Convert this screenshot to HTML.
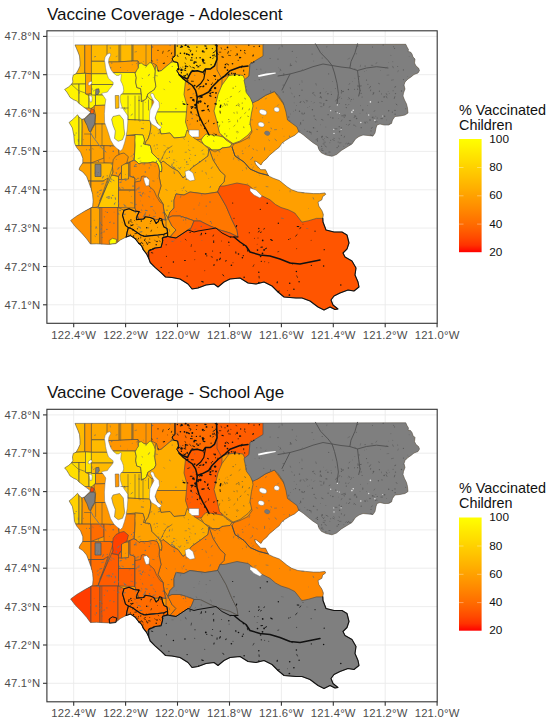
<!DOCTYPE html>
<html><head><meta charset="utf-8"><title>Vaccine Coverage</title>
<style>
html,body{margin:0;padding:0;background:#fff}
svg{display:block;font-family:"Liberation Sans",sans-serif}
</style></head><body>
<svg width="550" height="724" viewBox="0 0 550 724">
<defs><linearGradient id="lg" x1="0" y1="0" x2="0" y2="1">
<stop offset="0.0000" stop-color="#FFFF00"/>
<stop offset="0.0625" stop-color="#FFF400"/>
<stop offset="0.1250" stop-color="#FFE800"/>
<stop offset="0.1875" stop-color="#FFDD00"/>
<stop offset="0.2500" stop-color="#FFD100"/>
<stop offset="0.3125" stop-color="#FFC600"/>
<stop offset="0.3750" stop-color="#FFBA00"/>
<stop offset="0.4375" stop-color="#FFAE00"/>
<stop offset="0.5000" stop-color="#FFA100"/>
<stop offset="0.5625" stop-color="#FF9500"/>
<stop offset="0.6250" stop-color="#FF8800"/>
<stop offset="0.6875" stop-color="#FF7A00"/>
<stop offset="0.7500" stop-color="#FF6C00"/>
<stop offset="0.8125" stop-color="#FF5C00"/>
<stop offset="0.8750" stop-color="#FF4900"/>
<stop offset="0.9375" stop-color="#FF3200"/>
<stop offset="1.0000" stop-color="#FF0000"/>
</linearGradient></defs>
<rect width="550" height="724" fill="#fff"/>
<g stroke="#ebebeb" stroke-width="0.9" fill="none">
<line x1="73.7" y1="30.8" x2="73.7" y2="323.3"/>
<line x1="125.6" y1="30.8" x2="125.6" y2="323.3"/>
<line x1="177.5" y1="30.8" x2="177.5" y2="323.3"/>
<line x1="229.5" y1="30.8" x2="229.5" y2="323.3"/>
<line x1="281.4" y1="30.8" x2="281.4" y2="323.3"/>
<line x1="333.3" y1="30.8" x2="333.3" y2="323.3"/>
<line x1="385.2" y1="30.8" x2="385.2" y2="323.3"/>
<line x1="46.9" y1="36.4" x2="437.2" y2="36.4"/>
<line x1="46.9" y1="74.7" x2="437.2" y2="74.7"/>
<line x1="46.9" y1="113.1" x2="437.2" y2="113.1"/>
<line x1="46.9" y1="151.4" x2="437.2" y2="151.4"/>
<line x1="46.9" y1="189.8" x2="437.2" y2="189.8"/>
<line x1="46.9" y1="228.1" x2="437.2" y2="228.1"/>
<line x1="46.9" y1="266.5" x2="437.2" y2="266.5"/>
<line x1="46.9" y1="304.8" x2="437.2" y2="304.8"/>
</g>
<clipPath id="clip0"><polygon points="75.0,44.9 263.0,44.6 405.8,44.3 407.0,47.0 408.5,49.5 408.0,51.5 410.5,52.0 412.0,54.0 413.0,57.0 415.0,59.0 414.5,63.0 416.0,66.0 418.5,68.0 419.5,70.5 418.0,73.0 414.0,74.5 411.0,77.0 408.0,79.0 405.0,82.0 404.0,85.0 405.0,89.0 403.5,93.0 403.0,96.0 404.5,100.0 406.5,104.0 407.5,108.0 408.0,113.0 405.0,115.0 400.0,116.0 395.0,116.5 392.5,120.0 391.5,123.5 388.0,125.0 384.0,125.0 380.0,124.0 377.0,125.0 376.0,128.0 375.0,133.0 373.0,136.0 368.0,135.5 363.0,135.0 359.0,136.5 355.5,139.0 352.0,144.0 347.0,147.0 341.4,150.4 336.6,154.5 332.0,156.3 326.0,155.0 321.3,152.8 319.0,149.8 317.7,145.7 313.0,142.7 308.3,139.0 303.5,135.0 300.0,132.5 298.8,131.8 294.6,135.4 290.0,137.7 285.2,140.7 281.6,143.6 279.3,147.2 275.7,150.0 272.2,153.0 269.2,155.5 266.9,158.4 262.7,162.0 261.0,165.0 259.0,163.5 256.5,161.5 254.6,161.0 255.5,164.0 257.7,166.6 260.8,169.7 265.5,169.7 267.0,172.8 268.5,175.9 273.2,178.2 279.4,180.5 283.2,183.6 287.0,186.7 291.7,189.8 297.9,192.0 305.6,192.9 313.4,193.6 319.5,193.6 325.0,192.9 325.7,194.4 322.6,196.7 321.9,199.8 318.0,202.0 318.8,206.0 321.9,210.6 323.4,214.5 322.8,218.4 323.0,222.0 326.0,230.0 334.0,232.0 342.0,232.0 347.0,235.0 349.0,243.0 347.0,249.0 343.0,253.0 345.0,257.0 352.0,261.0 356.0,268.0 355.0,275.0 358.0,282.0 359.0,287.0 354.0,291.0 348.0,290.0 340.0,293.0 334.0,296.0 331.0,300.0 333.0,305.0 338.0,309.0 335.0,309.5 330.0,307.0 324.0,310.0 318.0,307.0 310.0,301.0 302.0,298.0 296.0,298.0 284.0,297.0 278.0,292.0 272.0,286.0 264.0,282.0 256.0,284.0 248.0,283.0 240.0,278.0 230.0,279.0 224.0,282.0 218.0,287.0 214.0,284.0 206.0,285.0 198.0,288.0 192.0,289.0 188.0,284.0 180.0,279.0 172.0,277.5 165.5,277.0 161.0,272.7 155.3,267.6 150.2,262.5 148.7,258.2 146.5,253.8 143.6,250.2 141.5,245.8 138.5,243.0 135.0,238.5 130.5,235.6 126.2,237.0 120.4,240.0 116.0,243.6 108.7,244.4 96.5,243.8 90.4,244.0 86.6,238.8 81.3,232.7 75.2,226.6 70.6,220.5 76.7,216.0 84.3,211.4 92.7,206.8 93.1,200.8 92.7,194.7 91.1,188.6 88.9,182.5 86.6,176.5 82.8,172.0 79.0,169.6 79.8,167.3 82.8,162.8 82.8,158.2 80.5,152.2 76.7,147.6 75.2,144.6 74.5,142.7 73.8,135.5 72.4,128.0 70.6,125.0 69.1,122.4 72.9,119.4 75.2,117.1 77.5,114.8 79.0,117.1 82.0,119.4 84.3,118.6 86.6,116.3 88.9,114.0 90.4,112.5 88.9,111.0 85.8,108.7 82.8,106.4 79.0,103.4 76.7,101.1 73.3,99.6 69.9,97.3 68.7,95.1 66.8,92.0 64.6,89.4 68.4,87.1 71.4,84.4 72.9,82.1 72.5,78.4 73.3,75.0 76.0,73.8 78.2,70.0 80.0,66.0 80.0,62.0 79.5,56.0 78.0,52.0 76.5,48.5"/></clipPath>
<g clip-path="url(#clip0)" stroke="#4c4c4c" stroke-width="0.65" stroke-linejoin="round">
<polygon points="75.0,44.9 263.0,44.6 405.8,44.3 407.0,47.0 408.5,49.5 408.0,51.5 410.5,52.0 412.0,54.0 413.0,57.0 415.0,59.0 414.5,63.0 416.0,66.0 418.5,68.0 419.5,70.5 418.0,73.0 414.0,74.5 411.0,77.0 408.0,79.0 405.0,82.0 404.0,85.0 405.0,89.0 403.5,93.0 403.0,96.0 404.5,100.0 406.5,104.0 407.5,108.0 408.0,113.0 405.0,115.0 400.0,116.0 395.0,116.5 392.5,120.0 391.5,123.5 388.0,125.0 384.0,125.0 380.0,124.0 377.0,125.0 376.0,128.0 375.0,133.0 373.0,136.0 368.0,135.5 363.0,135.0 359.0,136.5 355.5,139.0 352.0,144.0 347.0,147.0 341.4,150.4 336.6,154.5 332.0,156.3 326.0,155.0 321.3,152.8 319.0,149.8 317.7,145.7 313.0,142.7 308.3,139.0 303.5,135.0 300.0,132.5 298.8,131.8 294.6,135.4 290.0,137.7 285.2,140.7 281.6,143.6 279.3,147.2 275.7,150.0 272.2,153.0 269.2,155.5 266.9,158.4 262.7,162.0 261.0,165.0 259.0,163.5 256.5,161.5 254.6,161.0 255.5,164.0 257.7,166.6 260.8,169.7 265.5,169.7 267.0,172.8 268.5,175.9 273.2,178.2 279.4,180.5 283.2,183.6 287.0,186.7 291.7,189.8 297.9,192.0 305.6,192.9 313.4,193.6 319.5,193.6 325.0,192.9 325.7,194.4 322.6,196.7 321.9,199.8 318.0,202.0 318.8,206.0 321.9,210.6 323.4,214.5 322.8,218.4 323.0,222.0 326.0,230.0 334.0,232.0 342.0,232.0 347.0,235.0 349.0,243.0 347.0,249.0 343.0,253.0 345.0,257.0 352.0,261.0 356.0,268.0 355.0,275.0 358.0,282.0 359.0,287.0 354.0,291.0 348.0,290.0 340.0,293.0 334.0,296.0 331.0,300.0 333.0,305.0 338.0,309.0 335.0,309.5 330.0,307.0 324.0,310.0 318.0,307.0 310.0,301.0 302.0,298.0 296.0,298.0 284.0,297.0 278.0,292.0 272.0,286.0 264.0,282.0 256.0,284.0 248.0,283.0 240.0,278.0 230.0,279.0 224.0,282.0 218.0,287.0 214.0,284.0 206.0,285.0 198.0,288.0 192.0,289.0 188.0,284.0 180.0,279.0 172.0,277.5 165.5,277.0 161.0,272.7 155.3,267.6 150.2,262.5 148.7,258.2 146.5,253.8 143.6,250.2 141.5,245.8 138.5,243.0 135.0,238.5 130.5,235.6 126.2,237.0 120.4,240.0 116.0,243.6 108.7,244.4 96.5,243.8 90.4,244.0 86.6,238.8 81.3,232.7 75.2,226.6 70.6,220.5 76.7,216.0 84.3,211.4 92.7,206.8 93.1,200.8 92.7,194.7 91.1,188.6 88.9,182.5 86.6,176.5 82.8,172.0 79.0,169.6 79.8,167.3 82.8,162.8 82.8,158.2 80.5,152.2 76.7,147.6 75.2,144.6 74.5,142.7 73.8,135.5 72.4,128.0 70.6,125.0 69.1,122.4 72.9,119.4 75.2,117.1 77.5,114.8 79.0,117.1 82.0,119.4 84.3,118.6 86.6,116.3 88.9,114.0 90.4,112.5 88.9,111.0 85.8,108.7 82.8,106.4 79.0,103.4 76.7,101.1 73.3,99.6 69.9,97.3 68.7,95.1 66.8,92.0 64.6,89.4 68.4,87.1 71.4,84.4 72.9,82.1 72.5,78.4 73.3,75.0 76.0,73.8 78.2,70.0 80.0,66.0 80.0,62.0 79.5,56.0 78.0,52.0 76.5,48.5" fill="#FF9A00" stroke="none"/>
<polygon points="213.0,38.0 264.0,38.0 264.0,58.0 250.0,64.0 249.0,76.0 244.0,82.0 232.0,75.0 226.0,76.0 220.0,79.0 217.0,70.0 213.0,70.0" fill="#FF9A00"/>
<polygon points="175.0,62.0 217.0,60.0 217.0,70.0 222.0,79.0 222.0,139.0 203.0,139.0 194.0,140.0 187.0,132.0 180.0,100.0" fill="#FF9A00"/>
<polygon points="60.0,38.0 84.8,38.0 84.8,73.3 60.0,74.4" fill="#FFB300"/>
<polygon points="84.8,38.0 92.3,38.0 92.3,73.8 84.8,73.3" fill="#FF9F00"/>
<polygon points="84.8,73.3 92.3,73.8 92.3,94.0 84.8,94.0" fill="#FF9F00"/>
<polygon points="91.4,38.0 108.0,38.0 108.0,61.3 91.4,61.3" fill="#FFBA00"/>
<polygon points="91.4,61.3 108.0,61.3 112.0,73.8 91.4,73.8" fill="#FFC800"/>
<polygon points="107.0,38.0 119.2,38.0 119.2,62.0 107.0,62.0" fill="#FFBA00"/>
<polygon points="119.2,38.0 133.0,38.0 133.0,61.0 119.2,61.8" fill="#FFBA00"/>
<polygon points="133.0,38.0 151.5,38.0 151.5,64.5 146.0,66.0 140.0,64.5 138.0,61.0 133.0,61.0" fill="#FFAB00"/>
<polygon points="107.0,62.0 119.2,61.8 133.0,61.0 138.0,61.0 138.5,70.0 135.0,72.5 110.0,72.5" fill="#FFA100"/>
<polygon points="110.0,72.5 135.2,72.5 135.2,73.3 136.3,77.7 135.7,82.0 136.8,87.5 140.6,88.6 141.2,94.0 118.0,94.0 112.0,85.0" fill="#FFF800"/>
<polygon points="138.4,64.0 141.2,63.0 144.0,65.1 146.6,65.7 150.0,62.4 152.0,63.5 154.3,67.9 155.3,71.1 154.8,78.8 155.9,86.4 154.3,89.7 151.0,91.8 147.7,94.0 146.6,98.4 143.9,100.6 141.2,101.7 141.2,93.0 140.6,88.6 136.8,87.5 135.7,82.0 136.3,77.7 135.2,73.3 136.8,70.0 138.4,67.9" fill="#FFF800"/>
<polygon points="151.5,38.0 175.0,38.0 175.2,56.0 172.7,59.3 171.0,62.5 167.0,65.8 161.3,70.7 158.0,71.5 156.4,65.0 151.5,62.5" fill="#FF9700"/>
<polygon points="175.0,38.0 175.0,56.0 172.0,58.5 173.5,61.7 177.6,62.5 178.5,67.5 176.8,70.7 179.3,74.8 183.4,77.3 187.5,79.0 189.0,75.6 191.5,71.5 197.3,70.7 203.0,72.4 205.5,69.0 210.4,69.0 214.5,65.8 217.0,59.3 217.0,38.0" fill="#FFC600"/>
<polygon points="155.5,66.0 156.4,65.0 158.0,71.5 161.3,70.7 167.0,65.8 171.0,62.5 173.5,61.7 177.6,62.5 178.5,67.5 176.8,70.7 179.3,74.8 183.4,79.0 185.5,81.0 184.0,94.5 187.0,105.5 186.5,112.0 156.0,112.0 156.0,100.0 150.0,100.0 147.0,98.0 147.7,94.0 151.0,91.8 154.3,89.7 155.9,86.4 154.8,78.8 155.3,71.1" fill="#FFF800"/>
<polygon points="156.0,112.0 186.5,112.0 185.5,122.0 188.0,130.0 185.0,137.0 174.0,138.0 170.0,133.0 161.0,134.0 159.0,126.0 155.0,118.0" fill="#FFF800"/>
<polygon points="229.0,75.5 236.0,74.5 243.0,75.5 245.5,81.0 247.0,90.5 252.0,98.6 255.0,108.0 253.6,122.0 252.0,130.0 248.0,135.0 240.0,141.0 233.0,143.6 225.0,138.0 219.5,133.0 217.0,122.0 214.0,111.0 218.0,94.5 222.0,85.0" fill="#FFFD00"/>
<polygon points="203.0,137.0 206.0,134.0 219.0,136.0 223.0,137.0 226.0,140.0 232.0,144.0 230.0,147.0 222.0,148.0 220.0,150.0 212.0,150.0 210.0,148.0 204.0,145.0 201.0,140.0" fill="#FFFD00"/>
<polygon points="209.0,149.0 212.0,150.0 220.0,150.0 222.0,148.0 230.0,147.0 232.0,144.0 234.0,144.0 240.0,150.0 270.0,150.0 340.0,185.0 340.0,230.0 300.0,230.0 260.0,205.0 240.0,190.0 224.0,190.0 220.0,186.0 224.0,182.0 225.0,175.5 220.0,171.0 213.0,160.0" fill="#FF9F00"/>
<polygon points="234.0,144.0 240.0,142.0 248.0,138.0 252.0,132.0 250.0,123.0 251.5,113.0 253.0,106.0 252.0,100.0 257.8,100.4 265.5,95.3 274.4,91.5 300.0,127.0 300.0,140.0 268.0,165.0 270.0,175.5 259.0,173.0 250.0,169.0 244.0,162.0 235.0,156.0 232.0,147.0" fill="#FF9C00"/>
<polygon points="263.0,38.0 430.0,38.0 430.0,175.0 300.0,175.0 298.8,131.8 297.0,127.0 292.3,123.5 287.5,120.0 286.0,112.0 283.3,102.9 278.2,95.3 274.4,91.5 265.5,95.3 257.8,100.4 252.7,102.9 250.2,97.8 246.4,92.7 245.0,85.0 244.0,80.0 249.0,76.0 250.0,64.0 263.0,56.0" fill="#7f7f7f"/>
<polygon points="60.0,74.4 85.5,73.3 85.5,84.0 60.0,84.5" fill="#FFEB00"/>
<polygon points="60.0,84.3 79.0,84.0 79.0,108.0 60.0,108.0" fill="#FFF400"/>
<polygon points="79.0,84.0 85.5,84.0 85.5,94.0 89.0,95.5 89.0,108.0 79.0,108.0" fill="#FFF400"/>
<polygon points="89.0,94.0 91.4,94.0 95.5,95.0 95.5,105.5 91.0,108.5 89.0,108.0" fill="#FFF400"/>
<polygon points="91.4,73.8 114.0,73.8 114.0,84.5 91.4,84.5" fill="#FFEF00"/>
<polygon points="91.4,84.5 114.0,84.5 114.0,95.0 91.4,95.0" fill="#FFF600"/>
<polygon points="95.8,89.2 98.8,88.8 99.3,92.0 97.5,95.0 95.6,94.5" fill="#7f7f7f"/>
<polygon points="95.5,95.0 108.0,95.0 108.0,105.3 95.5,105.5" fill="#FFF400"/>
<polygon points="94.2,105.5 108.0,105.0 108.0,124.0 95.0,124.0 95.6,115.0 94.2,110.0" fill="#FFAB00"/>
<polygon points="91.3,108.5 94.2,110.0 93.7,113.6 89.8,113.6" fill="#FF5F00"/>
<polygon points="84.2,119.3 87.4,116.0 90.4,113.8 94.2,113.6 95.3,115.5 94.5,124.2 91.8,128.5 90.2,133.0 88.5,130.7 86.4,125.3" fill="#7f7f7f"/>
<polygon points="60.0,110.0 79.0,110.0 79.0,145.6 60.0,145.6" fill="#FFF100"/>
<polygon points="79.0,110.0 82.0,119.4 82.2,125.0 82.0,145.6 79.0,145.6" fill="#FFE800"/>
<polygon points="82.0,119.4 84.3,118.6 84.7,121.0 87.0,125.3 89.0,131.0 90.5,132.5 92.7,128.2 95.0,124.0 108.0,124.0 118.0,146.0 82.0,145.6 82.2,125.0" fill="#FFA900"/>
<polygon points="118.0,94.0 141.2,94.0 141.2,101.7 143.9,100.6 146.6,98.4 147.2,96.0 150.0,99.0 152.0,100.0 152.0,121.0 128.4,119.5 120.0,120.0 118.0,110.0" fill="#FFF600"/>
<polygon points="126.0,119.5 150.0,120.5 151.0,126.0 150.0,133.0 148.0,139.0 146.0,141.5 145.0,144.5 143.5,144.5 144.5,140.0 143.0,135.0 135.0,134.5 126.0,135.5" fill="#FFC800"/>
<polygon points="135.0,134.5 143.0,135.0 144.5,140.0 143.5,144.0 150.0,145.0 151.0,148.0 152.0,153.0 155.0,156.0 158.0,159.0 161.0,163.0 162.0,168.0 161.5,172.0 159.5,171.0 158.5,166.0 157.0,163.0 153.0,162.0 148.0,163.0 141.0,163.0 139.0,164.0 137.0,162.0 134.0,160.0 134.5,155.0 135.0,145.0 134.5,140.0" fill="#FFFD00"/>
<polygon points="122.0,135.5 135.0,135.5 134.5,155.0 134.0,160.0 130.0,162.0 120.0,164.0 118.0,146.0" fill="#FFA100"/>
<polygon points="150.3,121.0 154.0,121.0 158.0,124.0 161.0,134.0 170.0,133.0 174.0,138.0 185.0,137.0 187.0,130.0 194.0,138.0 202.0,143.0 209.0,149.0 208.0,156.0 200.0,162.0 191.5,168.0 186.0,175.5 183.0,178.0 178.0,171.0 172.0,168.0 167.5,164.5 163.0,161.0 161.0,163.0 158.0,159.0 155.0,156.0 152.0,153.0 151.0,148.0 150.0,145.0 145.0,144.5 146.0,141.5 148.0,139.0 150.0,133.0 151.0,126.0" fill="#FFBF00"/>
<polygon points="161.5,172.0 162.0,168.0 161.0,163.0 163.0,161.0 167.5,164.5 172.0,168.0 178.0,171.0 183.0,178.0 186.0,175.5 191.5,168.0 200.0,162.0 208.0,156.0 209.0,149.0 213.0,160.0 220.0,171.0 225.0,175.5 224.0,182.0 220.0,186.0 217.6,192.0 205.0,194.0 190.0,192.0 184.0,195.0 176.0,194.0 174.0,200.0 174.0,208.0 170.0,212.0 168.0,218.0 164.0,212.0 163.0,204.0 158.0,196.0 161.0,186.0 159.0,176.0 159.5,171.0" fill="#FFAE00"/>
<polygon points="60.0,145.6 91.0,145.6 91.0,163.0 60.0,163.0" fill="#FFA100"/>
<polygon points="91.0,145.6 104.0,145.6 104.0,158.0 91.0,163.0" fill="#FFA100"/>
<polygon points="60.0,163.0 91.0,163.0 91.0,181.0 60.0,181.0" fill="#FFA100"/>
<polygon points="60.0,181.0 91.0,181.0 91.0,208.0 60.0,222.0" fill="#FFA100"/>
<polygon points="104.0,145.6 118.0,146.0 120.0,164.0 104.0,163.0 104.0,158.0" fill="#FF9700"/>
<polygon points="91.0,163.0 104.0,163.0 113.0,163.0 113.0,175.0 105.0,190.0 98.0,207.0 91.0,208.0" fill="#FFB700"/>
<polygon points="91.0,181.0 103.0,181.0 108.0,178.0 98.0,207.0 91.0,208.0" fill="#FFA100"/>
<polygon points="111.7,175.0 118.5,176.5 118.5,207.5 98.0,207.5 105.0,190.0" fill="#FFC800"/>
<polygon points="95.0,164.3 101.0,164.3 101.0,176.5 95.0,176.5" fill="#7f7f7f"/>
<polygon points="118.5,176.0 130.0,162.0 130.0,176.0 135.0,178.0 135.0,208.0 118.5,207.5" fill="#FF9700"/>
<polygon points="121.5,164.0 127.0,164.0 130.0,162.0 130.0,176.0 135.0,178.0 135.0,190.0 118.5,190.0 118.5,179.5 121.5,179.5" fill="#FF9700"/>
<polygon points="121.5,164.0 128.5,163.5 128.5,179.0 121.5,179.5" fill="#FFB500"/>
<polygon points="120.8,153.7 124.0,153.0 128.4,156.7 126.8,162.8 121.5,165.8 121.5,172.0 120.0,173.4 118.5,176.5 116.2,175.7 111.7,175.0 113.2,172.0 112.4,167.3 113.2,159.7 116.0,156.0" fill="#FF9700"/>
<polygon points="130.0,162.0 134.0,160.0 137.0,162.0 139.0,164.0 141.0,163.0 148.0,163.0 153.0,162.0 157.0,163.0 158.5,166.0 159.5,171.0 159.0,176.0 161.0,186.0 158.0,196.0 163.0,204.0 164.0,212.0 166.0,220.0 160.0,219.0 154.0,220.0 146.0,218.0 139.0,220.0 136.0,211.0 135.0,208.0 135.0,178.0 130.0,176.0" fill="#FF9200"/>
<polygon points="135.0,182.0 140.5,181.0 141.5,176.5 144.0,176.0 148.0,178.0 149.0,186.0 154.0,190.5 156.5,196.4 160.0,202.0 163.0,204.0 164.0,212.0 166.0,220.0 160.0,219.0 154.0,220.0 146.0,218.0 139.0,220.0 136.0,211.0 135.0,208.0" fill="#FF8200"/>
<polygon points="164.0,212.0 168.0,218.0 172.0,226.0 176.0,230.0 170.0,237.0 163.0,238.0 166.0,228.0 166.0,220.0" fill="#FFA100"/>
<polygon points="60.0,222.0 91.0,208.0 91.0,246.0 60.0,246.0" fill="#FF9000"/>
<polygon points="91.0,207.5 100.0,207.5 100.0,246.0 91.0,246.0" fill="#FFA400"/>
<polygon points="100.0,207.5 118.0,207.5 118.0,246.0 100.0,246.0" fill="#FF8200"/>
<polygon points="118.0,207.5 124.0,210.2 122.5,215.3 124.0,220.4 125.5,225.5 128.4,227.6 127.0,232.7 126.2,238.0 118.0,246.0" fill="#FFA400"/>
<polygon points="109.5,244.4 109.2,240.5 112.5,238.3 116.7,239.5 116.0,243.6" fill="#FFFD00"/>
<polygon points="124.0,210.2 129.0,208.7 134.2,211.0 139.3,211.6 137.0,216.0 136.4,219.6 143.6,219.0 145.0,216.7 150.2,217.5 153.8,219.0 156.0,223.3 158.2,221.8 159.6,218.2 161.8,219.0 162.5,223.3 164.0,227.0 167.0,228.4 167.6,232.7 164.0,234.2 158.2,235.0 151.0,235.6 145.0,236.4 140.7,235.0 136.4,232.0 132.0,229.0 128.4,227.6 125.5,225.5 124.0,220.4 122.5,215.3" fill="#FFA100"/>
<polygon points="128.4,227.6 132.0,229.0 136.4,232.0 140.7,235.0 145.0,236.4 151.0,235.6 158.2,235.0 164.0,234.2 167.6,232.7 167.6,236.4 162.5,237.8 162.5,242.2 161.0,247.3 155.3,248.0 148.7,251.0 150.0,270.0 120.0,250.0 126.2,238.0 127.0,232.7" fill="#FF9C00"/>
<polygon points="176.0,194.0 184.0,195.0 190.0,192.0 205.0,194.0 218.0,192.0 226.0,206.0 232.0,220.0 237.0,230.0 238.0,237.0 230.0,233.0 220.0,230.0 210.0,226.0 200.0,221.0 194.0,221.0 192.0,220.0 180.0,216.0 172.0,216.0 168.0,218.0 170.0,212.0 174.0,208.0 174.0,200.0" fill="#FF7700"/>
<polygon points="172.0,216.0 180.0,216.0 192.0,220.0 194.0,221.0 192.0,226.0 190.0,230.0 188.0,230.0 182.0,234.0 176.0,238.0 170.0,237.0 176.0,230.0 172.0,226.0 168.0,218.0" fill="#FF7A00"/>
<polygon points="148.7,251.0 155.3,248.0 161.0,247.3 162.5,242.0 163.0,238.0 167.6,236.4 170.0,237.0 176.0,238.0 182.0,234.0 188.0,230.0 190.0,230.0 192.0,226.0 194.0,221.0 200.0,221.0 210.0,226.0 220.0,230.0 230.0,233.0 238.0,237.0 237.0,230.0 232.0,220.0 226.0,206.0 218.0,192.0 217.6,192.0 220.0,186.0 224.0,186.0 237.0,183.0 248.0,185.0 252.5,188.5 254.6,193.6 262.4,196.0 270.0,199.8 275.5,204.5 281.0,207.5 288.6,209.9 294.8,213.0 299.5,219.0 301.8,222.2 308.7,220.7 316.5,218.4 322.8,218.4 380.0,216.0 380.0,330.0 140.0,330.0 140.0,262.0" fill="#FF5500"/>
</g>
<g fill="#fff" stroke="#666" stroke-width="0.45" stroke-linejoin="round">
<polygon points="110.0,53.0 110.8,54.9 108.9,58.7 108.5,62.5 109.7,66.3 111.2,70.0 113.5,73.1 116.5,75.4 118.8,75.4 120.3,74.2 121.4,74.6 121.0,77.6 120.7,80.7 122.2,83.7 123.3,86.8 123.7,90.6 122.6,93.6 121.0,94.3 120.0,97.0 120.5,102.0 122.0,107.0 124.5,111.0 128.0,116.0 127.8,122.0 127.2,130.0 126.0,137.0 124.5,143.0 122.5,149.0 120.5,151.0 117.0,148.5 113.8,145.6 110.5,140.0 108.7,134.0 106.8,128.2 104.6,122.4 104.4,113.6 105.0,105.0 105.8,99.5 102.8,95.1 101.3,93.6 103.6,92.8 107.4,92.1 108.9,89.8 111.2,87.1 113.1,84.5 113.1,82.2 111.2,80.7 108.5,78.4 107.4,75.4 106.3,71.6 105.5,67.8 105.1,64.0 104.4,60.2 105.1,57.1 107.4,54.1"/>
<polygon points="151.5,93.0 153.5,94.0 155.0,98.0 159.0,102.0 159.5,107.0 157.0,112.0 155.0,118.0 157.0,123.0 161.5,127.0 160.0,129.0 158.0,129.0 156.5,127.0 151.5,124.0 149.5,120.0 149.5,115.0 150.0,110.0 152.0,106.0 154.0,102.0 152.0,98.0 150.5,95.0"/>
<polygon points="89.0,96.0 91.5,95.6 92.2,98.0 91.8,101.8 90.0,102.0 89.6,99.0"/>
<polygon points="88.0,84.6 88.6,82.6 90.3,81.4 91.8,81.6 92.0,83.0 90.8,84.6 89.2,85.4"/>
<polygon points="189.0,130.0 199.0,130.0 199.0,137.0 192.0,137.0 189.0,134.0"/>
<polygon points="185.0,171.5 189.0,170.0 193.0,173.0 195.0,180.0 190.0,181.0 186.0,178.0"/>
<polygon points="143.5,178.0 146.5,177.0 149.5,180.0 149.0,185.5 146.0,186.0 144.5,182.0"/>
<polygon points="250.0,188.0 256.0,190.0 262.0,196.0 260.0,198.0 254.0,195.0 250.0,191.0"/>
</g>
<g stroke="#555" stroke-width="0.5" stroke-linejoin="round">
<polygon points="115.2,95.5 118.8,95.5 119.0,108.0 115.5,108.5" fill="#FFBA00"/>
<polygon points="113.0,116.5 119.6,115.0 123.3,119.5 124.0,128.2 124.7,134.0 122.5,139.8 118.2,141.3 114.5,138.4 115.3,131.0 113.0,125.3 111.6,119.5" fill="#FFF600"/>
</g>
<polygon points="75.0,44.9 263.0,44.6 405.8,44.3 407.0,47.0 408.5,49.5 408.0,51.5 410.5,52.0 412.0,54.0 413.0,57.0 415.0,59.0 414.5,63.0 416.0,66.0 418.5,68.0 419.5,70.5 418.0,73.0 414.0,74.5 411.0,77.0 408.0,79.0 405.0,82.0 404.0,85.0 405.0,89.0 403.5,93.0 403.0,96.0 404.5,100.0 406.5,104.0 407.5,108.0 408.0,113.0 405.0,115.0 400.0,116.0 395.0,116.5 392.5,120.0 391.5,123.5 388.0,125.0 384.0,125.0 380.0,124.0 377.0,125.0 376.0,128.0 375.0,133.0 373.0,136.0 368.0,135.5 363.0,135.0 359.0,136.5 355.5,139.0 352.0,144.0 347.0,147.0 341.4,150.4 336.6,154.5 332.0,156.3 326.0,155.0 321.3,152.8 319.0,149.8 317.7,145.7 313.0,142.7 308.3,139.0 303.5,135.0 300.0,132.5 298.8,131.8 294.6,135.4 290.0,137.7 285.2,140.7 281.6,143.6 279.3,147.2 275.7,150.0 272.2,153.0 269.2,155.5 266.9,158.4 262.7,162.0 261.0,165.0 259.0,163.5 256.5,161.5 254.6,161.0 255.5,164.0 257.7,166.6 260.8,169.7 265.5,169.7 267.0,172.8 268.5,175.9 273.2,178.2 279.4,180.5 283.2,183.6 287.0,186.7 291.7,189.8 297.9,192.0 305.6,192.9 313.4,193.6 319.5,193.6 325.0,192.9 325.7,194.4 322.6,196.7 321.9,199.8 318.0,202.0 318.8,206.0 321.9,210.6 323.4,214.5 322.8,218.4 323.0,222.0 326.0,230.0 334.0,232.0 342.0,232.0 347.0,235.0 349.0,243.0 347.0,249.0 343.0,253.0 345.0,257.0 352.0,261.0 356.0,268.0 355.0,275.0 358.0,282.0 359.0,287.0 354.0,291.0 348.0,290.0 340.0,293.0 334.0,296.0 331.0,300.0 333.0,305.0 338.0,309.0 335.0,309.5 330.0,307.0 324.0,310.0 318.0,307.0 310.0,301.0 302.0,298.0 296.0,298.0 284.0,297.0 278.0,292.0 272.0,286.0 264.0,282.0 256.0,284.0 248.0,283.0 240.0,278.0 230.0,279.0 224.0,282.0 218.0,287.0 214.0,284.0 206.0,285.0 198.0,288.0 192.0,289.0 188.0,284.0 180.0,279.0 172.0,277.5 165.5,277.0 161.0,272.7 155.3,267.6 150.2,262.5 148.7,258.2 146.5,253.8 143.6,250.2 141.5,245.8 138.5,243.0 135.0,238.5 130.5,235.6 126.2,237.0 120.4,240.0 116.0,243.6 108.7,244.4 96.5,243.8 90.4,244.0 86.6,238.8 81.3,232.7 75.2,226.6 70.6,220.5 76.7,216.0 84.3,211.4 92.7,206.8 93.1,200.8 92.7,194.7 91.1,188.6 88.9,182.5 86.6,176.5 82.8,172.0 79.0,169.6 79.8,167.3 82.8,162.8 82.8,158.2 80.5,152.2 76.7,147.6 75.2,144.6 74.5,142.7 73.8,135.5 72.4,128.0 70.6,125.0 69.1,122.4 72.9,119.4 75.2,117.1 77.5,114.8 79.0,117.1 82.0,119.4 84.3,118.6 86.6,116.3 88.9,114.0 90.4,112.5 88.9,111.0 85.8,108.7 82.8,106.4 79.0,103.4 76.7,101.1 73.3,99.6 69.9,97.3 68.7,95.1 66.8,92.0 64.6,89.4 68.4,87.1 71.4,84.4 72.9,82.1 72.5,78.4 73.3,75.0 76.0,73.8 78.2,70.0 80.0,66.0 80.0,62.0 79.5,56.0 78.0,52.0 76.5,48.5" fill="none" stroke="#555" stroke-width="0.6" stroke-linejoin="round"/>
<path d="M315.5 43.8 L320.5 52.7 L328.0 60.4 L332.0 65.5 L334.5 73.0 L337.0 83.3 L338.4 93.5 L337.0 103.6" fill="none" stroke="#545454" stroke-width="1.00" stroke-linejoin="round" stroke-linecap="round"/>
<path d="M357.5 43.8 L355.0 52.7 L351.0 61.6 L349.8 68.0 L357.5 70.5 L358.7 80.7 L360.0 90.9 L358.7 96.0" fill="none" stroke="#545454" stroke-width="1.00" stroke-linejoin="round" stroke-linecap="round"/>
<path d="M332.0 65.5 L341.0 67.0 L349.8 68.0" fill="none" stroke="#545454" stroke-width="1.00" stroke-linejoin="round" stroke-linecap="round"/>
<path d="M357.5 70.5 L366.4 68.0 L376.5 66.7 L388.0 68.0" fill="none" stroke="#545454" stroke-width="1.00" stroke-linejoin="round" stroke-linecap="round"/>
<path d="M332.0 65.5 L323.0 64.0 L313.0 66.7 L302.7 70.5 L290.0 74.0 L278.0 76.0" fill="none" stroke="#545454" stroke-width="1.00" stroke-linejoin="round" stroke-linecap="round"/>
<path d="M290.0 74.0 L286.0 82.0 L282.0 90.0" fill="none" stroke="#545454" stroke-width="1.00" stroke-linejoin="round" stroke-linecap="round"/>
<g fill="#5a5a5a" stroke="#5a5a5a" stroke-linecap="round">
<circle cx="328.1" cy="114.7" r="0.67" stroke="none"/>
<circle cx="338.5" cy="118.5" r="0.37" stroke="none"/>
<circle cx="261.5" cy="79.6" r="0.34" stroke="none"/>
<line x1="365.6" y1="122.3" x2="365.6" y2="123.2" stroke-width="0.47"/>
<circle cx="279.4" cy="71.1" r="0.31" stroke="none"/>
<circle cx="325.9" cy="153.4" r="0.51" stroke="none"/>
<line x1="337.0" y1="128.8" x2="334.8" y2="128.8" stroke-width="0.63"/>
<line x1="302.6" y1="69.5" x2="301.6" y2="70.4" stroke-width="0.54"/>
<circle cx="401.5" cy="91.0" r="0.68" stroke="none"/>
<line x1="388.8" y1="75.0" x2="387.0" y2="75.2" stroke-width="0.44"/>
<line x1="265.9" y1="71.8" x2="265.1" y2="72.4" stroke-width="0.44"/>
<circle cx="348.0" cy="99.3" r="0.38" stroke="none"/>
<circle cx="283.6" cy="75.0" r="0.69" stroke="none"/>
<circle cx="283.2" cy="92.0" r="0.64" stroke="none"/>
<line x1="283.7" y1="73.4" x2="284.2" y2="74.1" stroke-width="0.79"/>
<circle cx="289.2" cy="120.4" r="0.45" stroke="none"/>
<circle cx="278.0" cy="59.1" r="0.66" stroke="none"/>
<circle cx="290.4" cy="64.0" r="0.60" stroke="none"/>
<circle cx="322.4" cy="52.2" r="0.32" stroke="none"/>
<circle cx="354.9" cy="78.2" r="0.37" stroke="none"/>
<circle cx="256.8" cy="69.3" r="0.52" stroke="none"/>
<line x1="358.3" y1="76.4" x2="359.4" y2="76.5" stroke-width="0.87"/>
<line x1="326.9" y1="46.3" x2="326.7" y2="47.2" stroke-width="0.48"/>
<line x1="372.6" y1="118.1" x2="374.6" y2="118.2" stroke-width="0.46"/>
<circle cx="333.7" cy="138.1" r="0.43" stroke="none"/>
<circle cx="309.4" cy="131.9" r="0.66" stroke="none"/>
<circle cx="321.6" cy="146.3" r="0.65" stroke="none"/>
<circle cx="360.2" cy="90.4" r="0.53" stroke="none"/>
<circle cx="379.4" cy="91.2" r="0.59" stroke="none"/>
<circle cx="325.9" cy="152.9" r="0.33" stroke="none"/>
<circle cx="333.5" cy="69.5" r="0.58" stroke="none"/>
<line x1="300.0" y1="130.9" x2="298.3" y2="131.4" stroke-width="0.50"/>
<circle cx="304.8" cy="129.2" r="0.38" stroke="none"/>
<circle cx="352.5" cy="81.4" r="0.35" stroke="none"/>
<line x1="295.5" y1="61.2" x2="296.6" y2="62.0" stroke-width="0.62"/>
<circle cx="360.4" cy="105.7" r="0.43" stroke="none"/>
<circle cx="375.8" cy="116.2" r="0.42" stroke="none"/>
<line x1="398.3" y1="70.5" x2="397.8" y2="71.8" stroke-width="0.46"/>
<circle cx="361.2" cy="127.7" r="0.62" stroke="none"/>
<line x1="371.3" y1="65.3" x2="372.8" y2="65.4" stroke-width="0.64"/>
<line x1="376.8" y1="62.5" x2="375.9" y2="63.8" stroke-width="0.53"/>
<circle cx="314.1" cy="115.9" r="0.65" stroke="none"/>
<circle cx="365.1" cy="66.1" r="0.59" stroke="none"/>
<circle cx="343.9" cy="146.3" r="0.43" stroke="none"/>
<circle cx="403.2" cy="85.7" r="0.33" stroke="none"/>
<line x1="346.4" y1="143.2" x2="345.6" y2="143.8" stroke-width="0.64"/>
<circle cx="392.8" cy="61.7" r="0.43" stroke="none"/>
<circle cx="270.1" cy="58.4" r="0.51" stroke="none"/>
<circle cx="362.8" cy="109.6" r="0.64" stroke="none"/>
<circle cx="302.0" cy="90.2" r="0.64" stroke="none"/>
<circle cx="350.6" cy="65.5" r="0.51" stroke="none"/>
<circle cx="318.5" cy="147.7" r="0.53" stroke="none"/>
<circle cx="372.5" cy="47.0" r="0.52" stroke="none"/>
<circle cx="294.1" cy="102.8" r="0.35" stroke="none"/>
<circle cx="332.6" cy="81.5" r="0.38" stroke="none"/>
<line x1="280.1" y1="69.1" x2="280.8" y2="70.6" stroke-width="0.75"/>
<circle cx="290.6" cy="65.1" r="0.51" stroke="none"/>
<line x1="313.9" y1="94.6" x2="315.2" y2="95.6" stroke-width="0.67"/>
<circle cx="362.8" cy="110.6" r="0.64" stroke="none"/>
<circle cx="403.4" cy="69.9" r="0.60" stroke="none"/>
<circle cx="409.1" cy="56.3" r="0.40" stroke="none"/>
<circle cx="292.3" cy="51.3" r="0.63" stroke="none"/>
<circle cx="390.9" cy="55.3" r="0.46" stroke="none"/>
<circle cx="338.1" cy="141.9" r="0.50" stroke="none"/>
<line x1="279.2" y1="47.7" x2="278.9" y2="49.2" stroke-width="0.45"/>
<line x1="349.8" y1="58.1" x2="347.9" y2="59.1" stroke-width="0.49"/>
<circle cx="329.9" cy="142.8" r="0.43" stroke="none"/>
<line x1="339.8" y1="96.9" x2="338.7" y2="98.5" stroke-width="0.70"/>
<line x1="381.5" y1="93.5" x2="381.5" y2="94.3" stroke-width="0.49"/>
<circle cx="361.1" cy="93.4" r="0.54" stroke="none"/>
<circle cx="395.5" cy="93.6" r="0.66" stroke="none"/>
<line x1="386.3" y1="93.6" x2="387.0" y2="94.9" stroke-width="0.77"/>
<circle cx="246.0" cy="86.7" r="0.56" stroke="none"/>
<circle cx="367.9" cy="84.3" r="0.56" stroke="none"/>
<circle cx="343.2" cy="91.4" r="0.70" stroke="none"/>
<line x1="291.7" y1="93.0" x2="292.1" y2="93.9" stroke-width="0.42"/>
<circle cx="346.3" cy="107.6" r="0.69" stroke="none"/>
<circle cx="394.6" cy="48.4" r="0.54" stroke="none"/>
<circle cx="357.7" cy="46.0" r="0.68" stroke="none"/>
<line x1="342.0" y1="119.9" x2="341.2" y2="121.3" stroke-width="0.58"/>
<circle cx="383.2" cy="44.9" r="0.70" stroke="none"/>
<line x1="323.9" y1="103.4" x2="323.7" y2="105.5" stroke-width="0.90"/>
<circle cx="378.4" cy="102.2" r="0.69" stroke="none"/>
<circle cx="356.3" cy="53.8" r="0.55" stroke="none"/>
<line x1="281.9" y1="45.1" x2="282.2" y2="46.8" stroke-width="0.66"/>
<circle cx="328.7" cy="73.9" r="0.53" stroke="none"/>
<circle cx="388.7" cy="110.7" r="0.70" stroke="none"/>
<circle cx="380.6" cy="70.7" r="0.35" stroke="none"/>
<line x1="389.9" y1="123.6" x2="389.0" y2="125.0" stroke-width="0.58"/>
<line x1="354.1" y1="124.7" x2="355.6" y2="126.3" stroke-width="0.78"/>
<line x1="294.4" y1="96.3" x2="294.3" y2="97.1" stroke-width="0.71"/>
<circle cx="346.4" cy="124.5" r="0.45" stroke="none"/>
<circle cx="283.2" cy="85.1" r="0.60" stroke="none"/>
<line x1="387.0" y1="67.2" x2="385.9" y2="67.9" stroke-width="0.61"/>
<circle cx="304.5" cy="113.2" r="0.60" stroke="none"/>
<circle cx="323.5" cy="88.6" r="0.34" stroke="none"/>
<line x1="348.9" y1="104.4" x2="348.3" y2="105.0" stroke-width="0.75"/>
<circle cx="259.2" cy="79.6" r="0.59" stroke="none"/>
<circle cx="296.6" cy="57.6" r="0.44" stroke="none"/>
<circle cx="312.1" cy="54.1" r="0.58" stroke="none"/>
<line x1="393.4" y1="79.8" x2="391.4" y2="80.2" stroke-width="0.56"/>
<line x1="290.2" y1="87.6" x2="290.6" y2="88.8" stroke-width="0.58"/>
<circle cx="392.3" cy="112.1" r="0.63" stroke="none"/>
<circle cx="407.8" cy="76.6" r="0.31" stroke="none"/>
<circle cx="345.2" cy="115.7" r="0.69" stroke="none"/>
<circle cx="393.6" cy="46.8" r="0.52" stroke="none"/>
<circle cx="364.7" cy="71.6" r="0.39" stroke="none"/>
<line x1="341.0" y1="142.8" x2="339.3" y2="142.9" stroke-width="0.60"/>
<circle cx="335.8" cy="111.6" r="0.59" stroke="none"/>
<circle cx="341.4" cy="135.3" r="0.62" stroke="none"/>
<circle cx="322.2" cy="58.0" r="0.60" stroke="none"/>
<circle cx="313.8" cy="61.0" r="0.38" stroke="none"/>
<circle cx="255.0" cy="80.3" r="0.35" stroke="none"/>
<circle cx="388.3" cy="62.6" r="0.32" stroke="none"/>
<circle cx="278.3" cy="67.8" r="0.39" stroke="none"/>
<line x1="354.6" y1="68.7" x2="356.2" y2="69.6" stroke-width="0.49"/>
<circle cx="302.0" cy="113.1" r="0.63" stroke="none"/>
<circle cx="333.8" cy="68.3" r="0.32" stroke="none"/>
<circle cx="393.1" cy="90.7" r="0.51" stroke="none"/>
<circle cx="366.3" cy="70.6" r="0.30" stroke="none"/>
<line x1="376.7" y1="121.0" x2="377.3" y2="122.0" stroke-width="0.47"/>
<circle cx="405.7" cy="108.7" r="0.55" stroke="none"/>
<circle cx="293.6" cy="111.2" r="0.36" stroke="none"/>
<line x1="259.3" y1="75.0" x2="259.4" y2="76.4" stroke-width="0.76"/>
<circle cx="403.5" cy="79.6" r="0.62" stroke="none"/>
<circle cx="397.7" cy="66.6" r="0.52" stroke="none"/>
<line x1="301.9" y1="80.6" x2="302.1" y2="82.4" stroke-width="0.43"/>
<line x1="310.9" y1="132.1" x2="311.2" y2="134.3" stroke-width="0.44"/>
<line x1="246.3" y1="89.7" x2="246.0" y2="91.1" stroke-width="0.76"/>
<line x1="392.7" y1="66.3" x2="393.3" y2="67.8" stroke-width="0.71"/>
<circle cx="299.5" cy="84.2" r="0.46" stroke="none"/>
<line x1="291.7" y1="65.4" x2="290.1" y2="65.7" stroke-width="0.77"/>
<line x1="378.6" y1="83.4" x2="379.5" y2="83.8" stroke-width="0.82"/>
<circle cx="370.1" cy="135.0" r="0.37" stroke="none"/>
<line x1="260.8" y1="69.0" x2="261.0" y2="69.9" stroke-width="0.47"/>
<circle cx="339.2" cy="126.7" r="0.61" stroke="none"/>
<line x1="315.8" y1="83.4" x2="316.3" y2="85.1" stroke-width="0.60"/>
<line x1="366.8" y1="121.4" x2="367.6" y2="122.9" stroke-width="0.40"/>
<circle cx="263.8" cy="89.7" r="0.50" stroke="none"/>
<circle cx="309.6" cy="106.6" r="0.36" stroke="none"/>
<line x1="360.6" y1="65.1" x2="360.2" y2="66.8" stroke-width="0.43"/>
<circle cx="311.2" cy="101.4" r="0.35" stroke="none"/>
<line x1="345.1" y1="114.8" x2="343.0" y2="115.4" stroke-width="0.68"/>
<line x1="288.8" y1="116.6" x2="288.7" y2="117.5" stroke-width="0.82"/>
<circle cx="366.5" cy="80.1" r="0.57" stroke="none"/>
<line x1="315.0" y1="119.1" x2="316.2" y2="119.9" stroke-width="0.81"/>
<line x1="270.6" y1="90.9" x2="270.5" y2="92.1" stroke-width="0.69"/>
<line x1="349.7" y1="83.5" x2="349.1" y2="84.4" stroke-width="0.72"/>
<circle cx="331.4" cy="94.4" r="0.55" stroke="none"/>
<circle cx="320.1" cy="97.5" r="0.53" stroke="none"/>
</g>
<g fill="#585858" stroke="#585858" stroke-linecap="round">
<circle cx="322.2" cy="136.4" r="0.66" stroke="none"/>
<line x1="314.5" y1="102.3" x2="313.8" y2="103.0" stroke-width="0.54"/>
<circle cx="350.8" cy="101.0" r="0.48" stroke="none"/>
<circle cx="296.5" cy="105.7" r="0.42" stroke="none"/>
<circle cx="322.0" cy="148.7" r="0.57" stroke="none"/>
<circle cx="354.2" cy="117.2" r="0.51" stroke="none"/>
<circle cx="327.9" cy="93.8" r="0.72" stroke="none"/>
<circle cx="353.2" cy="141.1" r="0.41" stroke="none"/>
<circle cx="341.6" cy="98.2" r="0.44" stroke="none"/>
<line x1="321.6" y1="119.5" x2="323.0" y2="120.1" stroke-width="0.81"/>
<line x1="319.7" y1="102.7" x2="321.4" y2="103.1" stroke-width="0.57"/>
<circle cx="395.1" cy="114.2" r="0.67" stroke="none"/>
<circle cx="299.5" cy="95.6" r="0.71" stroke="none"/>
<circle cx="362.1" cy="97.0" r="0.54" stroke="none"/>
<circle cx="334.3" cy="138.7" r="0.41" stroke="none"/>
<circle cx="317.2" cy="131.3" r="0.61" stroke="none"/>
<line x1="332.7" y1="139.6" x2="334.3" y2="140.4" stroke-width="0.65"/>
<circle cx="306.8" cy="101.9" r="0.38" stroke="none"/>
<circle cx="353.4" cy="125.7" r="0.37" stroke="none"/>
<circle cx="331.0" cy="91.9" r="0.35" stroke="none"/>
<circle cx="307.8" cy="107.6" r="0.47" stroke="none"/>
<circle cx="303.1" cy="120.2" r="0.52" stroke="none"/>
<circle cx="295.6" cy="110.1" r="0.57" stroke="none"/>
<line x1="349.3" y1="120.6" x2="350.7" y2="120.7" stroke-width="0.85"/>
<line x1="322.1" y1="136.3" x2="321.8" y2="137.6" stroke-width="0.95"/>
<line x1="320.6" y1="106.6" x2="322.0" y2="106.7" stroke-width="0.57"/>
<line x1="358.0" y1="85.3" x2="358.1" y2="86.9" stroke-width="0.91"/>
<line x1="330.0" y1="106.7" x2="329.1" y2="107.1" stroke-width="0.71"/>
<line x1="381.5" y1="101.4" x2="382.4" y2="101.5" stroke-width="0.63"/>
<circle cx="332.9" cy="118.1" r="0.74" stroke="none"/>
<circle cx="299.6" cy="125.1" r="0.41" stroke="none"/>
<line x1="328.9" y1="152.0" x2="330.0" y2="152.0" stroke-width="0.77"/>
<line x1="386.1" y1="96.2" x2="387.0" y2="97.9" stroke-width="0.74"/>
<circle cx="317.4" cy="138.9" r="0.65" stroke="none"/>
<circle cx="341.3" cy="128.0" r="0.63" stroke="none"/>
<circle cx="389.2" cy="93.7" r="0.41" stroke="none"/>
<line x1="326.3" y1="91.5" x2="325.7" y2="92.2" stroke-width="0.49"/>
<circle cx="339.6" cy="131.7" r="0.72" stroke="none"/>
<line x1="325.5" y1="142.2" x2="324.0" y2="142.2" stroke-width="0.52"/>
<line x1="323.1" y1="143.9" x2="324.3" y2="144.0" stroke-width="0.72"/>
<circle cx="329.9" cy="155.3" r="0.46" stroke="none"/>
<circle cx="384.6" cy="116.2" r="0.80" stroke="none"/>
<circle cx="345.8" cy="104.6" r="0.56" stroke="none"/>
<circle cx="351.4" cy="99.5" r="0.52" stroke="none"/>
<circle cx="315.0" cy="128.0" r="0.37" stroke="none"/>
<line x1="313.8" y1="92.7" x2="312.4" y2="93.2" stroke-width="0.80"/>
<circle cx="317.5" cy="140.9" r="0.64" stroke="none"/>
<line x1="395.7" y1="86.7" x2="394.8" y2="87.1" stroke-width="0.96"/>
<line x1="300.6" y1="122.6" x2="300.7" y2="124.2" stroke-width="1.00"/>
<circle cx="320.6" cy="124.8" r="0.35" stroke="none"/>
<line x1="374.8" y1="110.5" x2="374.0" y2="111.6" stroke-width="0.58"/>
<line x1="370.7" y1="135.0" x2="372.3" y2="135.8" stroke-width="0.80"/>
<circle cx="357.6" cy="89.2" r="0.64" stroke="none"/>
<line x1="348.7" y1="143.1" x2="347.5" y2="144.0" stroke-width="0.97"/>
<circle cx="355.0" cy="116.0" r="0.77" stroke="none"/>
<circle cx="395.0" cy="110.4" r="0.65" stroke="none"/>
<circle cx="366.8" cy="113.1" r="0.38" stroke="none"/>
<circle cx="338.5" cy="146.1" r="0.70" stroke="none"/>
<circle cx="342.0" cy="115.8" r="0.60" stroke="none"/>
<line x1="303.4" y1="101.2" x2="304.7" y2="102.9" stroke-width="0.54"/>
<line x1="325.9" y1="100.3" x2="326.9" y2="100.6" stroke-width="1.02"/>
<line x1="302.0" y1="114.0" x2="303.8" y2="114.1" stroke-width="0.58"/>
<circle cx="300.2" cy="102.4" r="0.60" stroke="none"/>
<circle cx="384.6" cy="96.6" r="0.37" stroke="none"/>
<line x1="349.5" y1="124.1" x2="348.6" y2="125.2" stroke-width="0.91"/>
<circle cx="339.3" cy="103.4" r="0.48" stroke="none"/>
<circle cx="324.4" cy="138.7" r="0.39" stroke="none"/>
<line x1="396.3" y1="104.1" x2="396.9" y2="104.9" stroke-width="0.93"/>
<circle cx="341.4" cy="92.8" r="0.67" stroke="none"/>
<line x1="339.1" y1="138.2" x2="339.4" y2="139.0" stroke-width="0.59"/>
<circle cx="388.1" cy="91.6" r="0.40" stroke="none"/>
<line x1="380.9" y1="118.6" x2="382.5" y2="118.6" stroke-width="0.70"/>
<line x1="320.6" y1="96.3" x2="321.4" y2="98.0" stroke-width="0.98"/>
<circle cx="373.4" cy="93.0" r="0.68" stroke="none"/>
<circle cx="375.8" cy="121.9" r="0.60" stroke="none"/>
<circle cx="360.0" cy="113.2" r="0.36" stroke="none"/>
<circle cx="330.7" cy="117.2" r="0.48" stroke="none"/>
<circle cx="337.1" cy="147.6" r="0.62" stroke="none"/>
<circle cx="377.2" cy="118.0" r="0.59" stroke="none"/>
<circle cx="353.3" cy="99.1" r="0.46" stroke="none"/>
<circle cx="299.5" cy="111.2" r="0.68" stroke="none"/>
<circle cx="384.1" cy="97.0" r="0.70" stroke="none"/>
<circle cx="354.6" cy="89.3" r="0.53" stroke="none"/>
<line x1="372.2" y1="127.3" x2="371.4" y2="128.5" stroke-width="0.70"/>
<circle cx="371.0" cy="130.9" r="0.53" stroke="none"/>
<circle cx="356.6" cy="118.6" r="0.77" stroke="none"/>
<circle cx="348.4" cy="89.5" r="0.71" stroke="none"/>
<circle cx="320.2" cy="93.5" r="0.54" stroke="none"/>
<circle cx="386.4" cy="119.9" r="0.37" stroke="none"/>
<circle cx="316.2" cy="139.8" r="0.57" stroke="none"/>
<line x1="370.6" y1="86.3" x2="369.4" y2="88.0" stroke-width="0.79"/>
<line x1="364.9" y1="122.1" x2="365.0" y2="123.0" stroke-width="0.81"/>
<line x1="370.7" y1="89.9" x2="370.5" y2="90.8" stroke-width="0.76"/>
<line x1="310.0" y1="132.2" x2="311.0" y2="132.6" stroke-width="0.83"/>
<circle cx="350.0" cy="144.0" r="0.67" stroke="none"/>
<line x1="348.8" y1="97.7" x2="349.6" y2="98.9" stroke-width="0.82"/>
<line x1="373.9" y1="93.0" x2="372.9" y2="94.7" stroke-width="0.71"/>
<line x1="322.7" y1="139.0" x2="323.7" y2="140.2" stroke-width="0.73"/>
<circle cx="355.9" cy="116.7" r="0.46" stroke="none"/>
<circle cx="367.7" cy="105.3" r="0.41" stroke="none"/>
<line x1="341.4" y1="90.3" x2="342.1" y2="91.8" stroke-width="0.98"/>
<circle cx="313.5" cy="127.7" r="0.75" stroke="none"/>
<circle cx="370.0" cy="120.0" r="0.67" stroke="none"/>
<circle cx="330.7" cy="140.3" r="0.51" stroke="none"/>
<line x1="394.8" y1="96.7" x2="394.3" y2="98.4" stroke-width="0.79"/>
<line x1="324.9" y1="145.9" x2="326.3" y2="146.8" stroke-width="0.70"/>
<circle cx="335.3" cy="88.5" r="0.49" stroke="none"/>
<line x1="344.6" y1="136.2" x2="344.2" y2="137.3" stroke-width="0.70"/>
<line x1="307.8" y1="131.3" x2="307.0" y2="131.4" stroke-width="0.85"/>
<circle cx="312.4" cy="109.7" r="0.71" stroke="none"/>
<line x1="373.0" y1="117.2" x2="372.2" y2="117.3" stroke-width="0.99"/>
<line x1="321.1" y1="150.0" x2="323.2" y2="150.7" stroke-width="0.76"/>
<circle cx="300.9" cy="101.5" r="0.51" stroke="none"/>
<line x1="361.2" y1="85.9" x2="359.1" y2="86.2" stroke-width="0.89"/>
<circle cx="320.4" cy="92.8" r="0.74" stroke="none"/>
<circle cx="325.9" cy="127.0" r="0.38" stroke="none"/>
<line x1="306.1" y1="100.5" x2="307.7" y2="101.0" stroke-width="0.65"/>
<line x1="336.9" y1="99.2" x2="335.7" y2="101.0" stroke-width="0.76"/>
<line x1="344.0" y1="116.6" x2="344.3" y2="117.6" stroke-width="0.69"/>
<line x1="326.1" y1="136.8" x2="327.9" y2="137.7" stroke-width="0.74"/>
</g>
<g fill="#e8e8e8" stroke="#e8e8e8" stroke-linecap="round">
<circle cx="360.8" cy="122.6" r="0.77" stroke="none"/>
<circle cx="330.7" cy="110.7" r="0.61" stroke="none"/>
<circle cx="374.9" cy="120.3" r="0.72" stroke="none"/>
<circle cx="339.4" cy="113.5" r="0.56" stroke="none"/>
<circle cx="333.8" cy="129.4" r="0.53" stroke="none"/>
<circle cx="351.9" cy="112.0" r="0.84" stroke="none"/>
<circle cx="334.0" cy="133.4" r="0.70" stroke="none"/>
<circle cx="337.3" cy="112.8" r="0.55" stroke="none"/>
<circle cx="370.4" cy="101.9" r="0.78" stroke="none"/>
<circle cx="341.1" cy="129.3" r="0.66" stroke="none"/>
<circle cx="368.7" cy="115.0" r="0.65" stroke="none"/>
<circle cx="353.2" cy="110.3" r="0.78" stroke="none"/>
<circle cx="337.4" cy="104.9" r="0.65" stroke="none"/>
<circle cx="382.7" cy="116.0" r="0.51" stroke="none"/>
</g>
<polygon points="258,75.3 266,73.6 275.5,72.6 275.8,73.6 266,75.4 258.5,77.0" fill="#fff"/>
<ellipse cx="263.0" cy="112.2" rx="4.0" ry="2.6" fill="#fff" stroke="#666" stroke-width=".4" transform="rotate(20 263.0 112.2)"/>
<ellipse cx="276.7" cy="109.5" rx="2.8" ry="2.4" fill="#fff" stroke="#666" stroke-width=".4" transform="rotate(20 276.7 109.5)"/>
<ellipse cx="261.2" cy="124.5" rx="3.2" ry="2.4" fill="#fff" stroke="#666" stroke-width=".4" transform="rotate(20 261.2 124.5)"/>
<ellipse cx="267.2" cy="133.2" rx="2.7" ry="2.1" fill="#777" stroke="#666" stroke-width=".4" transform="rotate(20 267.2 133.2)"/>
<g fill="#6b6b6b" stroke="#6b6b6b" stroke-linecap="round">
<circle cx="107.3" cy="212.4" r="0.59" stroke="none"/>
<circle cx="113.9" cy="223.2" r="0.66" stroke="none"/>
<line x1="151.2" y1="164.8" x2="150.9" y2="165.7" stroke-width="0.39"/>
<line x1="188.4" y1="164.4" x2="186.6" y2="164.4" stroke-width="0.53"/>
<line x1="198.9" y1="204.7" x2="198.9" y2="205.6" stroke-width="0.41"/>
<circle cx="208.8" cy="178.7" r="0.37" stroke="none"/>
<circle cx="102.1" cy="237.4" r="0.50" stroke="none"/>
<line x1="130.2" y1="190.9" x2="129.2" y2="191.4" stroke-width="0.50"/>
<circle cx="186.7" cy="161.9" r="0.74" stroke="none"/>
<circle cx="183.4" cy="220.1" r="0.56" stroke="none"/>
<line x1="101.8" y1="190.0" x2="99.8" y2="190.5" stroke-width="0.87"/>
<line x1="138.8" y1="178.3" x2="137.5" y2="178.4" stroke-width="0.65"/>
<circle cx="89.5" cy="149.8" r="0.62" stroke="none"/>
<circle cx="150.0" cy="191.6" r="0.55" stroke="none"/>
<circle cx="114.6" cy="203.9" r="0.55" stroke="none"/>
<circle cx="109.3" cy="157.9" r="0.46" stroke="none"/>
<line x1="130.7" y1="202.7" x2="132.6" y2="203.1" stroke-width="0.57"/>
<circle cx="186.2" cy="179.4" r="0.61" stroke="none"/>
<circle cx="201.9" cy="240.6" r="0.48" stroke="none"/>
<circle cx="210.0" cy="202.0" r="0.70" stroke="none"/>
<line x1="134.4" y1="166.0" x2="136.3" y2="166.4" stroke-width="0.90"/>
<line x1="185.8" y1="190.7" x2="186.7" y2="191.6" stroke-width="0.88"/>
<line x1="140.1" y1="157.9" x2="138.1" y2="158.6" stroke-width="0.43"/>
<circle cx="182.2" cy="190.3" r="0.41" stroke="none"/>
<line x1="153.8" y1="216.5" x2="152.1" y2="217.4" stroke-width="0.41"/>
<circle cx="199.7" cy="203.1" r="0.49" stroke="none"/>
<line x1="195.6" y1="172.3" x2="195.0" y2="172.9" stroke-width="0.70"/>
<circle cx="174.4" cy="240.2" r="0.31" stroke="none"/>
<line x1="169.1" y1="229.4" x2="169.7" y2="231.5" stroke-width="0.73"/>
<line x1="202.8" y1="154.0" x2="204.2" y2="154.1" stroke-width="0.45"/>
<line x1="104.2" y1="231.1" x2="104.0" y2="232.3" stroke-width="0.77"/>
<line x1="149.7" y1="163.1" x2="150.4" y2="164.7" stroke-width="0.49"/>
<circle cx="157.0" cy="144.8" r="0.62" stroke="none"/>
<circle cx="185.9" cy="223.0" r="0.30" stroke="none"/>
<circle cx="94.2" cy="220.2" r="0.38" stroke="none"/>
<line x1="118.6" y1="213.2" x2="119.0" y2="214.3" stroke-width="0.57"/>
<circle cx="202.2" cy="171.0" r="0.53" stroke="none"/>
<circle cx="208.3" cy="150.3" r="0.57" stroke="none"/>
<circle cx="180.8" cy="241.5" r="0.44" stroke="none"/>
<circle cx="153.8" cy="198.9" r="0.33" stroke="none"/>
<circle cx="212.0" cy="177.3" r="0.44" stroke="none"/>
<circle cx="99.9" cy="148.0" r="0.33" stroke="none"/>
<line x1="184.0" y1="187.0" x2="183.4" y2="188.3" stroke-width="0.75"/>
<line x1="152.7" y1="180.9" x2="154.1" y2="181.1" stroke-width="0.62"/>
<circle cx="117.9" cy="213.9" r="0.67" stroke="none"/>
<circle cx="144.8" cy="164.8" r="0.47" stroke="none"/>
<circle cx="167.5" cy="241.1" r="0.34" stroke="none"/>
<circle cx="149.5" cy="215.3" r="0.70" stroke="none"/>
<circle cx="166.9" cy="219.6" r="0.60" stroke="none"/>
<circle cx="176.2" cy="211.7" r="0.41" stroke="none"/>
<circle cx="135.8" cy="204.5" r="0.67" stroke="none"/>
<line x1="213.6" y1="140.7" x2="213.9" y2="141.6" stroke-width="0.57"/>
<circle cx="157.4" cy="148.3" r="0.44" stroke="none"/>
<circle cx="181.8" cy="188.5" r="0.35" stroke="none"/>
<circle cx="176.8" cy="161.6" r="0.45" stroke="none"/>
<line x1="173.9" y1="167.4" x2="175.3" y2="168.8" stroke-width="0.95"/>
<circle cx="105.8" cy="211.5" r="0.39" stroke="none"/>
<circle cx="121.8" cy="179.8" r="0.72" stroke="none"/>
<line x1="142.4" y1="204.8" x2="142.8" y2="205.9" stroke-width="0.55"/>
<circle cx="110.3" cy="240.9" r="0.32" stroke="none"/>
<circle cx="206.6" cy="214.0" r="0.31" stroke="none"/>
<circle cx="176.4" cy="165.2" r="0.30" stroke="none"/>
<circle cx="98.2" cy="172.4" r="0.50" stroke="none"/>
<circle cx="133.7" cy="154.2" r="0.66" stroke="none"/>
<line x1="154.3" y1="145.2" x2="154.1" y2="146.3" stroke-width="0.50"/>
<circle cx="189.5" cy="228.6" r="0.72" stroke="none"/>
<circle cx="96.4" cy="234.5" r="0.64" stroke="none"/>
<circle cx="110.3" cy="146.3" r="0.67" stroke="none"/>
<line x1="166.0" y1="189.5" x2="166.9" y2="190.4" stroke-width="0.86"/>
<line x1="124.4" y1="205.8" x2="125.9" y2="206.2" stroke-width="0.91"/>
<line x1="173.5" y1="159.9" x2="174.9" y2="160.1" stroke-width="0.55"/>
<line x1="173.8" y1="208.6" x2="172.3" y2="208.9" stroke-width="0.48"/>
<circle cx="138.7" cy="212.5" r="0.63" stroke="none"/>
<line x1="96.1" y1="226.9" x2="96.8" y2="228.2" stroke-width="0.52"/>
<circle cx="167.0" cy="158.3" r="0.62" stroke="none"/>
<circle cx="106.9" cy="229.4" r="0.66" stroke="none"/>
<circle cx="173.7" cy="162.8" r="0.65" stroke="none"/>
<line x1="154.8" y1="235.4" x2="152.7" y2="235.8" stroke-width="0.96"/>
<circle cx="188.4" cy="141.2" r="0.46" stroke="none"/>
<line x1="164.3" y1="219.3" x2="162.8" y2="219.7" stroke-width="0.77"/>
<circle cx="199.7" cy="161.7" r="0.75" stroke="none"/>
<line x1="186.0" y1="217.7" x2="187.4" y2="218.0" stroke-width="0.91"/>
<line x1="109.0" y1="196.7" x2="109.8" y2="197.0" stroke-width="0.87"/>
<circle cx="140.6" cy="200.9" r="0.31" stroke="none"/>
<circle cx="113.2" cy="151.2" r="0.72" stroke="none"/>
<line x1="201.5" y1="194.0" x2="201.9" y2="195.6" stroke-width="0.46"/>
<line x1="185.4" y1="218.9" x2="185.7" y2="220.2" stroke-width="0.77"/>
<circle cx="149.2" cy="167.9" r="0.54" stroke="none"/>
<circle cx="90.6" cy="226.4" r="0.56" stroke="none"/>
<line x1="181.0" y1="216.7" x2="181.3" y2="217.5" stroke-width="0.97"/>
<circle cx="171.7" cy="201.1" r="0.56" stroke="none"/>
<circle cx="111.4" cy="163.9" r="0.63" stroke="none"/>
<circle cx="148.3" cy="145.8" r="0.47" stroke="none"/>
<circle cx="150.5" cy="188.5" r="0.48" stroke="none"/>
<circle cx="163.2" cy="212.8" r="0.69" stroke="none"/>
<circle cx="134.4" cy="166.3" r="0.65" stroke="none"/>
<circle cx="205.7" cy="160.9" r="0.68" stroke="none"/>
<line x1="96.0" y1="172.3" x2="95.0" y2="172.9" stroke-width="0.76"/>
<line x1="174.0" y1="171.1" x2="174.0" y2="172.9" stroke-width="0.52"/>
<circle cx="114.1" cy="212.1" r="0.45" stroke="none"/>
<line x1="133.5" y1="160.3" x2="132.7" y2="161.4" stroke-width="0.47"/>
<line x1="101.9" y1="232.5" x2="100.8" y2="233.7" stroke-width="0.77"/>
<line x1="143.2" y1="192.6" x2="142.5" y2="194.1" stroke-width="0.95"/>
<circle cx="133.2" cy="176.4" r="0.64" stroke="none"/>
<circle cx="144.9" cy="193.9" r="0.40" stroke="none"/>
<circle cx="144.7" cy="163.2" r="0.56" stroke="none"/>
<circle cx="97.2" cy="191.5" r="0.37" stroke="none"/>
<line x1="128.2" y1="174.5" x2="129.0" y2="175.0" stroke-width="0.52"/>
<line x1="166.5" y1="229.0" x2="166.4" y2="229.9" stroke-width="0.52"/>
<circle cx="138.3" cy="219.9" r="0.39" stroke="none"/>
<circle cx="155.5" cy="148.9" r="0.41" stroke="none"/>
<circle cx="98.4" cy="161.4" r="0.56" stroke="none"/>
<line x1="153.1" y1="209.7" x2="154.3" y2="211.4" stroke-width="0.40"/>
<circle cx="132.1" cy="222.4" r="0.32" stroke="none"/>
<line x1="201.0" y1="221.0" x2="200.1" y2="221.2" stroke-width="0.73"/>
<circle cx="210.4" cy="221.5" r="0.62" stroke="none"/>
<circle cx="107.2" cy="175.8" r="0.60" stroke="none"/>
<line x1="136.2" y1="224.1" x2="137.4" y2="224.5" stroke-width="0.42"/>
<line x1="188.3" y1="219.1" x2="189.9" y2="219.7" stroke-width="0.48"/>
<circle cx="143.1" cy="164.3" r="0.47" stroke="none"/>
<circle cx="140.8" cy="212.5" r="0.58" stroke="none"/>
<circle cx="157.8" cy="178.2" r="0.39" stroke="none"/>
<circle cx="125.3" cy="174.7" r="0.38" stroke="none"/>
<line x1="140.9" y1="161.0" x2="139.7" y2="161.5" stroke-width="0.41"/>
<circle cx="172.1" cy="164.2" r="0.59" stroke="none"/>
<line x1="181.0" y1="195.5" x2="180.4" y2="197.4" stroke-width="0.61"/>
<circle cx="175.2" cy="190.4" r="0.45" stroke="none"/>
<circle cx="195.2" cy="155.3" r="0.61" stroke="none"/>
<line x1="173.2" y1="241.3" x2="171.9" y2="241.3" stroke-width="0.90"/>
<line x1="107.6" y1="181.5" x2="108.9" y2="182.9" stroke-width="0.76"/>
<circle cx="165.0" cy="218.1" r="0.66" stroke="none"/>
<circle cx="201.3" cy="226.5" r="0.74" stroke="none"/>
<circle cx="176.5" cy="194.0" r="0.74" stroke="none"/>
<line x1="141.5" y1="209.7" x2="141.9" y2="210.7" stroke-width="0.56"/>
<circle cx="86.5" cy="149.7" r="0.50" stroke="none"/>
<line x1="100.4" y1="193.6" x2="99.5" y2="194.7" stroke-width="0.56"/>
<line x1="136.5" y1="216.5" x2="135.4" y2="218.1" stroke-width="0.46"/>
<line x1="212.3" y1="167.0" x2="211.2" y2="168.6" stroke-width="0.76"/>
<line x1="103.4" y1="176.2" x2="102.6" y2="178.0" stroke-width="0.94"/>
<line x1="122.0" y1="222.3" x2="123.1" y2="222.9" stroke-width="0.39"/>
<circle cx="189.6" cy="158.2" r="0.56" stroke="none"/>
<line x1="195.6" y1="228.9" x2="194.9" y2="229.6" stroke-width="0.75"/>
<line x1="205.8" y1="172.4" x2="206.4" y2="174.2" stroke-width="0.54"/>
<line x1="196.3" y1="218.3" x2="196.9" y2="219.4" stroke-width="0.82"/>
<line x1="141.9" y1="231.8" x2="139.8" y2="232.1" stroke-width="0.97"/>
<line x1="145.5" y1="212.7" x2="144.7" y2="214.8" stroke-width="0.85"/>
<circle cx="199.6" cy="235.7" r="0.34" stroke="none"/>
<circle cx="148.8" cy="235.5" r="0.38" stroke="none"/>
<line x1="101.6" y1="224.5" x2="102.1" y2="225.3" stroke-width="0.81"/>
<circle cx="168.0" cy="206.1" r="0.33" stroke="none"/>
<line x1="210.5" y1="186.3" x2="210.1" y2="187.6" stroke-width="0.73"/>
<line x1="142.9" y1="218.7" x2="142.0" y2="219.5" stroke-width="0.50"/>
<line x1="94.9" y1="235.7" x2="95.5" y2="236.7" stroke-width="0.48"/>
<circle cx="131.5" cy="196.4" r="0.35" stroke="none"/>
<line x1="92.6" y1="148.3" x2="93.2" y2="149.3" stroke-width="0.51"/>
<circle cx="194.0" cy="209.1" r="0.51" stroke="none"/>
<circle cx="174.5" cy="173.1" r="0.58" stroke="none"/>
<circle cx="154.9" cy="219.0" r="0.58" stroke="none"/>
<circle cx="120.1" cy="210.5" r="0.74" stroke="none"/>
<line x1="202.8" y1="149.9" x2="201.8" y2="150.9" stroke-width="0.81"/>
<circle cx="155.0" cy="166.1" r="0.42" stroke="none"/>
<line x1="169.0" y1="206.0" x2="167.9" y2="206.1" stroke-width="0.46"/>
<circle cx="155.4" cy="213.1" r="0.53" stroke="none"/>
<line x1="211.2" y1="222.0" x2="211.6" y2="223.7" stroke-width="0.53"/>
<line x1="173.1" y1="167.4" x2="174.3" y2="167.5" stroke-width="0.80"/>
<circle cx="134.6" cy="160.7" r="0.60" stroke="none"/>
<circle cx="206.2" cy="206.1" r="0.69" stroke="none"/>
<line x1="161.7" y1="233.8" x2="162.2" y2="235.0" stroke-width="0.42"/>
<circle cx="141.2" cy="146.0" r="0.61" stroke="none"/>
<circle cx="116.2" cy="159.5" r="0.45" stroke="none"/>
</g>
<g fill="#6b6b6b" stroke="#6b6b6b" stroke-linecap="round">
<circle cx="194.7" cy="58.3" r="0.31" stroke="none"/>
<line x1="95.6" y1="56.5" x2="94.5" y2="56.8" stroke-width="0.73"/>
<circle cx="194.8" cy="75.3" r="0.54" stroke="none"/>
<line x1="159.7" y1="132.8" x2="158.2" y2="133.4" stroke-width="0.76"/>
<circle cx="111.8" cy="63.1" r="0.64" stroke="none"/>
<circle cx="192.1" cy="118.5" r="0.68" stroke="none"/>
<circle cx="161.4" cy="103.2" r="0.40" stroke="none"/>
<circle cx="194.2" cy="106.8" r="0.36" stroke="none"/>
<circle cx="157.4" cy="62.6" r="0.32" stroke="none"/>
<circle cx="76.1" cy="132.9" r="0.50" stroke="none"/>
<line x1="124.4" y1="107.8" x2="125.0" y2="109.3" stroke-width="0.87"/>
<circle cx="141.5" cy="86.2" r="0.57" stroke="none"/>
<circle cx="83.3" cy="139.7" r="0.44" stroke="none"/>
<line x1="193.9" y1="93.6" x2="192.9" y2="94.0" stroke-width="0.60"/>
<line x1="142.0" y1="78.2" x2="142.7" y2="78.6" stroke-width="0.56"/>
<line x1="140.5" y1="120.6" x2="140.0" y2="121.3" stroke-width="0.73"/>
<circle cx="189.9" cy="88.8" r="0.64" stroke="none"/>
<circle cx="139.1" cy="100.5" r="0.70" stroke="none"/>
<line x1="132.5" y1="114.1" x2="131.0" y2="115.3" stroke-width="0.72"/>
<circle cx="149.9" cy="134.6" r="0.31" stroke="none"/>
<circle cx="153.2" cy="77.4" r="0.37" stroke="none"/>
<circle cx="127.6" cy="70.6" r="0.32" stroke="none"/>
<line x1="117.1" y1="56.2" x2="116.1" y2="56.6" stroke-width="0.50"/>
<circle cx="132.2" cy="64.7" r="0.44" stroke="none"/>
<line x1="190.4" y1="124.2" x2="189.7" y2="124.6" stroke-width="0.41"/>
<circle cx="98.0" cy="91.5" r="0.45" stroke="none"/>
<line x1="163.9" y1="89.1" x2="164.5" y2="89.8" stroke-width="0.52"/>
<circle cx="157.2" cy="60.0" r="0.66" stroke="none"/>
<line x1="79.3" y1="92.4" x2="79.3" y2="93.2" stroke-width="0.70"/>
<circle cx="170.1" cy="45.4" r="0.55" stroke="none"/>
<line x1="180.3" y1="67.2" x2="181.3" y2="68.9" stroke-width="0.67"/>
<circle cx="176.7" cy="45.9" r="0.45" stroke="none"/>
<circle cx="94.5" cy="121.2" r="0.66" stroke="none"/>
<line x1="137.6" y1="62.9" x2="136.3" y2="63.6" stroke-width="0.53"/>
<line x1="161.2" y1="122.6" x2="161.8" y2="124.6" stroke-width="0.90"/>
<line x1="169.5" y1="81.7" x2="170.3" y2="82.2" stroke-width="0.73"/>
<circle cx="120.6" cy="67.4" r="0.51" stroke="none"/>
<circle cx="182.7" cy="101.8" r="0.51" stroke="none"/>
<circle cx="74.8" cy="135.1" r="0.57" stroke="none"/>
<line x1="177.6" y1="54.4" x2="177.6" y2="56.5" stroke-width="0.42"/>
<circle cx="188.4" cy="84.1" r="0.55" stroke="none"/>
<circle cx="192.5" cy="114.1" r="0.66" stroke="none"/>
<line x1="155.5" y1="75.5" x2="157.5" y2="75.9" stroke-width="0.54"/>
<line x1="110.2" y1="47.3" x2="110.4" y2="48.5" stroke-width="0.55"/>
<line x1="94.5" y1="90.3" x2="93.4" y2="91.0" stroke-width="0.61"/>
<line x1="141.3" y1="128.4" x2="143.4" y2="128.7" stroke-width="0.89"/>
<line x1="137.8" y1="65.7" x2="138.4" y2="66.5" stroke-width="0.46"/>
<line x1="78.3" y1="139.5" x2="78.4" y2="141.4" stroke-width="0.82"/>
<line x1="136.6" y1="51.6" x2="135.0" y2="52.0" stroke-width="0.57"/>
<circle cx="130.7" cy="104.9" r="0.32" stroke="none"/>
<line x1="175.4" y1="108.7" x2="176.3" y2="108.7" stroke-width="0.58"/>
<line x1="91.8" y1="88.1" x2="91.9" y2="89.7" stroke-width="0.79"/>
<circle cx="152.6" cy="47.0" r="0.67" stroke="none"/>
<circle cx="110.8" cy="67.7" r="0.58" stroke="none"/>
<circle cx="143.3" cy="61.6" r="0.46" stroke="none"/>
<circle cx="143.2" cy="123.2" r="0.40" stroke="none"/>
<circle cx="172.2" cy="66.4" r="0.51" stroke="none"/>
<circle cx="145.3" cy="102.2" r="0.40" stroke="none"/>
<line x1="146.3" y1="66.6" x2="145.7" y2="67.3" stroke-width="0.61"/>
<line x1="149.4" y1="74.3" x2="148.5" y2="75.8" stroke-width="0.79"/>
</g>
<g fill="#737373" stroke="#737373" stroke-linecap="round">
<line x1="145.3" y1="210.3" x2="147.2" y2="210.7" stroke-width="1.09"/>
<line x1="121.3" y1="182.0" x2="119.9" y2="182.4" stroke-width="1.02"/>
<line x1="101.4" y1="228.9" x2="99.8" y2="229.8" stroke-width="0.91"/>
<line x1="152.3" y1="206.5" x2="150.6" y2="206.7" stroke-width="1.10"/>
<line x1="115.2" y1="202.7" x2="114.3" y2="203.9" stroke-width="0.80"/>
<line x1="103.5" y1="183.7" x2="101.7" y2="184.1" stroke-width="0.79"/>
<line x1="136.3" y1="164.6" x2="135.3" y2="164.6" stroke-width="0.97"/>
<line x1="169.6" y1="151.3" x2="169.3" y2="152.6" stroke-width="1.00"/>
<line x1="119.4" y1="187.6" x2="120.2" y2="189.4" stroke-width="1.02"/>
<line x1="109.5" y1="180.7" x2="111.1" y2="181.7" stroke-width="0.88"/>
<line x1="133.2" y1="157.9" x2="133.6" y2="158.7" stroke-width="0.80"/>
<line x1="115.3" y1="197.8" x2="115.5" y2="199.3" stroke-width="0.96"/>
<circle cx="140.5" cy="228.0" r="0.58" stroke="none"/>
<line x1="138.1" y1="226.9" x2="140.0" y2="227.3" stroke-width="0.96"/>
<line x1="118.5" y1="202.8" x2="118.9" y2="204.2" stroke-width="0.69"/>
<line x1="96.3" y1="227.0" x2="95.8" y2="228.1" stroke-width="1.03"/>
<line x1="110.6" y1="222.1" x2="109.4" y2="222.5" stroke-width="0.80"/>
<line x1="171.5" y1="165.8" x2="172.8" y2="166.4" stroke-width="1.04"/>
<circle cx="158.7" cy="158.8" r="0.71" stroke="none"/>
<line x1="98.3" y1="192.2" x2="97.1" y2="192.9" stroke-width="0.79"/>
<line x1="119.1" y1="167.5" x2="117.7" y2="169.2" stroke-width="1.02"/>
<line x1="148.6" y1="227.5" x2="148.3" y2="228.4" stroke-width="0.71"/>
<line x1="129.0" y1="176.3" x2="131.0" y2="176.9" stroke-width="0.71"/>
<line x1="108.6" y1="196.9" x2="106.6" y2="197.3" stroke-width="0.97"/>
<line x1="140.1" y1="194.8" x2="141.7" y2="196.2" stroke-width="1.04"/>
<circle cx="111.4" cy="198.0" r="0.69" stroke="none"/>
<line x1="123.8" y1="204.6" x2="124.9" y2="205.2" stroke-width="0.74"/>
<circle cx="135.6" cy="212.5" r="0.82" stroke="none"/>
<line x1="131.8" y1="155.7" x2="131.2" y2="156.3" stroke-width="0.92"/>
<circle cx="156.5" cy="161.2" r="0.79" stroke="none"/>
<line x1="137.4" y1="188.5" x2="136.4" y2="190.3" stroke-width="0.95"/>
<circle cx="167.0" cy="210.3" r="0.75" stroke="none"/>
<line x1="125.1" y1="178.9" x2="125.9" y2="180.5" stroke-width="1.10"/>
<circle cx="167.6" cy="218.6" r="0.57" stroke="none"/>
<circle cx="112.8" cy="195.4" r="0.71" stroke="none"/>
<line x1="112.9" y1="180.0" x2="114.1" y2="180.7" stroke-width="0.79"/>
<line x1="116.2" y1="172.5" x2="116.4" y2="173.4" stroke-width="1.03"/>
<circle cx="100.3" cy="223.0" r="0.77" stroke="none"/>
<circle cx="104.4" cy="216.8" r="0.60" stroke="none"/>
<line x1="139.0" y1="187.2" x2="138.8" y2="189.2" stroke-width="0.93"/>
<line x1="145.0" y1="214.9" x2="143.4" y2="216.3" stroke-width="1.09"/>
<line x1="137.0" y1="178.9" x2="135.7" y2="180.2" stroke-width="0.94"/>
<line x1="97.9" y1="195.8" x2="98.1" y2="196.7" stroke-width="0.87"/>
<line x1="97.7" y1="174.2" x2="97.0" y2="176.1" stroke-width="0.69"/>
<line x1="109.4" y1="198.2" x2="108.1" y2="198.3" stroke-width="0.87"/>
<line x1="140.6" y1="192.3" x2="138.7" y2="192.5" stroke-width="0.72"/>
<line x1="111.2" y1="178.7" x2="111.3" y2="179.7" stroke-width="0.74"/>
<line x1="128.8" y1="234.7" x2="127.4" y2="234.8" stroke-width="0.83"/>
<line x1="121.9" y1="187.5" x2="123.5" y2="188.2" stroke-width="0.72"/>
<line x1="155.3" y1="216.4" x2="153.6" y2="216.9" stroke-width="0.71"/>
<line x1="125.6" y1="214.1" x2="123.7" y2="214.7" stroke-width="0.77"/>
<line x1="133.6" y1="186.0" x2="132.7" y2="186.1" stroke-width="1.07"/>
<circle cx="145.3" cy="171.9" r="0.75" stroke="none"/>
<line x1="97.6" y1="207.7" x2="99.0" y2="208.3" stroke-width="1.02"/>
<line x1="148.8" y1="196.3" x2="149.4" y2="197.2" stroke-width="0.91"/>
</g>
<g fill="#5a5a3a" stroke="#5a5a3a" stroke-linecap="round">
<line x1="238.3" y1="103.8" x2="239.4" y2="104.6" stroke-width="0.60"/>
<line x1="223.1" y1="105.9" x2="222.2" y2="107.0" stroke-width="0.40"/>
<line x1="235.0" y1="125.2" x2="233.8" y2="126.3" stroke-width="0.53"/>
<line x1="241.0" y1="117.4" x2="240.0" y2="118.3" stroke-width="0.77"/>
<line x1="237.5" y1="120.1" x2="237.6" y2="121.9" stroke-width="0.51"/>
<line x1="238.2" y1="105.4" x2="239.3" y2="106.1" stroke-width="0.64"/>
<line x1="237.5" y1="131.2" x2="238.2" y2="132.2" stroke-width="0.52"/>
<line x1="245.9" y1="112.4" x2="244.5" y2="113.6" stroke-width="0.49"/>
<circle cx="236.4" cy="138.0" r="0.48" stroke="none"/>
<circle cx="216.3" cy="103.3" r="0.31" stroke="none"/>
<line x1="244.7" y1="98.4" x2="245.5" y2="98.9" stroke-width="0.77"/>
<circle cx="233.1" cy="88.1" r="0.58" stroke="none"/>
<circle cx="235.7" cy="86.2" r="0.46" stroke="none"/>
<line x1="224.4" y1="103.6" x2="225.3" y2="105.4" stroke-width="0.74"/>
<circle cx="242.2" cy="103.0" r="0.51" stroke="none"/>
<line x1="240.2" y1="91.0" x2="239.0" y2="92.0" stroke-width="0.51"/>
<line x1="236.5" y1="131.6" x2="237.3" y2="133.0" stroke-width="0.43"/>
<line x1="237.0" y1="111.9" x2="237.2" y2="113.4" stroke-width="0.48"/>
<circle cx="229.5" cy="128.8" r="0.34" stroke="none"/>
<line x1="222.3" y1="121.6" x2="222.6" y2="122.5" stroke-width="0.46"/>
<line x1="242.7" y1="107.7" x2="242.4" y2="109.2" stroke-width="0.66"/>
<circle cx="226.2" cy="136.6" r="0.33" stroke="none"/>
<line x1="249.4" y1="108.9" x2="249.0" y2="110.0" stroke-width="0.69"/>
<circle cx="227.1" cy="98.6" r="0.39" stroke="none"/>
<circle cx="228.0" cy="101.3" r="0.43" stroke="none"/>
<line x1="233.6" y1="112.8" x2="234.6" y2="113.1" stroke-width="0.49"/>
<line x1="224.8" y1="133.4" x2="224.9" y2="134.4" stroke-width="0.59"/>
<line x1="237.2" y1="105.1" x2="236.2" y2="105.6" stroke-width="0.72"/>
<circle cx="225.3" cy="99.5" r="0.34" stroke="none"/>
<line x1="230.2" y1="121.4" x2="228.6" y2="121.9" stroke-width="0.50"/>
<line x1="219.7" y1="125.1" x2="219.3" y2="126.9" stroke-width="0.57"/>
<line x1="247.7" y1="116.2" x2="248.5" y2="116.5" stroke-width="0.62"/>
<line x1="231.5" y1="96.4" x2="230.2" y2="97.0" stroke-width="0.63"/>
<circle cx="228.8" cy="119.5" r="0.52" stroke="none"/>
<circle cx="226.8" cy="135.8" r="0.59" stroke="none"/>
<circle cx="219.3" cy="100.8" r="0.53" stroke="none"/>
<line x1="243.7" y1="126.9" x2="243.9" y2="127.7" stroke-width="0.60"/>
<line x1="226.9" y1="104.0" x2="227.2" y2="105.1" stroke-width="0.71"/>
</g>
<g fill="#6b6b6b" stroke="#6b6b6b" stroke-linecap="round">
<circle cx="245.2" cy="147.9" r="0.33" stroke="none"/>
<circle cx="242.3" cy="150.9" r="0.52" stroke="none"/>
<circle cx="282.3" cy="128.8" r="0.39" stroke="none"/>
<line x1="237.8" y1="155.4" x2="238.4" y2="156.4" stroke-width="0.72"/>
<circle cx="268.9" cy="122.3" r="0.57" stroke="none"/>
<line x1="253.5" y1="166.7" x2="252.5" y2="168.3" stroke-width="0.42"/>
<circle cx="290.5" cy="113.9" r="0.52" stroke="none"/>
<line x1="264.6" y1="147.8" x2="264.6" y2="150.0" stroke-width="0.77"/>
<circle cx="284.0" cy="136.2" r="0.37" stroke="none"/>
<line x1="249.7" y1="145.6" x2="248.7" y2="146.4" stroke-width="0.64"/>
<line x1="271.1" y1="128.0" x2="271.4" y2="128.8" stroke-width="0.73"/>
<circle cx="262.7" cy="117.8" r="0.43" stroke="none"/>
<line x1="268.6" y1="139.9" x2="269.6" y2="140.7" stroke-width="0.55"/>
<circle cx="252.0" cy="119.7" r="0.57" stroke="none"/>
<line x1="249.8" y1="137.1" x2="249.0" y2="139.0" stroke-width="0.66"/>
<line x1="250.2" y1="123.6" x2="249.3" y2="124.6" stroke-width="0.69"/>
<line x1="289.5" y1="136.0" x2="289.6" y2="137.0" stroke-width="0.74"/>
<circle cx="269.9" cy="150.4" r="0.31" stroke="none"/>
<line x1="266.3" y1="98.1" x2="265.6" y2="99.0" stroke-width="0.70"/>
<line x1="276.5" y1="129.6" x2="274.5" y2="129.7" stroke-width="0.64"/>
<line x1="288.6" y1="120.2" x2="290.6" y2="121.0" stroke-width="0.46"/>
<circle cx="251.2" cy="164.6" r="0.37" stroke="none"/>
<line x1="282.8" y1="142.6" x2="283.4" y2="143.3" stroke-width="0.76"/>
<circle cx="270.3" cy="131.4" r="0.40" stroke="none"/>
<line x1="278.9" y1="104.6" x2="277.3" y2="105.6" stroke-width="0.41"/>
<line x1="252.9" y1="148.6" x2="253.5" y2="149.5" stroke-width="0.68"/>
<line x1="275.0" y1="139.3" x2="276.5" y2="140.6" stroke-width="0.75"/>
<line x1="256.3" y1="129.2" x2="257.7" y2="129.7" stroke-width="0.61"/>
<circle cx="252.5" cy="157.4" r="0.55" stroke="none"/>
<circle cx="256.4" cy="108.0" r="0.51" stroke="none"/>
</g>
<g fill="#6b6b6b" stroke="#6b6b6b" stroke-linecap="round">
<circle cx="242.5" cy="170.3" r="0.43" stroke="none"/>
<line x1="313.1" y1="197.7" x2="313.7" y2="199.1" stroke-width="0.71"/>
<line x1="233.8" y1="157.8" x2="233.5" y2="159.3" stroke-width="0.57"/>
<line x1="214.3" y1="158.8" x2="214.7" y2="160.3" stroke-width="0.71"/>
<line x1="266.1" y1="186.5" x2="268.0" y2="186.8" stroke-width="0.59"/>
<circle cx="217.4" cy="155.2" r="0.33" stroke="none"/>
<line x1="237.8" y1="156.6" x2="239.1" y2="157.5" stroke-width="0.76"/>
<line x1="290.1" y1="190.5" x2="290.1" y2="191.9" stroke-width="0.57"/>
<line x1="301.8" y1="192.7" x2="303.6" y2="192.8" stroke-width="0.63"/>
<circle cx="242.9" cy="153.6" r="0.54" stroke="none"/>
<circle cx="257.2" cy="167.5" r="0.33" stroke="none"/>
<line x1="281.3" y1="218.1" x2="283.3" y2="218.5" stroke-width="0.74"/>
<line x1="251.8" y1="158.3" x2="250.6" y2="159.6" stroke-width="0.70"/>
<circle cx="247.3" cy="183.6" r="0.39" stroke="none"/>
<line x1="246.2" y1="167.5" x2="246.5" y2="169.0" stroke-width="0.72"/>
<line x1="306.4" y1="228.4" x2="307.9" y2="228.6" stroke-width="0.52"/>
<line x1="256.1" y1="187.2" x2="254.3" y2="187.7" stroke-width="0.51"/>
<line x1="256.2" y1="150.0" x2="257.6" y2="150.7" stroke-width="0.41"/>
<circle cx="301.9" cy="221.0" r="0.39" stroke="none"/>
<circle cx="322.4" cy="214.1" r="0.31" stroke="none"/>
<circle cx="308.5" cy="208.4" r="0.32" stroke="none"/>
<line x1="218.7" y1="151.3" x2="219.8" y2="152.0" stroke-width="0.76"/>
<circle cx="259.6" cy="175.5" r="0.33" stroke="none"/>
<circle cx="279.7" cy="190.2" r="0.35" stroke="none"/>
<line x1="237.9" y1="159.6" x2="239.1" y2="160.5" stroke-width="0.70"/>
</g>
<g fill="#6b6b6b" stroke="#6b6b6b" stroke-linecap="round">
<circle cx="158.1" cy="155.2" r="0.32" stroke="none"/>
<circle cx="188.7" cy="149.7" r="0.49" stroke="none"/>
<line x1="163.8" y1="152.0" x2="165.4" y2="152.0" stroke-width="0.44"/>
<line x1="180.9" y1="167.5" x2="180.0" y2="168.0" stroke-width="0.72"/>
<line x1="172.4" y1="150.5" x2="172.1" y2="152.3" stroke-width="0.41"/>
<circle cx="147.9" cy="144.2" r="0.41" stroke="none"/>
<line x1="190.2" y1="154.1" x2="190.9" y2="154.8" stroke-width="0.41"/>
<circle cx="193.7" cy="165.2" r="0.57" stroke="none"/>
<line x1="167.2" y1="147.8" x2="168.8" y2="148.0" stroke-width="0.54"/>
<circle cx="184.7" cy="167.7" r="0.44" stroke="none"/>
<line x1="163.7" y1="145.4" x2="165.3" y2="145.9" stroke-width="0.41"/>
<circle cx="188.6" cy="145.1" r="0.31" stroke="none"/>
<line x1="186.5" y1="152.2" x2="185.1" y2="152.3" stroke-width="0.54"/>
<circle cx="183.1" cy="177.0" r="0.42" stroke="none"/>
<circle cx="189.8" cy="150.4" r="0.50" stroke="none"/>
<line x1="154.2" y1="134.8" x2="154.4" y2="135.9" stroke-width="0.42"/>
<line x1="151.6" y1="133.1" x2="151.1" y2="133.8" stroke-width="0.69"/>
<circle cx="184.8" cy="159.8" r="0.46" stroke="none"/>
<line x1="158.2" y1="130.6" x2="158.9" y2="131.3" stroke-width="0.41"/>
<line x1="178.5" y1="167.7" x2="179.8" y2="169.1" stroke-width="0.67"/>
<circle cx="162.6" cy="157.9" r="0.59" stroke="none"/>
<line x1="183.6" y1="138.5" x2="184.5" y2="139.3" stroke-width="0.62"/>
<circle cx="190.7" cy="160.6" r="0.31" stroke="none"/>
<line x1="193.8" y1="147.7" x2="192.9" y2="147.7" stroke-width="0.43"/>
<circle cx="169.3" cy="157.5" r="0.51" stroke="none"/>
</g>
<path d="M128.0 96.0 L128.0 119.5" fill="none" stroke="#4f4f4f" stroke-width="0.55" stroke-linejoin="round" stroke-linecap="round"/>
<path d="M135.0 96.0 L135.0 120.0" fill="none" stroke="#4f4f4f" stroke-width="0.55" stroke-linejoin="round" stroke-linecap="round"/>
<path d="M139.0 96.0 L139.0 120.5" fill="none" stroke="#4f4f4f" stroke-width="0.55" stroke-linejoin="round" stroke-linecap="round"/>
<path d="M143.0 100.0 L143.0 120.5" fill="none" stroke="#4f4f4f" stroke-width="0.55" stroke-linejoin="round" stroke-linecap="round"/>
<path d="M148.5 100.0 L148.5 110.0" fill="none" stroke="#4f4f4f" stroke-width="0.55" stroke-linejoin="round" stroke-linecap="round"/>
<path d="M121.0 108.0 L128.0 108.0" fill="none" stroke="#4f4f4f" stroke-width="0.55" stroke-linejoin="round" stroke-linecap="round"/>
<path d="M90.5 132.5 L90.5 145.6" fill="none" stroke="#4f4f4f" stroke-width="0.55" stroke-linejoin="round" stroke-linecap="round"/>
<path d="M95.6 124.0 L95.6 138.0" fill="none" stroke="#4f4f4f" stroke-width="0.55" stroke-linejoin="round" stroke-linecap="round"/>
<path d="M102.0 124.0 L102.0 146.0" fill="none" stroke="#4f4f4f" stroke-width="0.55" stroke-linejoin="round" stroke-linecap="round"/>
<path d="M84.5 134.0 L90.5 134.0" fill="none" stroke="#4f4f4f" stroke-width="0.55" stroke-linejoin="round" stroke-linecap="round"/>
<path d="M71.4 84.4 L78.2 90.5 L84.7 92.8" fill="none" stroke="#4f4f4f" stroke-width="0.55" stroke-linejoin="round" stroke-linecap="round"/>
<path d="M120.7 45.0 L120.7 61.5" fill="none" stroke="#4f4f4f" stroke-width="0.55" stroke-linejoin="round" stroke-linecap="round"/>
<path d="M131.7 45.0 L131.7 61.0" fill="none" stroke="#4f4f4f" stroke-width="0.55" stroke-linejoin="round" stroke-linecap="round"/>
<path d="M146.0 45.0 L146.0 66.0" fill="none" stroke="#4f4f4f" stroke-width="0.55" stroke-linejoin="round" stroke-linecap="round"/>
<path d="M91.0 181.0 L104.0 181.0" fill="none" stroke="#4f4f4f" stroke-width="0.55" stroke-linejoin="round" stroke-linecap="round"/>
<path d="M112.4 167.3 L105.0 190.0 L99.5 200.8" fill="none" stroke="#4f4f4f" stroke-width="0.55" stroke-linejoin="round" stroke-linecap="round"/>
<path d="M101.8 208.0 L101.8 244.0" fill="none" stroke="#4f4f4f" stroke-width="0.55" stroke-linejoin="round" stroke-linecap="round"/>
<path d="M118.5 190.0 L135.0 190.0" fill="none" stroke="#4f4f4f" stroke-width="0.55" stroke-linejoin="round" stroke-linecap="round"/>
<path d="M160.0 162.0 L166.0 150.0 L172.0 146.0" fill="none" stroke="#4f4f4f" stroke-width="0.55" stroke-linejoin="round" stroke-linecap="round"/>
<path d="M209.0 149.0 L215.0 152.0 L222.0 148.0" fill="none" stroke="#4f4f4f" stroke-width="0.55" stroke-linejoin="round" stroke-linecap="round"/>
<path d="M90.5 132.5 L93.0 137.0 L96.4 141.3 L99.0 145.0 L102.2 148.5 L106.0 152.0" fill="none" stroke="#777" stroke-width="1.00" stroke-linejoin="round" stroke-linecap="round"/>
<path d="M232.0 147.0 L235.0 156.0 L244.0 162.0 L250.0 169.0 L259.0 173.0 L268.5 175.5" fill="none" stroke="#4a4a4a" stroke-width="1.00" stroke-linejoin="round" stroke-linecap="round"/>
<g fill="#111" stroke="#111" stroke-linecap="round">
<line x1="189.7" y1="66.0" x2="191.1" y2="67.3" stroke-width="0.70"/>
<line x1="178.6" y1="68.4" x2="178.5" y2="69.8" stroke-width="1.14"/>
<line x1="214.3" y1="54.5" x2="215.2" y2="56.5" stroke-width="0.75"/>
<circle cx="181.5" cy="46.9" r="0.83" stroke="none"/>
<circle cx="188.0" cy="46.4" r="0.99" stroke="none"/>
<circle cx="211.1" cy="64.7" r="0.59" stroke="none"/>
<line x1="204.8" y1="45.9" x2="206.1" y2="46.1" stroke-width="1.13"/>
<circle cx="187.0" cy="54.2" r="0.87" stroke="none"/>
<circle cx="185.8" cy="45.2" r="0.86" stroke="none"/>
<line x1="199.1" y1="66.5" x2="197.4" y2="67.0" stroke-width="0.67"/>
<circle cx="216.6" cy="46.1" r="0.75" stroke="none"/>
<line x1="192.0" y1="70.3" x2="194.1" y2="71.0" stroke-width="1.06"/>
<circle cx="177.4" cy="46.0" r="0.67" stroke="none"/>
<circle cx="210.4" cy="57.5" r="0.77" stroke="none"/>
<circle cx="184.5" cy="53.3" r="0.85" stroke="none"/>
<circle cx="206.5" cy="48.4" r="0.95" stroke="none"/>
<line x1="188.9" y1="49.6" x2="190.7" y2="50.4" stroke-width="0.73"/>
<line x1="181.3" y1="45.9" x2="182.5" y2="46.7" stroke-width="1.28"/>
<line x1="203.3" y1="59.5" x2="203.1" y2="61.3" stroke-width="1.31"/>
<line x1="192.8" y1="67.4" x2="194.5" y2="68.1" stroke-width="0.98"/>
<circle cx="203.1" cy="61.8" r="0.56" stroke="none"/>
<line x1="177.3" y1="55.4" x2="178.1" y2="56.6" stroke-width="0.70"/>
<circle cx="204.0" cy="60.2" r="0.61" stroke="none"/>
<circle cx="212.3" cy="48.6" r="0.58" stroke="none"/>
<line x1="188.4" y1="54.5" x2="189.3" y2="55.1" stroke-width="1.28"/>
<circle cx="187.6" cy="66.6" r="0.69" stroke="none"/>
<circle cx="200.1" cy="57.7" r="0.77" stroke="none"/>
<circle cx="184.5" cy="45.4" r="0.47" stroke="none"/>
<line x1="185.4" y1="57.4" x2="186.1" y2="59.2" stroke-width="0.59"/>
<line x1="185.5" y1="75.4" x2="184.7" y2="76.1" stroke-width="1.07"/>
<circle cx="196.3" cy="51.1" r="0.51" stroke="none"/>
<circle cx="180.4" cy="53.3" r="0.80" stroke="none"/>
<line x1="202.3" y1="59.3" x2="202.9" y2="60.9" stroke-width="1.31"/>
<circle cx="196.9" cy="47.1" r="0.72" stroke="none"/>
<circle cx="182.9" cy="66.9" r="0.48" stroke="none"/>
<circle cx="202.8" cy="51.3" r="1.09" stroke="none"/>
<line x1="190.4" y1="60.1" x2="192.3" y2="60.2" stroke-width="0.96"/>
<circle cx="191.8" cy="57.7" r="0.76" stroke="none"/>
<line x1="204.7" y1="51.9" x2="203.9" y2="52.3" stroke-width="0.73"/>
<circle cx="186.5" cy="54.0" r="0.72" stroke="none"/>
<circle cx="192.3" cy="54.5" r="0.98" stroke="none"/>
<circle cx="213.0" cy="55.6" r="0.81" stroke="none"/>
<circle cx="189.1" cy="47.4" r="0.67" stroke="none"/>
<line x1="190.9" y1="50.8" x2="190.3" y2="51.9" stroke-width="0.82"/>
<circle cx="180.4" cy="47.3" r="0.62" stroke="none"/>
<circle cx="179.6" cy="68.9" r="0.52" stroke="none"/>
<line x1="184.0" y1="70.0" x2="185.8" y2="70.5" stroke-width="0.95"/>
<circle cx="196.4" cy="57.9" r="0.68" stroke="none"/>
</g>
<g fill="#111" stroke="#111" stroke-linecap="round">
<circle cx="181.4" cy="72.7" r="0.69" stroke="none"/>
<circle cx="199.8" cy="98.0" r="0.53" stroke="none"/>
<circle cx="215.1" cy="88.1" r="1.21" stroke="none"/>
<line x1="194.3" y1="62.0" x2="196.1" y2="62.1" stroke-width="1.37"/>
<line x1="215.1" y1="103.8" x2="216.0" y2="104.1" stroke-width="1.58"/>
<line x1="185.0" y1="63.0" x2="185.5" y2="63.9" stroke-width="0.64"/>
<circle cx="191.6" cy="108.4" r="0.58" stroke="none"/>
<circle cx="210.5" cy="90.4" r="0.91" stroke="none"/>
<line x1="203.8" y1="73.5" x2="204.5" y2="75.5" stroke-width="0.93"/>
<circle cx="196.8" cy="65.5" r="0.83" stroke="none"/>
<line x1="197.6" y1="97.1" x2="197.2" y2="97.9" stroke-width="0.68"/>
<line x1="191.3" y1="81.2" x2="193.4" y2="81.3" stroke-width="0.79"/>
<circle cx="208.3" cy="109.6" r="0.84" stroke="none"/>
<circle cx="216.0" cy="92.9" r="0.87" stroke="none"/>
<line x1="187.9" y1="80.8" x2="186.6" y2="81.5" stroke-width="1.34"/>
<line x1="204.6" y1="103.1" x2="205.2" y2="103.7" stroke-width="1.26"/>
<line x1="204.1" y1="110.4" x2="202.0" y2="110.7" stroke-width="1.40"/>
<line x1="198.1" y1="66.2" x2="198.5" y2="67.0" stroke-width="0.92"/>
<circle cx="209.4" cy="111.0" r="0.62" stroke="none"/>
<line x1="203.7" y1="86.1" x2="203.0" y2="86.6" stroke-width="1.53"/>
<line x1="209.7" y1="95.7" x2="210.9" y2="96.2" stroke-width="1.38"/>
<line x1="220.0" y1="111.1" x2="220.3" y2="113.1" stroke-width="0.82"/>
<line x1="189.2" y1="89.5" x2="187.7" y2="90.0" stroke-width="0.72"/>
<line x1="220.8" y1="105.2" x2="220.2" y2="107.3" stroke-width="1.37"/>
<circle cx="200.1" cy="65.3" r="0.60" stroke="none"/>
<line x1="192.0" y1="97.7" x2="190.3" y2="97.8" stroke-width="1.11"/>
<circle cx="194.1" cy="63.1" r="0.86" stroke="none"/>
<circle cx="185.8" cy="66.4" r="1.03" stroke="none"/>
<circle cx="194.6" cy="85.6" r="0.96" stroke="none"/>
<line x1="183.6" y1="75.7" x2="184.9" y2="76.1" stroke-width="0.80"/>
<circle cx="187.6" cy="104.4" r="0.71" stroke="none"/>
<circle cx="213.7" cy="75.5" r="0.57" stroke="none"/>
<circle cx="198.9" cy="88.8" r="0.55" stroke="none"/>
<circle cx="211.4" cy="84.3" r="0.65" stroke="none"/>
<line x1="191.0" y1="111.8" x2="191.2" y2="112.8" stroke-width="1.30"/>
<circle cx="212.6" cy="83.0" r="0.52" stroke="none"/>
<line x1="213.2" y1="92.4" x2="211.9" y2="92.5" stroke-width="1.18"/>
<line x1="201.1" y1="86.5" x2="199.6" y2="87.0" stroke-width="1.08"/>
<circle cx="195.3" cy="105.0" r="1.14" stroke="none"/>
<line x1="217.9" y1="79.5" x2="217.3" y2="81.3" stroke-width="0.69"/>
<circle cx="210.3" cy="93.5" r="0.93" stroke="none"/>
<line x1="203.3" y1="62.8" x2="204.9" y2="63.1" stroke-width="1.15"/>
<circle cx="215.0" cy="76.1" r="0.99" stroke="none"/>
<line x1="208.0" y1="105.6" x2="207.5" y2="106.8" stroke-width="1.31"/>
<circle cx="196.3" cy="95.7" r="0.59" stroke="none"/>
<circle cx="215.5" cy="97.4" r="0.77" stroke="none"/>
<circle cx="181.5" cy="70.0" r="1.25" stroke="none"/>
<circle cx="185.4" cy="68.5" r="0.81" stroke="none"/>
<circle cx="206.0" cy="84.0" r="0.90" stroke="none"/>
<line x1="183.2" y1="103.8" x2="184.9" y2="104.4" stroke-width="1.35"/>
<circle cx="215.5" cy="79.3" r="0.56" stroke="none"/>
<line x1="207.5" y1="79.9" x2="208.5" y2="80.4" stroke-width="1.01"/>
<circle cx="211.3" cy="68.1" r="0.61" stroke="none"/>
<line x1="187.2" y1="74.0" x2="187.1" y2="74.9" stroke-width="1.35"/>
<line x1="200.8" y1="96.9" x2="202.0" y2="97.0" stroke-width="1.05"/>
</g>
<g fill="#111" stroke="#111" stroke-linecap="round">
<line x1="242.1" y1="65.8" x2="241.1" y2="67.6" stroke-width="1.05"/>
<circle cx="259.4" cy="46.2" r="0.73" stroke="none"/>
<circle cx="239.9" cy="57.6" r="0.87" stroke="none"/>
<line x1="228.4" y1="51.6" x2="227.8" y2="53.3" stroke-width="0.84"/>
<circle cx="234.7" cy="75.2" r="0.86" stroke="none"/>
<circle cx="227.5" cy="47.4" r="0.85" stroke="none"/>
<line x1="219.3" y1="52.2" x2="220.8" y2="52.2" stroke-width="0.68"/>
<line x1="228.5" y1="55.3" x2="230.5" y2="55.6" stroke-width="0.64"/>
<line x1="251.1" y1="62.6" x2="252.3" y2="63.1" stroke-width="0.60"/>
<line x1="215.9" y1="50.1" x2="215.3" y2="51.4" stroke-width="0.65"/>
<circle cx="237.1" cy="53.8" r="0.67" stroke="none"/>
<line x1="237.5" y1="54.7" x2="236.8" y2="55.0" stroke-width="1.03"/>
<circle cx="240.7" cy="57.5" r="0.56" stroke="none"/>
<circle cx="248.8" cy="45.2" r="0.65" stroke="none"/>
<line x1="243.7" y1="70.1" x2="243.7" y2="71.3" stroke-width="0.82"/>
<line x1="233.3" y1="73.3" x2="234.8" y2="74.3" stroke-width="0.73"/>
<circle cx="244.7" cy="50.6" r="0.71" stroke="none"/>
<circle cx="235.1" cy="73.6" r="0.86" stroke="none"/>
<circle cx="239.1" cy="75.4" r="0.71" stroke="none"/>
<line x1="226.8" y1="63.7" x2="228.6" y2="64.9" stroke-width="0.89"/>
<circle cx="231.7" cy="73.2" r="0.77" stroke="none"/>
<line x1="244.6" y1="52.4" x2="245.3" y2="53.7" stroke-width="0.60"/>
<line x1="235.9" y1="46.9" x2="236.8" y2="47.3" stroke-width="0.57"/>
<circle cx="253.8" cy="62.0" r="0.63" stroke="none"/>
<line x1="217.0" y1="52.8" x2="218.1" y2="54.5" stroke-width="0.75"/>
<line x1="213.4" y1="57.8" x2="212.7" y2="58.6" stroke-width="0.77"/>
<line x1="215.2" y1="45.0" x2="217.2" y2="45.8" stroke-width="1.16"/>
<line x1="229.9" y1="73.6" x2="228.7" y2="74.6" stroke-width="0.55"/>
<line x1="253.3" y1="55.0" x2="252.9" y2="56.0" stroke-width="1.09"/>
<circle cx="223.2" cy="76.9" r="0.62" stroke="none"/>
<circle cx="227.5" cy="70.1" r="0.85" stroke="none"/>
<circle cx="225.0" cy="67.4" r="0.88" stroke="none"/>
<circle cx="235.6" cy="55.6" r="0.45" stroke="none"/>
<line x1="221.1" y1="47.6" x2="221.6" y2="49.0" stroke-width="0.54"/>
<line x1="221.9" y1="56.7" x2="223.3" y2="57.3" stroke-width="1.01"/>
<circle cx="232.5" cy="63.8" r="0.80" stroke="none"/>
<circle cx="238.2" cy="60.3" r="0.56" stroke="none"/>
<circle cx="240.7" cy="50.5" r="0.63" stroke="none"/>
<circle cx="225.0" cy="49.2" r="0.55" stroke="none"/>
<circle cx="228.5" cy="74.4" r="0.86" stroke="none"/>
<circle cx="254.0" cy="46.6" r="0.63" stroke="none"/>
<circle cx="225.5" cy="64.5" r="0.84" stroke="none"/>
<line x1="214.6" y1="51.9" x2="213.1" y2="52.8" stroke-width="0.88"/>
<circle cx="244.7" cy="74.4" r="0.56" stroke="none"/>
<circle cx="230.9" cy="50.7" r="0.46" stroke="none"/>
</g>
<g fill="#111" stroke="#111" stroke-linecap="round">
<circle cx="204.6" cy="128.4" r="0.73" stroke="none"/>
<circle cx="217.6" cy="122.2" r="0.78" stroke="none"/>
<line x1="196.3" y1="114.6" x2="197.4" y2="115.9" stroke-width="0.75"/>
<line x1="213.7" y1="133.1" x2="214.8" y2="134.2" stroke-width="0.51"/>
<circle cx="216.0" cy="134.4" r="0.77" stroke="none"/>
<line x1="208.6" y1="120.2" x2="208.4" y2="121.8" stroke-width="0.64"/>
<line x1="206.2" y1="123.0" x2="204.9" y2="123.9" stroke-width="0.70"/>
<line x1="212.7" y1="134.7" x2="214.0" y2="136.3" stroke-width="0.62"/>
<line x1="214.3" y1="123.4" x2="213.4" y2="123.7" stroke-width="0.91"/>
<line x1="200.5" y1="124.9" x2="201.4" y2="125.7" stroke-width="0.53"/>
<circle cx="187.5" cy="120.4" r="0.40" stroke="none"/>
<line x1="200.0" y1="118.4" x2="199.8" y2="120.4" stroke-width="1.01"/>
<circle cx="207.5" cy="136.4" r="0.38" stroke="none"/>
<circle cx="197.4" cy="121.0" r="0.70" stroke="none"/>
</g>
<g fill="#111" stroke="#111" stroke-linecap="round">
<circle cx="164.5" cy="63.1" r="0.60" stroke="none"/>
<circle cx="158.3" cy="70.3" r="0.53" stroke="none"/>
<circle cx="158.0" cy="50.3" r="0.59" stroke="none"/>
<line x1="169.3" y1="50.2" x2="168.4" y2="51.2" stroke-width="0.89"/>
<line x1="152.1" y1="60.6" x2="152.6" y2="61.5" stroke-width="0.42"/>
<circle cx="173.1" cy="56.3" r="0.63" stroke="none"/>
<line x1="163.2" y1="51.2" x2="162.6" y2="53.3" stroke-width="0.59"/>
<circle cx="163.4" cy="63.3" r="0.66" stroke="none"/>
<circle cx="167.4" cy="56.4" r="0.34" stroke="none"/>
<line x1="171.7" y1="52.8" x2="171.4" y2="53.9" stroke-width="0.74"/>
<circle cx="151.9" cy="60.3" r="0.34" stroke="none"/>
<circle cx="172.7" cy="58.6" r="0.30" stroke="none"/>
</g>
<g fill="#111" stroke="#111" stroke-linecap="round">
<line x1="196.6" y1="107.3" x2="194.9" y2="107.5" stroke-width="0.81"/>
<circle cx="193.3" cy="99.9" r="1.22" stroke="none"/>
<circle cx="192.3" cy="107.5" r="0.69" stroke="none"/>
<line x1="198.2" y1="101.4" x2="197.9" y2="102.4" stroke-width="1.66"/>
<circle cx="201.7" cy="97.0" r="0.96" stroke="none"/>
<circle cx="200.8" cy="96.4" r="1.21" stroke="none"/>
<line x1="195.2" y1="105.6" x2="196.2" y2="106.2" stroke-width="0.99"/>
<circle cx="200.3" cy="101.5" r="1.29" stroke="none"/>
<circle cx="194.1" cy="101.1" r="0.65" stroke="none"/>
<circle cx="198.1" cy="103.2" r="0.66" stroke="none"/>
<line x1="193.1" y1="106.8" x2="191.0" y2="106.9" stroke-width="1.20"/>
<circle cx="195.3" cy="108.0" r="0.80" stroke="none"/>
</g>
<g fill="#111" stroke="#111" stroke-linecap="round">
<circle cx="293.9" cy="289.3" r="0.79" stroke="none"/>
<circle cx="187.1" cy="276.1" r="0.62" stroke="none"/>
<circle cx="231.4" cy="265.3" r="0.81" stroke="none"/>
<line x1="201.8" y1="281.4" x2="203.2" y2="282.0" stroke-width="1.10"/>
<circle cx="264.7" cy="261.7" r="0.49" stroke="none"/>
<circle cx="198.7" cy="287.0" r="0.48" stroke="none"/>
<circle cx="212.6" cy="251.0" r="0.50" stroke="none"/>
<circle cx="289.4" cy="295.0" r="0.87" stroke="none"/>
<line x1="185.4" y1="260.5" x2="184.5" y2="260.5" stroke-width="0.94"/>
<line x1="185.2" y1="239.2" x2="186.2" y2="240.1" stroke-width="0.63"/>
<line x1="290.9" y1="263.1" x2="292.3" y2="264.0" stroke-width="0.93"/>
<line x1="259.2" y1="231.0" x2="258.5" y2="232.0" stroke-width="0.94"/>
<circle cx="268.8" cy="262.8" r="0.44" stroke="none"/>
<line x1="191.5" y1="244.6" x2="191.1" y2="246.6" stroke-width="0.52"/>
<circle cx="194.8" cy="259.8" r="0.44" stroke="none"/>
<circle cx="195.0" cy="251.3" r="0.54" stroke="none"/>
<line x1="297.1" y1="234.7" x2="295.6" y2="236.1" stroke-width="0.81"/>
<circle cx="168.9" cy="272.8" r="0.55" stroke="none"/>
<line x1="235.8" y1="251.9" x2="235.9" y2="253.2" stroke-width="0.94"/>
<line x1="213.5" y1="235.0" x2="213.0" y2="236.2" stroke-width="0.75"/>
<circle cx="173.4" cy="262.0" r="0.70" stroke="none"/>
<circle cx="264.1" cy="249.9" r="0.86" stroke="none"/>
<circle cx="161.2" cy="267.4" r="0.66" stroke="none"/>
<circle cx="258.8" cy="272.2" r="0.74" stroke="none"/>
<line x1="217.1" y1="259.4" x2="217.0" y2="260.8" stroke-width="0.87"/>
<line x1="214.1" y1="264.5" x2="213.9" y2="265.6" stroke-width="0.94"/>
<circle cx="296.4" cy="271.5" r="0.75" stroke="none"/>
<circle cx="206.8" cy="255.8" r="0.60" stroke="none"/>
<circle cx="244.1" cy="277.3" r="0.75" stroke="none"/>
<line x1="277.3" y1="281.8" x2="277.1" y2="282.8" stroke-width="1.14"/>
<line x1="279.2" y1="291.1" x2="277.8" y2="291.7" stroke-width="0.95"/>
<circle cx="254.4" cy="238.3" r="0.45" stroke="none"/>
<line x1="278.8" y1="251.5" x2="277.8" y2="251.8" stroke-width="0.57"/>
<line x1="262.4" y1="247.0" x2="260.9" y2="247.2" stroke-width="1.13"/>
<line x1="151.3" y1="252.6" x2="152.8" y2="253.0" stroke-width="0.80"/>
<line x1="259.0" y1="276.3" x2="259.2" y2="278.0" stroke-width="0.73"/>
<circle cx="296.7" cy="248.7" r="0.47" stroke="none"/>
<circle cx="238.5" cy="254.0" r="0.83" stroke="none"/>
<line x1="261.4" y1="232.0" x2="260.4" y2="232.5" stroke-width="0.76"/>
<circle cx="166.4" cy="256.3" r="0.55" stroke="none"/>
<circle cx="205.6" cy="233.6" r="0.73" stroke="none"/>
<line x1="254.0" y1="264.8" x2="253.0" y2="266.6" stroke-width="0.57"/>
<circle cx="166.2" cy="244.7" r="0.55" stroke="none"/>
<circle cx="204.8" cy="270.8" r="0.43" stroke="none"/>
<circle cx="258.0" cy="238.0" r="0.48" stroke="none"/>
<line x1="220.3" y1="258.2" x2="219.7" y2="259.6" stroke-width="1.14"/>
<circle cx="243.4" cy="245.1" r="0.78" stroke="none"/>
<circle cx="153.2" cy="249.3" r="0.40" stroke="none"/>
<circle cx="262.5" cy="253.3" r="0.89" stroke="none"/>
<circle cx="249.3" cy="232.7" r="0.55" stroke="none"/>
<circle cx="221.4" cy="241.0" r="0.40" stroke="none"/>
<circle cx="190.1" cy="232.4" r="0.65" stroke="none"/>
<line x1="236.7" y1="225.5" x2="236.3" y2="226.6" stroke-width="1.12"/>
<line x1="201.5" y1="233.2" x2="201.0" y2="234.9" stroke-width="1.03"/>
<line x1="297.2" y1="226.5" x2="298.8" y2="226.6" stroke-width="0.98"/>
<line x1="211.2" y1="256.7" x2="212.5" y2="257.2" stroke-width="0.64"/>
<circle cx="258.9" cy="282.5" r="0.84" stroke="none"/>
<circle cx="260.6" cy="256.5" r="0.82" stroke="none"/>
<line x1="270.7" y1="239.5" x2="272.2" y2="240.5" stroke-width="1.16"/>
<line x1="296.7" y1="275.8" x2="297.5" y2="277.5" stroke-width="0.63"/>
<circle cx="289.7" cy="283.2" r="0.79" stroke="none"/>
<circle cx="242.4" cy="257.7" r="0.78" stroke="none"/>
<line x1="247.3" y1="249.7" x2="247.8" y2="251.4" stroke-width="0.86"/>
<circle cx="261.3" cy="261.3" r="0.64" stroke="none"/>
<circle cx="233.0" cy="262.8" r="0.46" stroke="none"/>
<line x1="264.4" y1="228.3" x2="263.9" y2="229.2" stroke-width="0.77"/>
<circle cx="257.5" cy="250.1" r="0.81" stroke="none"/>
<circle cx="262.7" cy="240.4" r="0.85" stroke="none"/>
<line x1="213.7" y1="240.8" x2="213.7" y2="242.6" stroke-width="0.92"/>
<circle cx="228.8" cy="242.3" r="0.75" stroke="none"/>
<circle cx="243.3" cy="255.7" r="0.61" stroke="none"/>
<circle cx="205.8" cy="253.9" r="0.89" stroke="none"/>
<line x1="222.8" y1="274.7" x2="223.7" y2="275.9" stroke-width="0.86"/>
<circle cx="290.2" cy="238.7" r="0.49" stroke="none"/>
<circle cx="220.3" cy="252.7" r="0.69" stroke="none"/>
</g>
<g fill="#111" stroke="#111" stroke-linecap="round">
<circle cx="299.1" cy="281.8" r="0.73" stroke="none"/>
<line x1="300.7" y1="227.5" x2="299.8" y2="228.8" stroke-width="0.76"/>
<circle cx="258.8" cy="228.5" r="0.68" stroke="none"/>
<circle cx="234.0" cy="218.2" r="0.51" stroke="none"/>
<circle cx="324.2" cy="249.7" r="0.64" stroke="none"/>
<circle cx="229.1" cy="245.6" r="0.45" stroke="none"/>
<line x1="226.1" y1="260.4" x2="225.8" y2="261.2" stroke-width="0.99"/>
<circle cx="267.2" cy="203.3" r="0.74" stroke="none"/>
<circle cx="311.3" cy="265.4" r="0.58" stroke="none"/>
<circle cx="311.1" cy="240.3" r="0.45" stroke="none"/>
<line x1="230.8" y1="236.6" x2="230.4" y2="237.5" stroke-width="0.78"/>
<circle cx="303.0" cy="224.2" r="0.36" stroke="none"/>
<circle cx="232.7" cy="203.0" r="0.58" stroke="none"/>
<circle cx="288.7" cy="239.5" r="0.61" stroke="none"/>
<circle cx="260.3" cy="209.3" r="0.66" stroke="none"/>
<circle cx="287.5" cy="290.3" r="0.35" stroke="none"/>
<line x1="315.5" y1="231.2" x2="314.6" y2="231.2" stroke-width="0.64"/>
<circle cx="323.6" cy="266.0" r="0.75" stroke="none"/>
<line x1="266.6" y1="248.2" x2="265.1" y2="249.0" stroke-width="0.99"/>
<circle cx="257.1" cy="244.2" r="0.36" stroke="none"/>
<circle cx="278.3" cy="223.3" r="0.69" stroke="none"/>
<circle cx="340.8" cy="285.0" r="0.74" stroke="none"/>
</g>
<g fill="#111" stroke="#111" stroke-linecap="round">
<line x1="151.3" y1="220.6" x2="150.6" y2="221.7" stroke-width="0.88"/>
<circle cx="137.4" cy="228.8" r="0.56" stroke="none"/>
<circle cx="150.1" cy="223.3" r="0.41" stroke="none"/>
<circle cx="146.7" cy="227.7" r="0.78" stroke="none"/>
<line x1="133.8" y1="229.4" x2="132.9" y2="230.2" stroke-width="0.98"/>
<line x1="130.7" y1="221.3" x2="131.7" y2="222.3" stroke-width="0.70"/>
<circle cx="161.1" cy="220.5" r="0.77" stroke="none"/>
<circle cx="156.3" cy="223.3" r="0.75" stroke="none"/>
<line x1="129.1" y1="220.9" x2="128.7" y2="222.4" stroke-width="0.84"/>
<circle cx="128.8" cy="223.1" r="0.69" stroke="none"/>
<line x1="134.3" y1="220.3" x2="134.9" y2="220.9" stroke-width="0.47"/>
<circle cx="146.2" cy="234.8" r="0.38" stroke="none"/>
<line x1="151.5" y1="230.1" x2="151.0" y2="231.4" stroke-width="0.61"/>
<circle cx="130.9" cy="219.9" r="0.67" stroke="none"/>
<line x1="130.1" y1="227.2" x2="129.8" y2="228.0" stroke-width="0.91"/>
<line x1="130.4" y1="225.1" x2="131.9" y2="225.4" stroke-width="0.67"/>
<circle cx="138.4" cy="211.7" r="0.74" stroke="none"/>
<circle cx="157.5" cy="227.2" r="0.37" stroke="none"/>
<line x1="145.4" y1="217.8" x2="144.3" y2="218.7" stroke-width="0.67"/>
<circle cx="141.3" cy="221.0" r="0.66" stroke="none"/>
<line x1="133.1" y1="224.7" x2="131.3" y2="225.6" stroke-width="1.02"/>
<line x1="143.2" y1="235.7" x2="143.4" y2="236.6" stroke-width="0.60"/>
</g>
<g fill="#111" stroke="#111" stroke-linecap="round">
<line x1="144.4" y1="240.3" x2="145.3" y2="241.2" stroke-width="0.87"/>
<line x1="136.7" y1="233.4" x2="134.9" y2="233.7" stroke-width="0.71"/>
<circle cx="148.1" cy="243.7" r="0.41" stroke="none"/>
<line x1="150.8" y1="249.5" x2="149.1" y2="250.2" stroke-width="0.92"/>
<circle cx="157.0" cy="241.6" r="0.75" stroke="none"/>
<line x1="137.2" y1="239.7" x2="138.3" y2="239.9" stroke-width="0.48"/>
<line x1="141.6" y1="242.7" x2="142.9" y2="243.6" stroke-width="0.84"/>
<circle cx="159.7" cy="247.2" r="0.48" stroke="none"/>
<line x1="158.1" y1="236.4" x2="158.6" y2="237.3" stroke-width="0.54"/>
<line x1="142.8" y1="247.2" x2="142.6" y2="249.3" stroke-width="0.47"/>
<circle cx="149.8" cy="239.1" r="0.48" stroke="none"/>
<line x1="159.4" y1="240.6" x2="160.3" y2="241.8" stroke-width="0.52"/>
<line x1="166.7" y1="236.2" x2="166.2" y2="237.2" stroke-width="0.77"/>
<line x1="154.2" y1="248.0" x2="152.3" y2="248.9" stroke-width="0.67"/>
<circle cx="141.2" cy="242.2" r="0.38" stroke="none"/>
<line x1="140.7" y1="243.4" x2="138.6" y2="243.5" stroke-width="0.95"/>
<circle cx="143.3" cy="245.6" r="0.41" stroke="none"/>
<line x1="146.6" y1="242.5" x2="147.4" y2="244.5" stroke-width="0.85"/>
<line x1="163.7" y1="234.8" x2="163.9" y2="236.9" stroke-width="0.61"/>
<circle cx="156.2" cy="244.7" r="0.71" stroke="none"/>
<line x1="136.2" y1="238.5" x2="135.2" y2="238.8" stroke-width="0.63"/>
<line x1="154.7" y1="240.1" x2="155.4" y2="241.1" stroke-width="0.46"/>
<line x1="148.6" y1="242.2" x2="150.1" y2="242.5" stroke-width="0.74"/>
<line x1="145.6" y1="239.0" x2="144.5" y2="239.4" stroke-width="0.59"/>
<line x1="162.0" y1="239.0" x2="163.0" y2="240.1" stroke-width="0.77"/>
<line x1="140.8" y1="236.9" x2="140.7" y2="238.0" stroke-width="0.61"/>
<circle cx="163.9" cy="234.7" r="0.57" stroke="none"/>
<circle cx="138.5" cy="238.2" r="0.57" stroke="none"/>
<circle cx="133.6" cy="236.0" r="0.64" stroke="none"/>
<circle cx="130.5" cy="234.2" r="0.43" stroke="none"/>
</g>
<path d="M216.5 45.0 L217.0 59.3 L214.5 65.8 L210.4 69.0 L205.5 69.0 L203.0 72.4 L197.3 70.7 L191.5 71.5 L189.0 75.6 L187.5 79.0 L183.4 77.3 L179.3 74.8" fill="none" stroke="#111" stroke-width="1.50" stroke-linejoin="round" stroke-linecap="round"/>
<path d="M248.0 66.0 L240.0 67.0 L230.0 70.7 L225.0 75.6 L218.5 80.5 L212.0 87.0 L208.7 92.0 L202.0 95.3 L197.3 97.0" fill="none" stroke="#111" stroke-width="1.50" stroke-linejoin="round" stroke-linecap="round"/>
<path d="M179.3 74.8 L183.4 79.0 L187.5 82.0 L192.4 85.5 L195.6 90.4 L197.3 97.0 L196.5 104.0 L197.0 109.0 L199.0 116.0 L203.0 124.0 L207.0 131.0 L209.0 135.0" fill="none" stroke="#111" stroke-width="1.50" stroke-linejoin="round" stroke-linecap="round"/>
<path d="M205.5 70.0 L203.8 79.0 L200.5 83.8 L196.5 87.0" fill="none" stroke="#111" stroke-width="1.20" stroke-linejoin="round" stroke-linecap="round"/>
<path d="M175.0 45.0 L175.0 56.0 L172.0 58.5 L173.5 61.7 L177.6 62.5 L178.5 67.5 L176.8 70.7 L179.3 74.8" fill="none" stroke="#111" stroke-width="1.00" stroke-linejoin="round" stroke-linecap="round"/>
<path d="M234.0 237.0 L240.0 242.0 L246.0 246.0 L250.0 252.0 L260.0 255.0 L270.0 256.0 L280.0 259.0 L290.0 263.0 L300.0 264.0 L310.0 262.0 L320.0 260.0" fill="none" stroke="#111" stroke-width="1.50" stroke-linejoin="round" stroke-linecap="round"/>
<path d="M322.8 218.4 L323.0 222.0 L326.0 230.0 L334.0 232.0 L342.0 232.0 L347.0 235.0 L349.0 243.0 L347.0 249.0 L343.0 253.0 L345.0 257.0 L352.0 261.0 L356.0 268.0 L355.0 275.0 L358.0 282.0 L359.0 287.0 L354.0 291.0 L348.0 290.0 L340.0 293.0 L334.0 296.0 L331.0 300.0 L333.0 305.0 L338.0 309.0 L335.0 309.5 L330.0 307.0 L324.0 310.0 L318.0 307.0 L310.0 301.0 L302.0 298.0 L296.0 298.0 L284.0 297.0 L278.0 292.0 L272.0 286.0 L264.0 282.0 L256.0 284.0 L248.0 283.0 L240.0 278.0 L230.0 279.0 L224.0 282.0 L218.0 287.0 L214.0 284.0 L206.0 285.0 L198.0 288.0 L192.0 289.0 L188.0 284.0 L180.0 279.0 L172.0 277.5 L165.5 277.0 L161.0 272.7 L155.3 267.6 L150.2 262.5 L148.7 258.2 L146.5 253.8 L143.6 250.2 L141.5 245.8 L138.5 243.0 L135.0 238.5 L130.5 235.6 L126.2 237.0" fill="none" stroke="#111" stroke-width="1.10" stroke-linejoin="round" stroke-linecap="round"/>
<path d="M124.0 210.2 L129.0 208.7 L134.2 211.0 L139.3 211.6 L137.0 216.0 L136.4 219.6 L143.6 219.0 L145.0 216.7 L150.2 217.5 L153.8 219.0 L156.0 223.3 L158.2 221.8 L159.6 218.2 L161.8 219.0 L162.5 223.3 L164.0 227.0 L167.0 228.4 L167.6 232.7 L164.0 234.2 L158.2 235.0 L151.0 235.6 L145.0 236.4 L140.7 235.0 L136.4 232.0 L132.0 229.0 L128.4 227.6 L125.5 225.5 L124.0 220.4 L122.5 215.3 Z" fill="none" stroke="#111" stroke-width="1.10" stroke-linejoin="round" stroke-linecap="round"/>
<path d="M128.4 227.6 L127.0 232.7 L126.2 237.0" fill="none" stroke="#111" stroke-width="1.10" stroke-linejoin="round" stroke-linecap="round"/>
<path d="M167.6 232.7 L167.6 236.4 L162.5 237.8 L162.5 242.2 L161.0 247.3 L155.3 248.0 L148.7 251.0 L148.7 258.2" fill="none" stroke="#111" stroke-width="1.10" stroke-linejoin="round" stroke-linecap="round"/>
<path d="M167.6 236.4 L170.0 237.0 L176.0 238.0 L182.0 234.0 L188.0 230.0 L194.0 232.0 L198.0 231.0 L210.0 229.0 L216.0 228.0 L222.0 233.0 L230.0 237.0 L238.0 237.0" fill="none" stroke="#111" stroke-width="1.00" stroke-linejoin="round" stroke-linecap="round"/>
<rect x="46.9" y="30.8" width="390.3" height="292.5" fill="none" stroke="#333" stroke-width="1.1"/>
<g stroke="#333" stroke-width="1.1">
<line x1="73.7" y1="323.3" x2="73.7" y2="327.2"/>
<line x1="43.0" y1="36.4" x2="46.9" y2="36.4"/>
<line x1="125.6" y1="323.3" x2="125.6" y2="327.2"/>
<line x1="43.0" y1="74.7" x2="46.9" y2="74.7"/>
<line x1="177.5" y1="323.3" x2="177.5" y2="327.2"/>
<line x1="43.0" y1="113.1" x2="46.9" y2="113.1"/>
<line x1="229.5" y1="323.3" x2="229.5" y2="327.2"/>
<line x1="43.0" y1="151.4" x2="46.9" y2="151.4"/>
<line x1="281.4" y1="323.3" x2="281.4" y2="327.2"/>
<line x1="43.0" y1="189.8" x2="46.9" y2="189.8"/>
<line x1="333.3" y1="323.3" x2="333.3" y2="327.2"/>
<line x1="43.0" y1="228.1" x2="46.9" y2="228.1"/>
<line x1="385.2" y1="323.3" x2="385.2" y2="327.2"/>
<line x1="43.0" y1="266.5" x2="46.9" y2="266.5"/>
<line x1="437.1" y1="323.3" x2="437.1" y2="327.2"/>
<line x1="43.0" y1="304.8" x2="46.9" y2="304.8"/>
</g>
<g font-size="11.3" fill="#4d4d4d" letter-spacing="0.2">
<text x="73.7" y="338.8" text-anchor="middle">122.4°W</text>
<text x="40.4" y="40.4" text-anchor="end">47.8°N</text>
<text x="125.6" y="338.8" text-anchor="middle">122.2°W</text>
<text x="40.4" y="78.7" text-anchor="end">47.7°N</text>
<text x="177.5" y="338.8" text-anchor="middle">122.0°W</text>
<text x="40.4" y="117.1" text-anchor="end">47.6°N</text>
<text x="229.5" y="338.8" text-anchor="middle">121.8°W</text>
<text x="40.4" y="155.4" text-anchor="end">47.5°N</text>
<text x="281.4" y="338.8" text-anchor="middle">121.6°W</text>
<text x="40.4" y="193.8" text-anchor="end">47.4°N</text>
<text x="333.3" y="338.8" text-anchor="middle">121.4°W</text>
<text x="40.4" y="232.1" text-anchor="end">47.3°N</text>
<text x="385.2" y="338.8" text-anchor="middle">121.2°W</text>
<text x="40.4" y="270.5" text-anchor="end">47.2°N</text>
<text x="437.1" y="338.8" text-anchor="middle">121.0°W</text>
<text x="40.4" y="308.8" text-anchor="end">47.1°N</text>
</g>
<text x="47" y="19.6" font-size="17.0" fill="#111" textLength="235.6" lengthAdjust="spacing">Vaccine Coverage - Adolescent</text>
<text x="459" y="114.8" font-size="14.4" fill="#111">% Vaccinated</text>
<text x="459" y="129.8" font-size="14.4" fill="#111">Children</text>
<rect x="459" y="139.0" width="22.6" height="113.2" fill="url(#lg)"/>
<text x="489.3" y="142.7" font-size="11.8" fill="#111">100</text>
<text x="489.3" y="171.0" font-size="11.8" fill="#111">80</text>
<path d="M459 167.5h4.5M481.6 167.5h-4.5" stroke="#fff" stroke-opacity=".6" stroke-width=".6"/>
<text x="489.3" y="199.3" font-size="11.8" fill="#111">60</text>
<path d="M459 195.8h4.5M481.6 195.8h-4.5" stroke="#fff" stroke-opacity=".6" stroke-width=".6"/>
<text x="489.3" y="227.6" font-size="11.8" fill="#111">40</text>
<path d="M459 224.1h4.5M481.6 224.1h-4.5" stroke="#fff" stroke-opacity=".6" stroke-width=".6"/>
<text x="489.3" y="255.9" font-size="11.8" fill="#111">20</text>
<g stroke="#ebebeb" stroke-width="0.9" fill="none">
<line x1="73.7" y1="409.3" x2="73.7" y2="701.8"/>
<line x1="125.6" y1="409.3" x2="125.6" y2="701.8"/>
<line x1="177.5" y1="409.3" x2="177.5" y2="701.8"/>
<line x1="229.5" y1="409.3" x2="229.5" y2="701.8"/>
<line x1="281.4" y1="409.3" x2="281.4" y2="701.8"/>
<line x1="333.3" y1="409.3" x2="333.3" y2="701.8"/>
<line x1="385.2" y1="409.3" x2="385.2" y2="701.8"/>
<line x1="46.9" y1="414.9" x2="437.2" y2="414.9"/>
<line x1="46.9" y1="453.2" x2="437.2" y2="453.2"/>
<line x1="46.9" y1="491.6" x2="437.2" y2="491.6"/>
<line x1="46.9" y1="529.9" x2="437.2" y2="529.9"/>
<line x1="46.9" y1="568.2" x2="437.2" y2="568.2"/>
<line x1="46.9" y1="606.6" x2="437.2" y2="606.6"/>
<line x1="46.9" y1="645.0" x2="437.2" y2="645.0"/>
<line x1="46.9" y1="683.3" x2="437.2" y2="683.3"/>
</g>
<clipPath id="clip1"><polygon points="75.0,423.4 263.0,423.1 405.8,422.8 407.0,425.5 408.5,428.0 408.0,430.0 410.5,430.5 412.0,432.5 413.0,435.5 415.0,437.5 414.5,441.5 416.0,444.5 418.5,446.5 419.5,449.0 418.0,451.5 414.0,453.0 411.0,455.5 408.0,457.5 405.0,460.5 404.0,463.5 405.0,467.5 403.5,471.5 403.0,474.5 404.5,478.5 406.5,482.5 407.5,486.5 408.0,491.5 405.0,493.5 400.0,494.5 395.0,495.0 392.5,498.5 391.5,502.0 388.0,503.5 384.0,503.5 380.0,502.5 377.0,503.5 376.0,506.5 375.0,511.5 373.0,514.5 368.0,514.0 363.0,513.5 359.0,515.0 355.5,517.5 352.0,522.5 347.0,525.5 341.4,528.9 336.6,533.0 332.0,534.8 326.0,533.5 321.3,531.3 319.0,528.3 317.7,524.2 313.0,521.2 308.3,517.5 303.5,513.5 300.0,511.0 298.8,510.3 294.6,513.9 290.0,516.2 285.2,519.2 281.6,522.1 279.3,525.7 275.7,528.5 272.2,531.5 269.2,534.0 266.9,536.9 262.7,540.5 261.0,543.5 259.0,542.0 256.5,540.0 254.6,539.5 255.5,542.5 257.7,545.1 260.8,548.2 265.5,548.2 267.0,551.3 268.5,554.4 273.2,556.7 279.4,559.0 283.2,562.1 287.0,565.2 291.7,568.3 297.9,570.5 305.6,571.4 313.4,572.1 319.5,572.1 325.0,571.4 325.7,572.9 322.6,575.2 321.9,578.3 318.0,580.5 318.8,584.5 321.9,589.1 323.4,593.0 322.8,596.9 323.0,600.5 326.0,608.5 334.0,610.5 342.0,610.5 347.0,613.5 349.0,621.5 347.0,627.5 343.0,631.5 345.0,635.5 352.0,639.5 356.0,646.5 355.0,653.5 358.0,660.5 359.0,665.5 354.0,669.5 348.0,668.5 340.0,671.5 334.0,674.5 331.0,678.5 333.0,683.5 338.0,687.5 335.0,688.0 330.0,685.5 324.0,688.5 318.0,685.5 310.0,679.5 302.0,676.5 296.0,676.5 284.0,675.5 278.0,670.5 272.0,664.5 264.0,660.5 256.0,662.5 248.0,661.5 240.0,656.5 230.0,657.5 224.0,660.5 218.0,665.5 214.0,662.5 206.0,663.5 198.0,666.5 192.0,667.5 188.0,662.5 180.0,657.5 172.0,656.0 165.5,655.5 161.0,651.2 155.3,646.1 150.2,641.0 148.7,636.7 146.5,632.3 143.6,628.7 141.5,624.3 138.5,621.5 135.0,617.0 130.5,614.1 126.2,615.5 120.4,618.5 116.0,622.1 108.7,622.9 96.5,622.3 90.4,622.5 86.6,617.3 81.3,611.2 75.2,605.1 70.6,599.0 76.7,594.5 84.3,589.9 92.7,585.3 93.1,579.3 92.7,573.2 91.1,567.1 88.9,561.0 86.6,555.0 82.8,550.5 79.0,548.1 79.8,545.8 82.8,541.3 82.8,536.7 80.5,530.7 76.7,526.1 75.2,523.1 74.5,521.2 73.8,514.0 72.4,506.5 70.6,503.5 69.1,500.9 72.9,497.9 75.2,495.6 77.5,493.3 79.0,495.6 82.0,497.9 84.3,497.1 86.6,494.8 88.9,492.5 90.4,491.0 88.9,489.5 85.8,487.2 82.8,484.9 79.0,481.9 76.7,479.6 73.3,478.1 69.9,475.8 68.7,473.6 66.8,470.5 64.6,467.9 68.4,465.6 71.4,462.9 72.9,460.6 72.5,456.9 73.3,453.5 76.0,452.3 78.2,448.5 80.0,444.5 80.0,440.5 79.5,434.5 78.0,430.5 76.5,427.0"/></clipPath>
<g clip-path="url(#clip1)" stroke="#4c4c4c" stroke-width="0.65" stroke-linejoin="round">
<polygon points="75.0,423.4 263.0,423.1 405.8,422.8 407.0,425.5 408.5,428.0 408.0,430.0 410.5,430.5 412.0,432.5 413.0,435.5 415.0,437.5 414.5,441.5 416.0,444.5 418.5,446.5 419.5,449.0 418.0,451.5 414.0,453.0 411.0,455.5 408.0,457.5 405.0,460.5 404.0,463.5 405.0,467.5 403.5,471.5 403.0,474.5 404.5,478.5 406.5,482.5 407.5,486.5 408.0,491.5 405.0,493.5 400.0,494.5 395.0,495.0 392.5,498.5 391.5,502.0 388.0,503.5 384.0,503.5 380.0,502.5 377.0,503.5 376.0,506.5 375.0,511.5 373.0,514.5 368.0,514.0 363.0,513.5 359.0,515.0 355.5,517.5 352.0,522.5 347.0,525.5 341.4,528.9 336.6,533.0 332.0,534.8 326.0,533.5 321.3,531.3 319.0,528.3 317.7,524.2 313.0,521.2 308.3,517.5 303.5,513.5 300.0,511.0 298.8,510.3 294.6,513.9 290.0,516.2 285.2,519.2 281.6,522.1 279.3,525.7 275.7,528.5 272.2,531.5 269.2,534.0 266.9,536.9 262.7,540.5 261.0,543.5 259.0,542.0 256.5,540.0 254.6,539.5 255.5,542.5 257.7,545.1 260.8,548.2 265.5,548.2 267.0,551.3 268.5,554.4 273.2,556.7 279.4,559.0 283.2,562.1 287.0,565.2 291.7,568.3 297.9,570.5 305.6,571.4 313.4,572.1 319.5,572.1 325.0,571.4 325.7,572.9 322.6,575.2 321.9,578.3 318.0,580.5 318.8,584.5 321.9,589.1 323.4,593.0 322.8,596.9 323.0,600.5 326.0,608.5 334.0,610.5 342.0,610.5 347.0,613.5 349.0,621.5 347.0,627.5 343.0,631.5 345.0,635.5 352.0,639.5 356.0,646.5 355.0,653.5 358.0,660.5 359.0,665.5 354.0,669.5 348.0,668.5 340.0,671.5 334.0,674.5 331.0,678.5 333.0,683.5 338.0,687.5 335.0,688.0 330.0,685.5 324.0,688.5 318.0,685.5 310.0,679.5 302.0,676.5 296.0,676.5 284.0,675.5 278.0,670.5 272.0,664.5 264.0,660.5 256.0,662.5 248.0,661.5 240.0,656.5 230.0,657.5 224.0,660.5 218.0,665.5 214.0,662.5 206.0,663.5 198.0,666.5 192.0,667.5 188.0,662.5 180.0,657.5 172.0,656.0 165.5,655.5 161.0,651.2 155.3,646.1 150.2,641.0 148.7,636.7 146.5,632.3 143.6,628.7 141.5,624.3 138.5,621.5 135.0,617.0 130.5,614.1 126.2,615.5 120.4,618.5 116.0,622.1 108.7,622.9 96.5,622.3 90.4,622.5 86.6,617.3 81.3,611.2 75.2,605.1 70.6,599.0 76.7,594.5 84.3,589.9 92.7,585.3 93.1,579.3 92.7,573.2 91.1,567.1 88.9,561.0 86.6,555.0 82.8,550.5 79.0,548.1 79.8,545.8 82.8,541.3 82.8,536.7 80.5,530.7 76.7,526.1 75.2,523.1 74.5,521.2 73.8,514.0 72.4,506.5 70.6,503.5 69.1,500.9 72.9,497.9 75.2,495.6 77.5,493.3 79.0,495.6 82.0,497.9 84.3,497.1 86.6,494.8 88.9,492.5 90.4,491.0 88.9,489.5 85.8,487.2 82.8,484.9 79.0,481.9 76.7,479.6 73.3,478.1 69.9,475.8 68.7,473.6 66.8,470.5 64.6,467.9 68.4,465.6 71.4,462.9 72.9,460.6 72.5,456.9 73.3,453.5 76.0,452.3 78.2,448.5 80.0,444.5 80.0,440.5 79.5,434.5 78.0,430.5 76.5,427.0" fill="#FF9A00" stroke="none"/>
<polygon points="213.0,416.5 264.0,416.5 264.0,436.5 250.0,442.5 249.0,454.5 244.0,460.5 232.0,453.5 226.0,454.5 220.0,457.5 217.0,448.5 213.0,448.5" fill="#FF5C00"/>
<polygon points="175.0,440.5 217.0,438.5 217.0,448.5 222.0,457.5 222.0,517.5 203.0,517.5 194.0,518.5 187.0,510.5 180.0,478.5" fill="#FF5C00"/>
<polygon points="60.0,416.5 84.8,416.5 84.8,451.8 60.0,452.9" fill="#FFBA00"/>
<polygon points="84.8,416.5 92.3,416.5 92.3,452.3 84.8,451.8" fill="#FF9F00"/>
<polygon points="84.8,451.8 92.3,452.3 92.3,472.5 84.8,472.5" fill="#FFE400"/>
<polygon points="91.4,416.5 108.0,416.5 108.0,439.8 91.4,439.8" fill="#FFA900"/>
<polygon points="91.4,439.8 108.0,439.8 112.0,452.3 91.4,452.3" fill="#FFBA00"/>
<polygon points="107.0,416.5 119.2,416.5 119.2,440.5 107.0,440.5" fill="#FF9F00"/>
<polygon points="119.2,416.5 133.0,416.5 133.0,439.5 119.2,440.3" fill="#FF9F00"/>
<polygon points="133.0,416.5 151.5,416.5 151.5,443.0 146.0,444.5 140.0,443.0 138.0,439.5 133.0,439.5" fill="#FF9500"/>
<polygon points="107.0,440.5 119.2,440.3 133.0,439.5 138.0,439.5 138.5,448.5 135.0,451.0 110.0,451.0" fill="#FF9500"/>
<polygon points="110.0,451.0 135.2,451.0 135.2,451.8 136.3,456.2 135.7,460.5 136.8,466.0 140.6,467.1 141.2,472.5 118.0,472.5 112.0,463.5" fill="#FFD100"/>
<polygon points="138.4,442.5 141.2,441.5 144.0,443.6 146.6,444.2 150.0,440.9 152.0,442.0 154.3,446.4 155.3,449.6 154.8,457.3 155.9,464.9 154.3,468.2 151.0,470.3 147.7,472.5 146.6,476.9 143.9,479.1 141.2,480.2 141.2,471.5 140.6,467.1 136.8,466.0 135.7,460.5 136.3,456.2 135.2,451.8 136.8,448.5 138.4,446.4" fill="#FFF100"/>
<polygon points="151.5,416.5 175.0,416.5 175.2,434.5 172.7,437.8 171.0,441.0 167.0,444.3 161.3,449.2 158.0,450.0 156.4,443.5 151.5,441.0" fill="#FF8200"/>
<polygon points="175.0,416.5 175.0,434.5 172.0,437.0 173.5,440.2 177.6,441.0 178.5,446.0 176.8,449.2 179.3,453.3 183.4,455.8 187.5,457.5 189.0,454.1 191.5,450.0 197.3,449.2 203.0,450.9 205.5,447.5 210.4,447.5 214.5,444.3 217.0,437.8 217.0,416.5" fill="#FF6C00"/>
<polygon points="155.5,444.5 156.4,443.5 158.0,450.0 161.3,449.2 167.0,444.3 171.0,441.0 173.5,440.2 177.6,441.0 178.5,446.0 176.8,449.2 179.3,453.3 183.4,457.5 185.5,459.5 184.0,473.0 187.0,484.0 186.5,490.5 156.0,490.5 156.0,478.5 150.0,478.5 147.0,476.5 147.7,472.5 151.0,470.3 154.3,468.2 155.9,464.9 154.8,457.3 155.3,449.6" fill="#FFAE00"/>
<polygon points="156.0,490.5 186.5,490.5 185.5,500.5 188.0,508.5 185.0,515.5 174.0,516.5 170.0,511.5 161.0,512.5 159.0,504.5 155.0,496.5" fill="#FFA100"/>
<polygon points="229.0,454.0 236.0,453.0 243.0,454.0 245.5,459.5 247.0,469.0 252.0,477.1 255.0,486.5 253.6,500.5 252.0,508.5 248.0,513.5 240.0,519.5 233.0,522.1 225.0,516.5 219.5,511.5 217.0,500.5 214.0,489.5 218.0,473.0 222.0,463.5" fill="#FFA100"/>
<polygon points="203.0,515.5 206.0,512.5 219.0,514.5 223.0,515.5 226.0,518.5 232.0,522.5 230.0,525.5 222.0,526.5 220.0,528.5 212.0,528.5 210.0,526.5 204.0,523.5 201.0,518.5" fill="#FFA100"/>
<polygon points="209.0,527.5 212.0,528.5 220.0,528.5 222.0,526.5 230.0,525.5 232.0,522.5 234.0,522.5 240.0,528.5 270.0,528.5 340.0,563.5 340.0,608.5 300.0,608.5 260.0,583.5 240.0,568.5 224.0,568.5 220.0,564.5 224.0,560.5 225.0,554.0 220.0,549.5 213.0,538.5" fill="#FF8800"/>
<polygon points="234.0,522.5 240.0,520.5 248.0,516.5 252.0,510.5 250.0,501.5 251.5,491.5 253.0,484.5 252.0,478.5 257.8,478.9 265.5,473.8 274.4,470.0 300.0,505.5 300.0,518.5 268.0,543.5 270.0,554.0 259.0,551.5 250.0,547.5 244.0,540.5 235.0,534.5 232.0,525.5" fill="#FF8000"/>
<polygon points="263.0,416.5 430.0,416.5 430.0,553.5 300.0,553.5 298.8,510.3 297.0,505.5 292.3,502.0 287.5,498.5 286.0,490.5 283.3,481.4 278.2,473.8 274.4,470.0 265.5,473.8 257.8,478.9 252.7,481.4 250.2,476.3 246.4,471.2 245.0,463.5 244.0,458.5 249.0,454.5 250.0,442.5 263.0,434.5" fill="#7f7f7f"/>
<polygon points="60.0,452.9 85.5,451.8 85.5,462.5 60.0,463.0" fill="#FFD100"/>
<polygon points="60.0,462.8 79.0,462.5 79.0,486.5 60.0,486.5" fill="#FFDF00"/>
<polygon points="79.0,462.5 85.5,462.5 85.5,472.5 89.0,474.0 89.0,486.5 79.0,486.5" fill="#FFD100"/>
<polygon points="89.0,472.5 91.4,472.5 95.5,473.5 95.5,484.0 91.0,487.0 89.0,486.5" fill="#FFE800"/>
<polygon points="91.4,452.3 114.0,452.3 114.0,463.0 91.4,463.0" fill="#FFC800"/>
<polygon points="91.4,463.0 114.0,463.0 114.0,473.5 91.4,473.5" fill="#FFBA00"/>
<polygon points="95.8,467.7 98.8,467.3 99.3,470.5 97.5,473.5 95.6,473.0" fill="#7f7f7f"/>
<polygon points="95.5,473.5 108.0,473.5 108.0,483.8 95.5,484.0" fill="#FF9F00"/>
<polygon points="94.2,484.0 108.0,483.5 108.0,502.5 95.0,502.5 95.6,493.5 94.2,488.5" fill="#FF9700"/>
<polygon points="91.3,487.0 94.2,488.5 93.7,492.1 89.8,492.1" fill="#FF4100"/>
<polygon points="84.2,497.8 87.4,494.5 90.4,492.3 94.2,492.1 95.3,494.0 94.5,502.7 91.8,507.0 90.2,511.5 88.5,509.2 86.4,503.8" fill="#7f7f7f"/>
<polygon points="60.0,488.5 79.0,488.5 79.0,524.1 60.0,524.1" fill="#FFD100"/>
<polygon points="79.0,488.5 82.0,497.9 82.2,503.5 82.0,524.1 79.0,524.1" fill="#FFBA00"/>
<polygon points="82.0,497.9 84.3,497.1 84.7,499.5 87.0,503.8 89.0,509.5 90.5,511.0 92.7,506.7 95.0,502.5 108.0,502.5 118.0,524.5 82.0,524.1 82.2,503.5" fill="#FF9700"/>
<polygon points="118.0,472.5 141.2,472.5 141.2,480.2 143.9,479.1 146.6,476.9 147.2,474.5 150.0,477.5 152.0,478.5 152.0,499.5 128.4,498.0 120.0,498.5 118.0,488.5" fill="#FFC800"/>
<polygon points="126.0,498.0 150.0,499.0 151.0,504.5 150.0,511.5 148.0,517.5 146.0,520.0 145.0,523.0 143.5,523.0 144.5,518.5 143.0,513.5 135.0,513.0 126.0,514.0" fill="#FFAE00"/>
<polygon points="135.0,513.0 143.0,513.5 144.5,518.5 143.5,522.5 150.0,523.5 151.0,526.5 152.0,531.5 155.0,534.5 158.0,537.5 161.0,541.5 162.0,546.5 161.5,550.5 159.5,549.5 158.5,544.5 157.0,541.5 153.0,540.5 148.0,541.5 141.0,541.5 139.0,542.5 137.0,540.5 134.0,538.5 134.5,533.5 135.0,523.5 134.5,518.5" fill="#FFA100"/>
<polygon points="122.0,514.0 135.0,514.0 134.5,533.5 134.0,538.5 130.0,540.5 120.0,542.5 118.0,524.5" fill="#FF8500"/>
<polygon points="150.3,499.5 154.0,499.5 158.0,502.5 161.0,512.5 170.0,511.5 174.0,516.5 185.0,515.5 187.0,508.5 194.0,516.5 202.0,521.5 209.0,527.5 208.0,534.5 200.0,540.5 191.5,546.5 186.0,554.0 183.0,556.5 178.0,549.5 172.0,546.5 167.5,543.0 163.0,539.5 161.0,541.5 158.0,537.5 155.0,534.5 152.0,531.5 151.0,526.5 150.0,523.5 145.0,523.0 146.0,520.0 148.0,517.5 150.0,511.5 151.0,504.5" fill="#FFAB00"/>
<polygon points="161.5,550.5 162.0,546.5 161.0,541.5 163.0,539.5 167.5,543.0 172.0,546.5 178.0,549.5 183.0,556.5 186.0,554.0 191.5,546.5 200.0,540.5 208.0,534.5 209.0,527.5 213.0,538.5 220.0,549.5 225.0,554.0 224.0,560.5 220.0,564.5 217.6,570.5 205.0,572.5 190.0,570.5 184.0,573.5 176.0,572.5 174.0,578.5 174.0,586.5 170.0,590.5 168.0,596.5 164.0,590.5 163.0,582.5 158.0,574.5 161.0,564.5 159.0,554.5 159.5,549.5" fill="#FF8200"/>
<polygon points="60.0,524.1 91.0,524.1 91.0,541.5 60.0,541.5" fill="#FF8800"/>
<polygon points="91.0,524.1 104.0,524.1 104.0,536.5 91.0,541.5" fill="#FF6C00"/>
<polygon points="60.0,541.5 91.0,541.5 91.0,559.5 60.0,559.5" fill="#FF8D00"/>
<polygon points="60.0,559.5 91.0,559.5 91.0,586.5 60.0,600.5" fill="#FF7200"/>
<polygon points="104.0,524.1 118.0,524.5 120.0,542.5 104.0,541.5 104.0,536.5" fill="#FF7A00"/>
<polygon points="91.0,541.5 104.0,541.5 113.0,541.5 113.0,553.5 105.0,568.5 98.0,585.5 91.0,586.5" fill="#FF6C00"/>
<polygon points="91.0,559.5 103.0,559.5 108.0,556.5 98.0,585.5 91.0,586.5" fill="#FF6C00"/>
<polygon points="111.7,553.5 118.5,555.0 118.5,586.0 98.0,586.0 105.0,568.5" fill="#FF5C00"/>
<polygon points="95.0,542.8 101.0,542.8 101.0,555.0 95.0,555.0" fill="#7f7f7f"/>
<polygon points="118.5,554.5 130.0,540.5 130.0,554.5 135.0,556.5 135.0,586.5 118.5,586.0" fill="#FF5F00"/>
<polygon points="121.5,542.5 127.0,542.5 130.0,540.5 130.0,554.5 135.0,556.5 135.0,568.5 118.5,568.5 118.5,558.0 121.5,558.0" fill="#FF7A00"/>
<polygon points="121.5,542.5 128.5,542.0 128.5,557.5 121.5,558.0" fill="#FF9700"/>
<polygon points="120.8,532.2 124.0,531.5 128.4,535.2 126.8,541.3 121.5,544.3 121.5,550.5 120.0,551.9 118.5,555.0 116.2,554.2 111.7,553.5 113.2,550.5 112.4,545.8 113.2,538.2 116.0,534.5" fill="#FF4100"/>
<polygon points="130.0,540.5 134.0,538.5 137.0,540.5 139.0,542.5 141.0,541.5 148.0,541.5 153.0,540.5 157.0,541.5 158.5,544.5 159.5,549.5 159.0,554.5 161.0,564.5 158.0,574.5 163.0,582.5 164.0,590.5 166.0,598.5 160.0,597.5 154.0,598.5 146.0,596.5 139.0,598.5 136.0,589.5 135.0,586.5 135.0,556.5 130.0,554.5" fill="#FF7A00"/>
<polygon points="135.0,560.5 140.5,559.5 141.5,555.0 144.0,554.5 148.0,556.5 149.0,564.5 154.0,569.0 156.5,574.9 160.0,580.5 163.0,582.5 164.0,590.5 166.0,598.5 160.0,597.5 154.0,598.5 146.0,596.5 139.0,598.5 136.0,589.5 135.0,586.5" fill="#FF6C00"/>
<polygon points="164.0,590.5 168.0,596.5 172.0,604.5 176.0,608.5 170.0,615.5 163.0,616.5 166.0,606.5 166.0,598.5" fill="#FF8200"/>
<polygon points="60.0,600.5 91.0,586.5 91.0,624.5 60.0,624.5" fill="#FF3C00"/>
<polygon points="91.0,586.0 100.0,586.0 100.0,624.5 91.0,624.5" fill="#FF5800"/>
<polygon points="100.0,586.0 118.0,586.0 118.0,624.5 100.0,624.5" fill="#FF5800"/>
<polygon points="118.0,586.0 124.0,588.7 122.5,593.8 124.0,598.9 125.5,604.0 128.4,606.1 127.0,611.2 126.2,616.5 118.0,624.5" fill="#FF6200"/>
<polygon points="109.5,622.9 109.2,619.0 112.5,616.8 116.7,618.0 116.0,622.1" fill="#FF5C00"/>
<polygon points="124.0,588.7 129.0,587.2 134.2,589.5 139.3,590.1 137.0,594.5 136.4,598.1 143.6,597.5 145.0,595.2 150.2,596.0 153.8,597.5 156.0,601.8 158.2,600.3 159.6,596.7 161.8,597.5 162.5,601.8 164.0,605.5 167.0,606.9 167.6,611.2 164.0,612.7 158.2,613.5 151.0,614.1 145.0,614.9 140.7,613.5 136.4,610.5 132.0,607.5 128.4,606.1 125.5,604.0 124.0,598.9 122.5,593.8" fill="#FF6C00"/>
<polygon points="128.4,606.1 132.0,607.5 136.4,610.5 140.7,613.5 145.0,614.9 151.0,614.1 158.2,613.5 164.0,612.7 167.6,611.2 167.6,614.9 162.5,616.3 162.5,620.7 161.0,625.8 155.3,626.5 148.7,629.5 150.0,648.5 120.0,628.5 126.2,616.5 127.0,611.2" fill="#FF6C00"/>
<polygon points="176.0,572.5 184.0,573.5 190.0,570.5 205.0,572.5 218.0,570.5 226.0,584.5 232.0,598.5 237.0,608.5 238.0,615.5 230.0,611.5 220.0,608.5 210.0,604.5 200.0,599.5 194.0,599.5 192.0,598.5 180.0,594.5 172.0,594.5 168.0,596.5 170.0,590.5 174.0,586.5 174.0,578.5" fill="#7f7f7f"/>
<polygon points="172.0,594.5 180.0,594.5 192.0,598.5 194.0,599.5 192.0,604.5 190.0,608.5 188.0,608.5 182.0,612.5 176.0,616.5 170.0,615.5 176.0,608.5 172.0,604.5 168.0,596.5" fill="#FF7A00"/>
<polygon points="148.7,629.5 155.3,626.5 161.0,625.8 162.5,620.5 163.0,616.5 167.6,614.9 170.0,615.5 176.0,616.5 182.0,612.5 188.0,608.5 190.0,608.5 192.0,604.5 194.0,599.5 200.0,599.5 210.0,604.5 220.0,608.5 230.0,611.5 238.0,615.5 237.0,608.5 232.0,598.5 226.0,584.5 218.0,570.5 217.6,570.5 220.0,564.5 224.0,564.5 237.0,561.5 248.0,563.5 252.5,567.0 254.6,572.1 262.4,574.5 270.0,578.3 275.5,583.0 281.0,586.0 288.6,588.4 294.8,591.5 299.5,597.5 301.8,600.7 308.7,599.2 316.5,596.9 322.8,596.9 380.0,594.5 380.0,708.5 140.0,708.5 140.0,640.5" fill="#7f7f7f"/>
</g>
<g fill="#fff" stroke="#666" stroke-width="0.45" stroke-linejoin="round">
<polygon points="110.0,431.5 110.8,433.4 108.9,437.2 108.5,441.0 109.7,444.8 111.2,448.5 113.5,451.6 116.5,453.9 118.8,453.9 120.3,452.7 121.4,453.1 121.0,456.1 120.7,459.2 122.2,462.2 123.3,465.3 123.7,469.1 122.6,472.1 121.0,472.8 120.0,475.5 120.5,480.5 122.0,485.5 124.5,489.5 128.0,494.5 127.8,500.5 127.2,508.5 126.0,515.5 124.5,521.5 122.5,527.5 120.5,529.5 117.0,527.0 113.8,524.1 110.5,518.5 108.7,512.5 106.8,506.7 104.6,500.9 104.4,492.1 105.0,483.5 105.8,478.0 102.8,473.6 101.3,472.1 103.6,471.3 107.4,470.6 108.9,468.3 111.2,465.6 113.1,463.0 113.1,460.7 111.2,459.2 108.5,456.9 107.4,453.9 106.3,450.1 105.5,446.3 105.1,442.5 104.4,438.7 105.1,435.6 107.4,432.6"/>
<polygon points="151.5,471.5 153.5,472.5 155.0,476.5 159.0,480.5 159.5,485.5 157.0,490.5 155.0,496.5 157.0,501.5 161.5,505.5 160.0,507.5 158.0,507.5 156.5,505.5 151.5,502.5 149.5,498.5 149.5,493.5 150.0,488.5 152.0,484.5 154.0,480.5 152.0,476.5 150.5,473.5"/>
<polygon points="89.0,474.5 91.5,474.1 92.2,476.5 91.8,480.3 90.0,480.5 89.6,477.5"/>
<polygon points="88.0,463.1 88.6,461.1 90.3,459.9 91.8,460.1 92.0,461.5 90.8,463.1 89.2,463.9"/>
<polygon points="189.0,508.5 199.0,508.5 199.0,515.5 192.0,515.5 189.0,512.5"/>
<polygon points="185.0,550.0 189.0,548.5 193.0,551.5 195.0,558.5 190.0,559.5 186.0,556.5"/>
<polygon points="143.5,556.5 146.5,555.5 149.5,558.5 149.0,564.0 146.0,564.5 144.5,560.5"/>
<polygon points="250.0,566.5 256.0,568.5 262.0,574.5 260.0,576.5 254.0,573.5 250.0,569.5"/>
</g>
<g stroke="#555" stroke-width="0.5" stroke-linejoin="round">
<polygon points="115.2,474.0 118.8,474.0 119.0,486.5 115.5,487.0" fill="#FF9700"/>
<polygon points="113.0,495.0 119.6,493.5 123.3,498.0 124.0,506.7 124.7,512.5 122.5,518.3 118.2,519.8 114.5,516.9 115.3,509.5 113.0,503.8 111.6,498.0" fill="#FFBA00"/>
</g>
<polygon points="75.0,423.4 263.0,423.1 405.8,422.8 407.0,425.5 408.5,428.0 408.0,430.0 410.5,430.5 412.0,432.5 413.0,435.5 415.0,437.5 414.5,441.5 416.0,444.5 418.5,446.5 419.5,449.0 418.0,451.5 414.0,453.0 411.0,455.5 408.0,457.5 405.0,460.5 404.0,463.5 405.0,467.5 403.5,471.5 403.0,474.5 404.5,478.5 406.5,482.5 407.5,486.5 408.0,491.5 405.0,493.5 400.0,494.5 395.0,495.0 392.5,498.5 391.5,502.0 388.0,503.5 384.0,503.5 380.0,502.5 377.0,503.5 376.0,506.5 375.0,511.5 373.0,514.5 368.0,514.0 363.0,513.5 359.0,515.0 355.5,517.5 352.0,522.5 347.0,525.5 341.4,528.9 336.6,533.0 332.0,534.8 326.0,533.5 321.3,531.3 319.0,528.3 317.7,524.2 313.0,521.2 308.3,517.5 303.5,513.5 300.0,511.0 298.8,510.3 294.6,513.9 290.0,516.2 285.2,519.2 281.6,522.1 279.3,525.7 275.7,528.5 272.2,531.5 269.2,534.0 266.9,536.9 262.7,540.5 261.0,543.5 259.0,542.0 256.5,540.0 254.6,539.5 255.5,542.5 257.7,545.1 260.8,548.2 265.5,548.2 267.0,551.3 268.5,554.4 273.2,556.7 279.4,559.0 283.2,562.1 287.0,565.2 291.7,568.3 297.9,570.5 305.6,571.4 313.4,572.1 319.5,572.1 325.0,571.4 325.7,572.9 322.6,575.2 321.9,578.3 318.0,580.5 318.8,584.5 321.9,589.1 323.4,593.0 322.8,596.9 323.0,600.5 326.0,608.5 334.0,610.5 342.0,610.5 347.0,613.5 349.0,621.5 347.0,627.5 343.0,631.5 345.0,635.5 352.0,639.5 356.0,646.5 355.0,653.5 358.0,660.5 359.0,665.5 354.0,669.5 348.0,668.5 340.0,671.5 334.0,674.5 331.0,678.5 333.0,683.5 338.0,687.5 335.0,688.0 330.0,685.5 324.0,688.5 318.0,685.5 310.0,679.5 302.0,676.5 296.0,676.5 284.0,675.5 278.0,670.5 272.0,664.5 264.0,660.5 256.0,662.5 248.0,661.5 240.0,656.5 230.0,657.5 224.0,660.5 218.0,665.5 214.0,662.5 206.0,663.5 198.0,666.5 192.0,667.5 188.0,662.5 180.0,657.5 172.0,656.0 165.5,655.5 161.0,651.2 155.3,646.1 150.2,641.0 148.7,636.7 146.5,632.3 143.6,628.7 141.5,624.3 138.5,621.5 135.0,617.0 130.5,614.1 126.2,615.5 120.4,618.5 116.0,622.1 108.7,622.9 96.5,622.3 90.4,622.5 86.6,617.3 81.3,611.2 75.2,605.1 70.6,599.0 76.7,594.5 84.3,589.9 92.7,585.3 93.1,579.3 92.7,573.2 91.1,567.1 88.9,561.0 86.6,555.0 82.8,550.5 79.0,548.1 79.8,545.8 82.8,541.3 82.8,536.7 80.5,530.7 76.7,526.1 75.2,523.1 74.5,521.2 73.8,514.0 72.4,506.5 70.6,503.5 69.1,500.9 72.9,497.9 75.2,495.6 77.5,493.3 79.0,495.6 82.0,497.9 84.3,497.1 86.6,494.8 88.9,492.5 90.4,491.0 88.9,489.5 85.8,487.2 82.8,484.9 79.0,481.9 76.7,479.6 73.3,478.1 69.9,475.8 68.7,473.6 66.8,470.5 64.6,467.9 68.4,465.6 71.4,462.9 72.9,460.6 72.5,456.9 73.3,453.5 76.0,452.3 78.2,448.5 80.0,444.5 80.0,440.5 79.5,434.5 78.0,430.5 76.5,427.0" fill="none" stroke="#555" stroke-width="0.6" stroke-linejoin="round"/>
<path d="M315.5 422.3 L320.5 431.2 L328.0 438.9 L332.0 444.0 L334.5 451.5 L337.0 461.8 L338.4 472.0 L337.0 482.1" fill="none" stroke="#545454" stroke-width="1.00" stroke-linejoin="round" stroke-linecap="round"/>
<path d="M357.5 422.3 L355.0 431.2 L351.0 440.1 L349.8 446.5 L357.5 449.0 L358.7 459.2 L360.0 469.4 L358.7 474.5" fill="none" stroke="#545454" stroke-width="1.00" stroke-linejoin="round" stroke-linecap="round"/>
<path d="M332.0 444.0 L341.0 445.5 L349.8 446.5" fill="none" stroke="#545454" stroke-width="1.00" stroke-linejoin="round" stroke-linecap="round"/>
<path d="M357.5 449.0 L366.4 446.5 L376.5 445.2 L388.0 446.5" fill="none" stroke="#545454" stroke-width="1.00" stroke-linejoin="round" stroke-linecap="round"/>
<path d="M332.0 444.0 L323.0 442.5 L313.0 445.2 L302.7 449.0 L290.0 452.5 L278.0 454.5" fill="none" stroke="#545454" stroke-width="1.00" stroke-linejoin="round" stroke-linecap="round"/>
<path d="M290.0 452.5 L286.0 460.5 L282.0 468.5" fill="none" stroke="#545454" stroke-width="1.00" stroke-linejoin="round" stroke-linecap="round"/>
<g fill="#5a5a5a" stroke="#5a5a5a" stroke-linecap="round">
<circle cx="328.1" cy="493.2" r="0.67" stroke="none"/>
<circle cx="338.5" cy="497.0" r="0.37" stroke="none"/>
<circle cx="261.5" cy="458.1" r="0.34" stroke="none"/>
<line x1="365.6" y1="500.8" x2="365.6" y2="501.7" stroke-width="0.47"/>
<circle cx="279.4" cy="449.6" r="0.31" stroke="none"/>
<circle cx="325.9" cy="531.9" r="0.51" stroke="none"/>
<line x1="337.0" y1="507.3" x2="334.8" y2="507.3" stroke-width="0.63"/>
<line x1="302.6" y1="448.0" x2="301.6" y2="448.9" stroke-width="0.54"/>
<circle cx="401.5" cy="469.5" r="0.68" stroke="none"/>
<line x1="388.8" y1="453.5" x2="387.0" y2="453.7" stroke-width="0.44"/>
<line x1="265.9" y1="450.3" x2="265.1" y2="450.9" stroke-width="0.44"/>
<circle cx="348.0" cy="477.8" r="0.38" stroke="none"/>
<circle cx="283.6" cy="453.5" r="0.69" stroke="none"/>
<circle cx="283.2" cy="470.5" r="0.64" stroke="none"/>
<line x1="283.7" y1="451.9" x2="284.2" y2="452.6" stroke-width="0.79"/>
<circle cx="289.2" cy="498.9" r="0.45" stroke="none"/>
<circle cx="278.0" cy="437.6" r="0.66" stroke="none"/>
<circle cx="290.4" cy="442.5" r="0.60" stroke="none"/>
<circle cx="322.4" cy="430.7" r="0.32" stroke="none"/>
<circle cx="354.9" cy="456.7" r="0.37" stroke="none"/>
<circle cx="256.8" cy="447.8" r="0.52" stroke="none"/>
<line x1="358.3" y1="454.9" x2="359.4" y2="455.0" stroke-width="0.87"/>
<line x1="326.9" y1="424.8" x2="326.7" y2="425.7" stroke-width="0.48"/>
<line x1="372.6" y1="496.6" x2="374.6" y2="496.7" stroke-width="0.46"/>
<circle cx="333.7" cy="516.6" r="0.43" stroke="none"/>
<circle cx="309.4" cy="510.4" r="0.66" stroke="none"/>
<circle cx="321.6" cy="524.8" r="0.65" stroke="none"/>
<circle cx="360.2" cy="468.9" r="0.53" stroke="none"/>
<circle cx="379.4" cy="469.7" r="0.59" stroke="none"/>
<circle cx="325.9" cy="531.4" r="0.33" stroke="none"/>
<circle cx="333.5" cy="448.0" r="0.58" stroke="none"/>
<line x1="300.0" y1="509.4" x2="298.3" y2="509.9" stroke-width="0.50"/>
<circle cx="304.8" cy="507.7" r="0.38" stroke="none"/>
<circle cx="352.5" cy="459.9" r="0.35" stroke="none"/>
<line x1="295.5" y1="439.7" x2="296.6" y2="440.5" stroke-width="0.62"/>
<circle cx="360.4" cy="484.2" r="0.43" stroke="none"/>
<circle cx="375.8" cy="494.7" r="0.42" stroke="none"/>
<line x1="398.3" y1="449.0" x2="397.8" y2="450.3" stroke-width="0.46"/>
<circle cx="361.2" cy="506.2" r="0.62" stroke="none"/>
<line x1="371.3" y1="443.8" x2="372.8" y2="443.9" stroke-width="0.64"/>
<line x1="376.8" y1="441.0" x2="375.9" y2="442.3" stroke-width="0.53"/>
<circle cx="314.1" cy="494.4" r="0.65" stroke="none"/>
<circle cx="365.1" cy="444.6" r="0.59" stroke="none"/>
<circle cx="343.9" cy="524.8" r="0.43" stroke="none"/>
<circle cx="403.2" cy="464.2" r="0.33" stroke="none"/>
<line x1="346.4" y1="521.7" x2="345.6" y2="522.3" stroke-width="0.64"/>
<circle cx="392.8" cy="440.2" r="0.43" stroke="none"/>
<circle cx="270.1" cy="436.9" r="0.51" stroke="none"/>
<circle cx="362.8" cy="488.1" r="0.64" stroke="none"/>
<circle cx="302.0" cy="468.7" r="0.64" stroke="none"/>
<circle cx="350.6" cy="444.0" r="0.51" stroke="none"/>
<circle cx="318.5" cy="526.2" r="0.53" stroke="none"/>
<circle cx="372.5" cy="425.5" r="0.52" stroke="none"/>
<circle cx="294.1" cy="481.3" r="0.35" stroke="none"/>
<circle cx="332.6" cy="460.0" r="0.38" stroke="none"/>
<line x1="280.1" y1="447.6" x2="280.8" y2="449.1" stroke-width="0.75"/>
<circle cx="290.6" cy="443.6" r="0.51" stroke="none"/>
<line x1="313.9" y1="473.1" x2="315.2" y2="474.1" stroke-width="0.67"/>
<circle cx="362.8" cy="489.1" r="0.64" stroke="none"/>
<circle cx="403.4" cy="448.4" r="0.60" stroke="none"/>
<circle cx="409.1" cy="434.8" r="0.40" stroke="none"/>
<circle cx="292.3" cy="429.8" r="0.63" stroke="none"/>
<circle cx="390.9" cy="433.8" r="0.46" stroke="none"/>
<circle cx="338.1" cy="520.4" r="0.50" stroke="none"/>
<line x1="279.2" y1="426.2" x2="278.9" y2="427.7" stroke-width="0.45"/>
<line x1="349.8" y1="436.6" x2="347.9" y2="437.6" stroke-width="0.49"/>
<circle cx="329.9" cy="521.3" r="0.43" stroke="none"/>
<line x1="339.8" y1="475.4" x2="338.7" y2="477.0" stroke-width="0.70"/>
<line x1="381.5" y1="472.0" x2="381.5" y2="472.8" stroke-width="0.49"/>
<circle cx="361.1" cy="471.9" r="0.54" stroke="none"/>
<circle cx="395.5" cy="472.1" r="0.66" stroke="none"/>
<line x1="386.3" y1="472.1" x2="387.0" y2="473.4" stroke-width="0.77"/>
<circle cx="246.0" cy="465.2" r="0.56" stroke="none"/>
<circle cx="367.9" cy="462.8" r="0.56" stroke="none"/>
<circle cx="343.2" cy="469.9" r="0.70" stroke="none"/>
<line x1="291.7" y1="471.5" x2="292.1" y2="472.4" stroke-width="0.42"/>
<circle cx="346.3" cy="486.1" r="0.69" stroke="none"/>
<circle cx="394.6" cy="426.9" r="0.54" stroke="none"/>
<circle cx="357.7" cy="424.5" r="0.68" stroke="none"/>
<line x1="342.0" y1="498.4" x2="341.2" y2="499.8" stroke-width="0.58"/>
<circle cx="383.2" cy="423.4" r="0.70" stroke="none"/>
<line x1="323.9" y1="481.9" x2="323.7" y2="484.0" stroke-width="0.90"/>
<circle cx="378.4" cy="480.7" r="0.69" stroke="none"/>
<circle cx="356.3" cy="432.3" r="0.55" stroke="none"/>
<line x1="281.9" y1="423.6" x2="282.2" y2="425.3" stroke-width="0.66"/>
<circle cx="328.7" cy="452.4" r="0.53" stroke="none"/>
<circle cx="388.7" cy="489.2" r="0.70" stroke="none"/>
<circle cx="380.6" cy="449.2" r="0.35" stroke="none"/>
<line x1="389.9" y1="502.1" x2="389.0" y2="503.5" stroke-width="0.58"/>
<line x1="354.1" y1="503.2" x2="355.6" y2="504.8" stroke-width="0.78"/>
<line x1="294.4" y1="474.8" x2="294.3" y2="475.6" stroke-width="0.71"/>
<circle cx="346.4" cy="503.0" r="0.45" stroke="none"/>
<circle cx="283.2" cy="463.6" r="0.60" stroke="none"/>
<line x1="387.0" y1="445.7" x2="385.9" y2="446.4" stroke-width="0.61"/>
<circle cx="304.5" cy="491.7" r="0.60" stroke="none"/>
<circle cx="323.5" cy="467.1" r="0.34" stroke="none"/>
<line x1="348.9" y1="482.9" x2="348.3" y2="483.5" stroke-width="0.75"/>
<circle cx="259.2" cy="458.1" r="0.59" stroke="none"/>
<circle cx="296.6" cy="436.1" r="0.44" stroke="none"/>
<circle cx="312.1" cy="432.6" r="0.58" stroke="none"/>
<line x1="393.4" y1="458.3" x2="391.4" y2="458.7" stroke-width="0.56"/>
<line x1="290.2" y1="466.1" x2="290.6" y2="467.3" stroke-width="0.58"/>
<circle cx="392.3" cy="490.6" r="0.63" stroke="none"/>
<circle cx="407.8" cy="455.1" r="0.31" stroke="none"/>
<circle cx="345.2" cy="494.2" r="0.69" stroke="none"/>
<circle cx="393.6" cy="425.3" r="0.52" stroke="none"/>
<circle cx="364.7" cy="450.1" r="0.39" stroke="none"/>
<line x1="341.0" y1="521.3" x2="339.3" y2="521.4" stroke-width="0.60"/>
<circle cx="335.8" cy="490.1" r="0.59" stroke="none"/>
<circle cx="341.4" cy="513.8" r="0.62" stroke="none"/>
<circle cx="322.2" cy="436.5" r="0.60" stroke="none"/>
<circle cx="313.8" cy="439.5" r="0.38" stroke="none"/>
<circle cx="255.0" cy="458.8" r="0.35" stroke="none"/>
<circle cx="388.3" cy="441.1" r="0.32" stroke="none"/>
<circle cx="278.3" cy="446.3" r="0.39" stroke="none"/>
<line x1="354.6" y1="447.2" x2="356.2" y2="448.1" stroke-width="0.49"/>
<circle cx="302.0" cy="491.6" r="0.63" stroke="none"/>
<circle cx="333.8" cy="446.8" r="0.32" stroke="none"/>
<circle cx="393.1" cy="469.2" r="0.51" stroke="none"/>
<circle cx="366.3" cy="449.1" r="0.30" stroke="none"/>
<line x1="376.7" y1="499.5" x2="377.3" y2="500.5" stroke-width="0.47"/>
<circle cx="405.7" cy="487.2" r="0.55" stroke="none"/>
<circle cx="293.6" cy="489.7" r="0.36" stroke="none"/>
<line x1="259.3" y1="453.5" x2="259.4" y2="454.9" stroke-width="0.76"/>
<circle cx="403.5" cy="458.1" r="0.62" stroke="none"/>
<circle cx="397.7" cy="445.1" r="0.52" stroke="none"/>
<line x1="301.9" y1="459.1" x2="302.1" y2="460.9" stroke-width="0.43"/>
<line x1="310.9" y1="510.6" x2="311.2" y2="512.8" stroke-width="0.44"/>
<line x1="246.3" y1="468.2" x2="246.0" y2="469.6" stroke-width="0.76"/>
<line x1="392.7" y1="444.8" x2="393.3" y2="446.3" stroke-width="0.71"/>
<circle cx="299.5" cy="462.7" r="0.46" stroke="none"/>
<line x1="291.7" y1="443.9" x2="290.1" y2="444.2" stroke-width="0.77"/>
<line x1="378.6" y1="461.9" x2="379.5" y2="462.3" stroke-width="0.82"/>
<circle cx="370.1" cy="513.5" r="0.37" stroke="none"/>
<line x1="260.8" y1="447.5" x2="261.0" y2="448.4" stroke-width="0.47"/>
<circle cx="339.2" cy="505.2" r="0.61" stroke="none"/>
<line x1="315.8" y1="461.9" x2="316.3" y2="463.6" stroke-width="0.60"/>
<line x1="366.8" y1="499.9" x2="367.6" y2="501.4" stroke-width="0.40"/>
<circle cx="263.8" cy="468.2" r="0.50" stroke="none"/>
<circle cx="309.6" cy="485.1" r="0.36" stroke="none"/>
<line x1="360.6" y1="443.6" x2="360.2" y2="445.3" stroke-width="0.43"/>
<circle cx="311.2" cy="479.9" r="0.35" stroke="none"/>
<line x1="345.1" y1="493.3" x2="343.0" y2="493.9" stroke-width="0.68"/>
<line x1="288.8" y1="495.1" x2="288.7" y2="496.0" stroke-width="0.82"/>
<circle cx="366.5" cy="458.6" r="0.57" stroke="none"/>
<line x1="315.0" y1="497.6" x2="316.2" y2="498.4" stroke-width="0.81"/>
<line x1="270.6" y1="469.4" x2="270.5" y2="470.6" stroke-width="0.69"/>
<line x1="349.7" y1="462.0" x2="349.1" y2="462.9" stroke-width="0.72"/>
<circle cx="331.4" cy="472.9" r="0.55" stroke="none"/>
<circle cx="320.1" cy="476.0" r="0.53" stroke="none"/>
</g>
<g fill="#585858" stroke="#585858" stroke-linecap="round">
<circle cx="322.2" cy="514.9" r="0.66" stroke="none"/>
<line x1="314.5" y1="480.8" x2="313.8" y2="481.5" stroke-width="0.54"/>
<circle cx="350.8" cy="479.5" r="0.48" stroke="none"/>
<circle cx="296.5" cy="484.2" r="0.42" stroke="none"/>
<circle cx="322.0" cy="527.2" r="0.57" stroke="none"/>
<circle cx="354.2" cy="495.7" r="0.51" stroke="none"/>
<circle cx="327.9" cy="472.3" r="0.72" stroke="none"/>
<circle cx="353.2" cy="519.6" r="0.41" stroke="none"/>
<circle cx="341.6" cy="476.7" r="0.44" stroke="none"/>
<line x1="321.6" y1="498.0" x2="323.0" y2="498.6" stroke-width="0.81"/>
<line x1="319.7" y1="481.2" x2="321.4" y2="481.6" stroke-width="0.57"/>
<circle cx="395.1" cy="492.7" r="0.67" stroke="none"/>
<circle cx="299.5" cy="474.1" r="0.71" stroke="none"/>
<circle cx="362.1" cy="475.5" r="0.54" stroke="none"/>
<circle cx="334.3" cy="517.2" r="0.41" stroke="none"/>
<circle cx="317.2" cy="509.8" r="0.61" stroke="none"/>
<line x1="332.7" y1="518.1" x2="334.3" y2="518.9" stroke-width="0.65"/>
<circle cx="306.8" cy="480.4" r="0.38" stroke="none"/>
<circle cx="353.4" cy="504.2" r="0.37" stroke="none"/>
<circle cx="331.0" cy="470.4" r="0.35" stroke="none"/>
<circle cx="307.8" cy="486.1" r="0.47" stroke="none"/>
<circle cx="303.1" cy="498.7" r="0.52" stroke="none"/>
<circle cx="295.6" cy="488.6" r="0.57" stroke="none"/>
<line x1="349.3" y1="499.1" x2="350.7" y2="499.2" stroke-width="0.85"/>
<line x1="322.1" y1="514.8" x2="321.8" y2="516.1" stroke-width="0.95"/>
<line x1="320.6" y1="485.1" x2="322.0" y2="485.2" stroke-width="0.57"/>
<line x1="358.0" y1="463.8" x2="358.1" y2="465.4" stroke-width="0.91"/>
<line x1="330.0" y1="485.2" x2="329.1" y2="485.6" stroke-width="0.71"/>
<line x1="381.5" y1="479.9" x2="382.4" y2="480.0" stroke-width="0.63"/>
<circle cx="332.9" cy="496.6" r="0.74" stroke="none"/>
<circle cx="299.6" cy="503.6" r="0.41" stroke="none"/>
<line x1="328.9" y1="530.5" x2="330.0" y2="530.5" stroke-width="0.77"/>
<line x1="386.1" y1="474.7" x2="387.0" y2="476.4" stroke-width="0.74"/>
<circle cx="317.4" cy="517.4" r="0.65" stroke="none"/>
<circle cx="341.3" cy="506.5" r="0.63" stroke="none"/>
<circle cx="389.2" cy="472.2" r="0.41" stroke="none"/>
<line x1="326.3" y1="470.0" x2="325.7" y2="470.7" stroke-width="0.49"/>
<circle cx="339.6" cy="510.2" r="0.72" stroke="none"/>
<line x1="325.5" y1="520.7" x2="324.0" y2="520.7" stroke-width="0.52"/>
<line x1="323.1" y1="522.4" x2="324.3" y2="522.5" stroke-width="0.72"/>
<circle cx="329.9" cy="533.8" r="0.46" stroke="none"/>
<circle cx="384.6" cy="494.7" r="0.80" stroke="none"/>
<circle cx="345.8" cy="483.1" r="0.56" stroke="none"/>
<circle cx="351.4" cy="478.0" r="0.52" stroke="none"/>
<circle cx="315.0" cy="506.5" r="0.37" stroke="none"/>
<line x1="313.8" y1="471.2" x2="312.4" y2="471.7" stroke-width="0.80"/>
<circle cx="317.5" cy="519.4" r="0.64" stroke="none"/>
<line x1="395.7" y1="465.2" x2="394.8" y2="465.6" stroke-width="0.96"/>
<line x1="300.6" y1="501.1" x2="300.7" y2="502.7" stroke-width="1.00"/>
<circle cx="320.6" cy="503.3" r="0.35" stroke="none"/>
<line x1="374.8" y1="489.0" x2="374.0" y2="490.1" stroke-width="0.58"/>
<line x1="370.7" y1="513.5" x2="372.3" y2="514.3" stroke-width="0.80"/>
<circle cx="357.6" cy="467.7" r="0.64" stroke="none"/>
<line x1="348.7" y1="521.6" x2="347.5" y2="522.5" stroke-width="0.97"/>
<circle cx="355.0" cy="494.5" r="0.77" stroke="none"/>
<circle cx="395.0" cy="488.9" r="0.65" stroke="none"/>
<circle cx="366.8" cy="491.6" r="0.38" stroke="none"/>
<circle cx="338.5" cy="524.6" r="0.70" stroke="none"/>
<circle cx="342.0" cy="494.3" r="0.60" stroke="none"/>
<line x1="303.4" y1="479.7" x2="304.7" y2="481.4" stroke-width="0.54"/>
<line x1="325.9" y1="478.8" x2="326.9" y2="479.1" stroke-width="1.02"/>
<line x1="302.0" y1="492.5" x2="303.8" y2="492.6" stroke-width="0.58"/>
<circle cx="300.2" cy="480.9" r="0.60" stroke="none"/>
<circle cx="384.6" cy="475.1" r="0.37" stroke="none"/>
<line x1="349.5" y1="502.6" x2="348.6" y2="503.7" stroke-width="0.91"/>
<circle cx="339.3" cy="481.9" r="0.48" stroke="none"/>
<circle cx="324.4" cy="517.2" r="0.39" stroke="none"/>
<line x1="396.3" y1="482.6" x2="396.9" y2="483.4" stroke-width="0.93"/>
<circle cx="341.4" cy="471.3" r="0.67" stroke="none"/>
<line x1="339.1" y1="516.7" x2="339.4" y2="517.5" stroke-width="0.59"/>
<circle cx="388.1" cy="470.1" r="0.40" stroke="none"/>
<line x1="380.9" y1="497.1" x2="382.5" y2="497.1" stroke-width="0.70"/>
<line x1="320.6" y1="474.8" x2="321.4" y2="476.5" stroke-width="0.98"/>
<circle cx="373.4" cy="471.5" r="0.68" stroke="none"/>
<circle cx="375.8" cy="500.4" r="0.60" stroke="none"/>
<circle cx="360.0" cy="491.7" r="0.36" stroke="none"/>
<circle cx="330.7" cy="495.7" r="0.48" stroke="none"/>
<circle cx="337.1" cy="526.1" r="0.62" stroke="none"/>
<circle cx="377.2" cy="496.5" r="0.59" stroke="none"/>
<circle cx="353.3" cy="477.6" r="0.46" stroke="none"/>
<circle cx="299.5" cy="489.7" r="0.68" stroke="none"/>
<circle cx="384.1" cy="475.5" r="0.70" stroke="none"/>
<circle cx="354.6" cy="467.8" r="0.53" stroke="none"/>
<line x1="372.2" y1="505.8" x2="371.4" y2="507.0" stroke-width="0.70"/>
<circle cx="371.0" cy="509.4" r="0.53" stroke="none"/>
<circle cx="356.6" cy="497.1" r="0.77" stroke="none"/>
<circle cx="348.4" cy="468.0" r="0.71" stroke="none"/>
<circle cx="320.2" cy="472.0" r="0.54" stroke="none"/>
<circle cx="386.4" cy="498.4" r="0.37" stroke="none"/>
<circle cx="316.2" cy="518.3" r="0.57" stroke="none"/>
<line x1="370.6" y1="464.8" x2="369.4" y2="466.5" stroke-width="0.79"/>
<line x1="364.9" y1="500.6" x2="365.0" y2="501.5" stroke-width="0.81"/>
<line x1="370.7" y1="468.4" x2="370.5" y2="469.3" stroke-width="0.76"/>
<line x1="310.0" y1="510.7" x2="311.0" y2="511.1" stroke-width="0.83"/>
<circle cx="350.0" cy="522.5" r="0.67" stroke="none"/>
<line x1="348.8" y1="476.2" x2="349.6" y2="477.4" stroke-width="0.82"/>
<line x1="373.9" y1="471.5" x2="372.9" y2="473.2" stroke-width="0.71"/>
<line x1="322.7" y1="517.5" x2="323.7" y2="518.7" stroke-width="0.73"/>
<circle cx="355.9" cy="495.2" r="0.46" stroke="none"/>
<circle cx="367.7" cy="483.8" r="0.41" stroke="none"/>
<line x1="341.4" y1="468.8" x2="342.1" y2="470.3" stroke-width="0.98"/>
<circle cx="313.5" cy="506.2" r="0.75" stroke="none"/>
<circle cx="370.0" cy="498.5" r="0.67" stroke="none"/>
<circle cx="330.7" cy="518.8" r="0.51" stroke="none"/>
<line x1="394.8" y1="475.2" x2="394.3" y2="476.9" stroke-width="0.79"/>
<line x1="324.9" y1="524.4" x2="326.3" y2="525.3" stroke-width="0.70"/>
<circle cx="335.3" cy="467.0" r="0.49" stroke="none"/>
<line x1="344.6" y1="514.7" x2="344.2" y2="515.8" stroke-width="0.70"/>
<line x1="307.8" y1="509.8" x2="307.0" y2="509.9" stroke-width="0.85"/>
<circle cx="312.4" cy="488.2" r="0.71" stroke="none"/>
<line x1="373.0" y1="495.7" x2="372.2" y2="495.8" stroke-width="0.99"/>
<line x1="321.1" y1="528.5" x2="323.2" y2="529.2" stroke-width="0.76"/>
<circle cx="300.9" cy="480.0" r="0.51" stroke="none"/>
<line x1="361.2" y1="464.4" x2="359.1" y2="464.7" stroke-width="0.89"/>
<circle cx="320.4" cy="471.3" r="0.74" stroke="none"/>
<circle cx="325.9" cy="505.5" r="0.38" stroke="none"/>
<line x1="306.1" y1="479.0" x2="307.7" y2="479.5" stroke-width="0.65"/>
<line x1="336.9" y1="477.7" x2="335.7" y2="479.5" stroke-width="0.76"/>
<line x1="344.0" y1="495.1" x2="344.3" y2="496.1" stroke-width="0.69"/>
<line x1="326.1" y1="515.3" x2="327.9" y2="516.2" stroke-width="0.74"/>
</g>
<g fill="#e8e8e8" stroke="#e8e8e8" stroke-linecap="round">
<circle cx="360.8" cy="501.1" r="0.77" stroke="none"/>
<circle cx="330.7" cy="489.2" r="0.61" stroke="none"/>
<circle cx="374.9" cy="498.8" r="0.72" stroke="none"/>
<circle cx="339.4" cy="492.0" r="0.56" stroke="none"/>
<circle cx="333.8" cy="507.9" r="0.53" stroke="none"/>
<circle cx="351.9" cy="490.5" r="0.84" stroke="none"/>
<circle cx="334.0" cy="511.9" r="0.70" stroke="none"/>
<circle cx="337.3" cy="491.3" r="0.55" stroke="none"/>
<circle cx="370.4" cy="480.4" r="0.78" stroke="none"/>
<circle cx="341.1" cy="507.8" r="0.66" stroke="none"/>
<circle cx="368.7" cy="493.5" r="0.65" stroke="none"/>
<circle cx="353.2" cy="488.8" r="0.78" stroke="none"/>
<circle cx="337.4" cy="483.4" r="0.65" stroke="none"/>
<circle cx="382.7" cy="494.5" r="0.51" stroke="none"/>
</g>
<polygon points="258,453.8 266,452.1 275.5,451.1 275.8,452.1 266,453.9 258.5,455.5" fill="#fff"/>
<ellipse cx="263.0" cy="490.7" rx="4.0" ry="2.6" fill="#fff" stroke="#666" stroke-width=".4" transform="rotate(20 263.0 490.7)"/>
<ellipse cx="276.7" cy="488.0" rx="2.8" ry="2.4" fill="#fff" stroke="#666" stroke-width=".4" transform="rotate(20 276.7 488.0)"/>
<ellipse cx="261.2" cy="503.0" rx="3.2" ry="2.4" fill="#fff" stroke="#666" stroke-width=".4" transform="rotate(20 261.2 503.0)"/>
<ellipse cx="267.2" cy="511.7" rx="2.7" ry="2.1" fill="#777" stroke="#666" stroke-width=".4" transform="rotate(20 267.2 511.7)"/>
<g fill="#6b6b6b" stroke="#6b6b6b" stroke-linecap="round">
<circle cx="107.3" cy="590.9" r="0.59" stroke="none"/>
<circle cx="113.9" cy="601.7" r="0.66" stroke="none"/>
<line x1="151.2" y1="543.3" x2="150.9" y2="544.2" stroke-width="0.39"/>
<line x1="188.4" y1="542.9" x2="186.6" y2="542.9" stroke-width="0.53"/>
<line x1="198.9" y1="583.2" x2="198.9" y2="584.1" stroke-width="0.41"/>
<circle cx="208.8" cy="557.2" r="0.37" stroke="none"/>
<circle cx="102.1" cy="615.9" r="0.50" stroke="none"/>
<line x1="130.2" y1="569.4" x2="129.2" y2="569.9" stroke-width="0.50"/>
<circle cx="186.7" cy="540.4" r="0.74" stroke="none"/>
<circle cx="183.4" cy="598.6" r="0.56" stroke="none"/>
<line x1="101.8" y1="568.5" x2="99.8" y2="569.0" stroke-width="0.87"/>
<line x1="138.8" y1="556.8" x2="137.5" y2="556.9" stroke-width="0.65"/>
<circle cx="89.5" cy="528.3" r="0.62" stroke="none"/>
<circle cx="150.0" cy="570.1" r="0.55" stroke="none"/>
<circle cx="114.6" cy="582.4" r="0.55" stroke="none"/>
<circle cx="109.3" cy="536.4" r="0.46" stroke="none"/>
<line x1="130.7" y1="581.2" x2="132.6" y2="581.6" stroke-width="0.57"/>
<circle cx="186.2" cy="557.9" r="0.61" stroke="none"/>
<circle cx="201.9" cy="619.1" r="0.48" stroke="none"/>
<circle cx="210.0" cy="580.5" r="0.70" stroke="none"/>
<line x1="134.4" y1="544.5" x2="136.3" y2="544.9" stroke-width="0.90"/>
<line x1="185.8" y1="569.2" x2="186.7" y2="570.1" stroke-width="0.88"/>
<line x1="140.1" y1="536.4" x2="138.1" y2="537.1" stroke-width="0.43"/>
<circle cx="182.2" cy="568.8" r="0.41" stroke="none"/>
<line x1="153.8" y1="595.0" x2="152.1" y2="595.9" stroke-width="0.41"/>
<circle cx="199.7" cy="581.6" r="0.49" stroke="none"/>
<line x1="195.6" y1="550.8" x2="195.0" y2="551.4" stroke-width="0.70"/>
<circle cx="174.4" cy="618.7" r="0.31" stroke="none"/>
<line x1="169.1" y1="607.9" x2="169.7" y2="610.0" stroke-width="0.73"/>
<line x1="202.8" y1="532.5" x2="204.2" y2="532.6" stroke-width="0.45"/>
<line x1="104.2" y1="609.6" x2="104.0" y2="610.8" stroke-width="0.77"/>
<line x1="149.7" y1="541.6" x2="150.4" y2="543.2" stroke-width="0.49"/>
<circle cx="157.0" cy="523.3" r="0.62" stroke="none"/>
<circle cx="185.9" cy="601.5" r="0.30" stroke="none"/>
<circle cx="94.2" cy="598.7" r="0.38" stroke="none"/>
<line x1="118.6" y1="591.7" x2="119.0" y2="592.8" stroke-width="0.57"/>
<circle cx="202.2" cy="549.5" r="0.53" stroke="none"/>
<circle cx="208.3" cy="528.8" r="0.57" stroke="none"/>
<circle cx="180.8" cy="620.0" r="0.44" stroke="none"/>
<circle cx="153.8" cy="577.4" r="0.33" stroke="none"/>
<circle cx="212.0" cy="555.8" r="0.44" stroke="none"/>
<circle cx="99.9" cy="526.5" r="0.33" stroke="none"/>
<line x1="184.0" y1="565.5" x2="183.4" y2="566.8" stroke-width="0.75"/>
<line x1="152.7" y1="559.4" x2="154.1" y2="559.6" stroke-width="0.62"/>
<circle cx="117.9" cy="592.4" r="0.67" stroke="none"/>
<circle cx="144.8" cy="543.3" r="0.47" stroke="none"/>
<circle cx="167.5" cy="619.6" r="0.34" stroke="none"/>
<circle cx="149.5" cy="593.8" r="0.70" stroke="none"/>
<circle cx="166.9" cy="598.1" r="0.60" stroke="none"/>
<circle cx="176.2" cy="590.2" r="0.41" stroke="none"/>
<circle cx="135.8" cy="583.0" r="0.67" stroke="none"/>
<line x1="213.6" y1="519.2" x2="213.9" y2="520.1" stroke-width="0.57"/>
<circle cx="157.4" cy="526.8" r="0.44" stroke="none"/>
<circle cx="181.8" cy="567.0" r="0.35" stroke="none"/>
<circle cx="176.8" cy="540.1" r="0.45" stroke="none"/>
<line x1="173.9" y1="545.9" x2="175.3" y2="547.3" stroke-width="0.95"/>
<circle cx="105.8" cy="590.0" r="0.39" stroke="none"/>
<circle cx="121.8" cy="558.3" r="0.72" stroke="none"/>
<line x1="142.4" y1="583.3" x2="142.8" y2="584.4" stroke-width="0.55"/>
<circle cx="110.3" cy="619.4" r="0.32" stroke="none"/>
<circle cx="206.6" cy="592.5" r="0.31" stroke="none"/>
<circle cx="176.4" cy="543.7" r="0.30" stroke="none"/>
<circle cx="98.2" cy="550.9" r="0.50" stroke="none"/>
<circle cx="133.7" cy="532.7" r="0.66" stroke="none"/>
<line x1="154.3" y1="523.7" x2="154.1" y2="524.8" stroke-width="0.50"/>
<circle cx="189.5" cy="607.1" r="0.72" stroke="none"/>
<circle cx="96.4" cy="613.0" r="0.64" stroke="none"/>
<circle cx="110.3" cy="524.8" r="0.67" stroke="none"/>
<line x1="166.0" y1="568.0" x2="166.9" y2="568.9" stroke-width="0.86"/>
<line x1="124.4" y1="584.3" x2="125.9" y2="584.7" stroke-width="0.91"/>
<line x1="173.5" y1="538.4" x2="174.9" y2="538.6" stroke-width="0.55"/>
<line x1="173.8" y1="587.1" x2="172.3" y2="587.4" stroke-width="0.48"/>
<circle cx="138.7" cy="591.0" r="0.63" stroke="none"/>
<line x1="96.1" y1="605.4" x2="96.8" y2="606.7" stroke-width="0.52"/>
<circle cx="167.0" cy="536.8" r="0.62" stroke="none"/>
<circle cx="106.9" cy="607.9" r="0.66" stroke="none"/>
<circle cx="173.7" cy="541.3" r="0.65" stroke="none"/>
<line x1="154.8" y1="613.9" x2="152.7" y2="614.3" stroke-width="0.96"/>
<circle cx="188.4" cy="519.7" r="0.46" stroke="none"/>
<line x1="164.3" y1="597.8" x2="162.8" y2="598.2" stroke-width="0.77"/>
<circle cx="199.7" cy="540.2" r="0.75" stroke="none"/>
<line x1="186.0" y1="596.2" x2="187.4" y2="596.5" stroke-width="0.91"/>
<line x1="109.0" y1="575.2" x2="109.8" y2="575.5" stroke-width="0.87"/>
<circle cx="140.6" cy="579.4" r="0.31" stroke="none"/>
<circle cx="113.2" cy="529.7" r="0.72" stroke="none"/>
<line x1="201.5" y1="572.5" x2="201.9" y2="574.1" stroke-width="0.46"/>
<line x1="185.4" y1="597.4" x2="185.7" y2="598.7" stroke-width="0.77"/>
<circle cx="149.2" cy="546.4" r="0.54" stroke="none"/>
<circle cx="90.6" cy="604.9" r="0.56" stroke="none"/>
<line x1="181.0" y1="595.2" x2="181.3" y2="596.0" stroke-width="0.97"/>
<circle cx="171.7" cy="579.6" r="0.56" stroke="none"/>
<circle cx="111.4" cy="542.4" r="0.63" stroke="none"/>
<circle cx="148.3" cy="524.3" r="0.47" stroke="none"/>
<circle cx="150.5" cy="567.0" r="0.48" stroke="none"/>
<circle cx="163.2" cy="591.3" r="0.69" stroke="none"/>
<circle cx="134.4" cy="544.8" r="0.65" stroke="none"/>
<circle cx="205.7" cy="539.4" r="0.68" stroke="none"/>
<line x1="96.0" y1="550.8" x2="95.0" y2="551.4" stroke-width="0.76"/>
<line x1="174.0" y1="549.6" x2="174.0" y2="551.4" stroke-width="0.52"/>
<circle cx="114.1" cy="590.6" r="0.45" stroke="none"/>
<line x1="133.5" y1="538.8" x2="132.7" y2="539.9" stroke-width="0.47"/>
<line x1="101.9" y1="611.0" x2="100.8" y2="612.2" stroke-width="0.77"/>
<line x1="143.2" y1="571.1" x2="142.5" y2="572.6" stroke-width="0.95"/>
<circle cx="133.2" cy="554.9" r="0.64" stroke="none"/>
<circle cx="144.9" cy="572.4" r="0.40" stroke="none"/>
<circle cx="144.7" cy="541.7" r="0.56" stroke="none"/>
<circle cx="97.2" cy="570.0" r="0.37" stroke="none"/>
<line x1="128.2" y1="553.0" x2="129.0" y2="553.5" stroke-width="0.52"/>
<line x1="166.5" y1="607.5" x2="166.4" y2="608.4" stroke-width="0.52"/>
<circle cx="138.3" cy="598.4" r="0.39" stroke="none"/>
<circle cx="155.5" cy="527.4" r="0.41" stroke="none"/>
<circle cx="98.4" cy="539.9" r="0.56" stroke="none"/>
<line x1="153.1" y1="588.2" x2="154.3" y2="589.9" stroke-width="0.40"/>
<circle cx="132.1" cy="600.9" r="0.32" stroke="none"/>
<line x1="201.0" y1="599.5" x2="200.1" y2="599.7" stroke-width="0.73"/>
<circle cx="210.4" cy="600.0" r="0.62" stroke="none"/>
<circle cx="107.2" cy="554.3" r="0.60" stroke="none"/>
<line x1="136.2" y1="602.6" x2="137.4" y2="603.0" stroke-width="0.42"/>
<line x1="188.3" y1="597.6" x2="189.9" y2="598.2" stroke-width="0.48"/>
<circle cx="143.1" cy="542.8" r="0.47" stroke="none"/>
<circle cx="140.8" cy="591.0" r="0.58" stroke="none"/>
<circle cx="157.8" cy="556.7" r="0.39" stroke="none"/>
<circle cx="125.3" cy="553.2" r="0.38" stroke="none"/>
<line x1="140.9" y1="539.5" x2="139.7" y2="540.0" stroke-width="0.41"/>
<circle cx="172.1" cy="542.7" r="0.59" stroke="none"/>
<line x1="181.0" y1="574.0" x2="180.4" y2="575.9" stroke-width="0.61"/>
<circle cx="175.2" cy="568.9" r="0.45" stroke="none"/>
<circle cx="195.2" cy="533.8" r="0.61" stroke="none"/>
<line x1="173.2" y1="619.8" x2="171.9" y2="619.8" stroke-width="0.90"/>
<line x1="107.6" y1="560.0" x2="108.9" y2="561.4" stroke-width="0.76"/>
<circle cx="165.0" cy="596.6" r="0.66" stroke="none"/>
<circle cx="201.3" cy="605.0" r="0.74" stroke="none"/>
<circle cx="176.5" cy="572.5" r="0.74" stroke="none"/>
<line x1="141.5" y1="588.2" x2="141.9" y2="589.2" stroke-width="0.56"/>
<circle cx="86.5" cy="528.2" r="0.50" stroke="none"/>
<line x1="100.4" y1="572.1" x2="99.5" y2="573.2" stroke-width="0.56"/>
<line x1="136.5" y1="595.0" x2="135.4" y2="596.6" stroke-width="0.46"/>
<line x1="212.3" y1="545.5" x2="211.2" y2="547.1" stroke-width="0.76"/>
<line x1="103.4" y1="554.7" x2="102.6" y2="556.5" stroke-width="0.94"/>
<line x1="122.0" y1="600.8" x2="123.1" y2="601.4" stroke-width="0.39"/>
<circle cx="189.6" cy="536.7" r="0.56" stroke="none"/>
<line x1="195.6" y1="607.4" x2="194.9" y2="608.1" stroke-width="0.75"/>
<line x1="205.8" y1="550.9" x2="206.4" y2="552.7" stroke-width="0.54"/>
<line x1="196.3" y1="596.8" x2="196.9" y2="597.9" stroke-width="0.82"/>
<line x1="141.9" y1="610.3" x2="139.8" y2="610.6" stroke-width="0.97"/>
<line x1="145.5" y1="591.2" x2="144.7" y2="593.3" stroke-width="0.85"/>
<circle cx="199.6" cy="614.2" r="0.34" stroke="none"/>
<circle cx="148.8" cy="614.0" r="0.38" stroke="none"/>
<line x1="101.6" y1="603.0" x2="102.1" y2="603.8" stroke-width="0.81"/>
<circle cx="168.0" cy="584.6" r="0.33" stroke="none"/>
<line x1="210.5" y1="564.8" x2="210.1" y2="566.1" stroke-width="0.73"/>
<line x1="142.9" y1="597.2" x2="142.0" y2="598.0" stroke-width="0.50"/>
<line x1="94.9" y1="614.2" x2="95.5" y2="615.2" stroke-width="0.48"/>
<circle cx="131.5" cy="574.9" r="0.35" stroke="none"/>
<line x1="92.6" y1="526.8" x2="93.2" y2="527.8" stroke-width="0.51"/>
<circle cx="194.0" cy="587.6" r="0.51" stroke="none"/>
<circle cx="174.5" cy="551.6" r="0.58" stroke="none"/>
<circle cx="154.9" cy="597.5" r="0.58" stroke="none"/>
<circle cx="120.1" cy="589.0" r="0.74" stroke="none"/>
<line x1="202.8" y1="528.4" x2="201.8" y2="529.4" stroke-width="0.81"/>
<circle cx="155.0" cy="544.6" r="0.42" stroke="none"/>
<line x1="169.0" y1="584.5" x2="167.9" y2="584.6" stroke-width="0.46"/>
<circle cx="155.4" cy="591.6" r="0.53" stroke="none"/>
<line x1="211.2" y1="600.5" x2="211.6" y2="602.2" stroke-width="0.53"/>
<line x1="173.1" y1="545.9" x2="174.3" y2="546.0" stroke-width="0.80"/>
<circle cx="134.6" cy="539.2" r="0.60" stroke="none"/>
<circle cx="206.2" cy="584.6" r="0.69" stroke="none"/>
<line x1="161.7" y1="612.3" x2="162.2" y2="613.5" stroke-width="0.42"/>
<circle cx="141.2" cy="524.5" r="0.61" stroke="none"/>
<circle cx="116.2" cy="538.0" r="0.45" stroke="none"/>
</g>
<g fill="#6b6b6b" stroke="#6b6b6b" stroke-linecap="round">
<circle cx="194.7" cy="436.8" r="0.31" stroke="none"/>
<line x1="95.6" y1="435.0" x2="94.5" y2="435.3" stroke-width="0.73"/>
<circle cx="194.8" cy="453.8" r="0.54" stroke="none"/>
<line x1="159.7" y1="511.3" x2="158.2" y2="511.9" stroke-width="0.76"/>
<circle cx="111.8" cy="441.6" r="0.64" stroke="none"/>
<circle cx="192.1" cy="497.0" r="0.68" stroke="none"/>
<circle cx="161.4" cy="481.7" r="0.40" stroke="none"/>
<circle cx="194.2" cy="485.3" r="0.36" stroke="none"/>
<circle cx="157.4" cy="441.1" r="0.32" stroke="none"/>
<circle cx="76.1" cy="511.4" r="0.50" stroke="none"/>
<line x1="124.4" y1="486.3" x2="125.0" y2="487.8" stroke-width="0.87"/>
<circle cx="141.5" cy="464.7" r="0.57" stroke="none"/>
<circle cx="83.3" cy="518.2" r="0.44" stroke="none"/>
<line x1="193.9" y1="472.1" x2="192.9" y2="472.5" stroke-width="0.60"/>
<line x1="142.0" y1="456.7" x2="142.7" y2="457.1" stroke-width="0.56"/>
<line x1="140.5" y1="499.1" x2="140.0" y2="499.8" stroke-width="0.73"/>
<circle cx="189.9" cy="467.3" r="0.64" stroke="none"/>
<circle cx="139.1" cy="479.0" r="0.70" stroke="none"/>
<line x1="132.5" y1="492.6" x2="131.0" y2="493.8" stroke-width="0.72"/>
<circle cx="149.9" cy="513.1" r="0.31" stroke="none"/>
<circle cx="153.2" cy="455.9" r="0.37" stroke="none"/>
<circle cx="127.6" cy="449.1" r="0.32" stroke="none"/>
<line x1="117.1" y1="434.7" x2="116.1" y2="435.1" stroke-width="0.50"/>
<circle cx="132.2" cy="443.2" r="0.44" stroke="none"/>
<line x1="190.4" y1="502.7" x2="189.7" y2="503.1" stroke-width="0.41"/>
<circle cx="98.0" cy="470.0" r="0.45" stroke="none"/>
<line x1="163.9" y1="467.6" x2="164.5" y2="468.3" stroke-width="0.52"/>
<circle cx="157.2" cy="438.5" r="0.66" stroke="none"/>
<line x1="79.3" y1="470.9" x2="79.3" y2="471.7" stroke-width="0.70"/>
<circle cx="170.1" cy="423.9" r="0.55" stroke="none"/>
<line x1="180.3" y1="445.7" x2="181.3" y2="447.4" stroke-width="0.67"/>
<circle cx="176.7" cy="424.4" r="0.45" stroke="none"/>
<circle cx="94.5" cy="499.7" r="0.66" stroke="none"/>
<line x1="137.6" y1="441.4" x2="136.3" y2="442.1" stroke-width="0.53"/>
<line x1="161.2" y1="501.1" x2="161.8" y2="503.1" stroke-width="0.90"/>
<line x1="169.5" y1="460.2" x2="170.3" y2="460.7" stroke-width="0.73"/>
<circle cx="120.6" cy="445.9" r="0.51" stroke="none"/>
<circle cx="182.7" cy="480.3" r="0.51" stroke="none"/>
<circle cx="74.8" cy="513.6" r="0.57" stroke="none"/>
<line x1="177.6" y1="432.9" x2="177.6" y2="435.0" stroke-width="0.42"/>
<circle cx="188.4" cy="462.6" r="0.55" stroke="none"/>
<circle cx="192.5" cy="492.6" r="0.66" stroke="none"/>
<line x1="155.5" y1="454.0" x2="157.5" y2="454.4" stroke-width="0.54"/>
<line x1="110.2" y1="425.8" x2="110.4" y2="427.0" stroke-width="0.55"/>
<line x1="94.5" y1="468.8" x2="93.4" y2="469.5" stroke-width="0.61"/>
<line x1="141.3" y1="506.9" x2="143.4" y2="507.2" stroke-width="0.89"/>
<line x1="137.8" y1="444.2" x2="138.4" y2="445.0" stroke-width="0.46"/>
<line x1="78.3" y1="518.0" x2="78.4" y2="519.9" stroke-width="0.82"/>
<line x1="136.6" y1="430.1" x2="135.0" y2="430.5" stroke-width="0.57"/>
<circle cx="130.7" cy="483.4" r="0.32" stroke="none"/>
<line x1="175.4" y1="487.2" x2="176.3" y2="487.2" stroke-width="0.58"/>
<line x1="91.8" y1="466.6" x2="91.9" y2="468.2" stroke-width="0.79"/>
<circle cx="152.6" cy="425.5" r="0.67" stroke="none"/>
<circle cx="110.8" cy="446.2" r="0.58" stroke="none"/>
<circle cx="143.3" cy="440.1" r="0.46" stroke="none"/>
<circle cx="143.2" cy="501.7" r="0.40" stroke="none"/>
<circle cx="172.2" cy="444.9" r="0.51" stroke="none"/>
<circle cx="145.3" cy="480.7" r="0.40" stroke="none"/>
<line x1="146.3" y1="445.1" x2="145.7" y2="445.8" stroke-width="0.61"/>
<line x1="149.4" y1="452.8" x2="148.5" y2="454.3" stroke-width="0.79"/>
</g>
<g fill="#737373" stroke="#737373" stroke-linecap="round">
<line x1="145.3" y1="588.8" x2="147.2" y2="589.2" stroke-width="1.09"/>
<line x1="121.3" y1="560.5" x2="119.9" y2="560.9" stroke-width="1.02"/>
<line x1="101.4" y1="607.4" x2="99.8" y2="608.3" stroke-width="0.91"/>
<line x1="152.3" y1="585.0" x2="150.6" y2="585.2" stroke-width="1.10"/>
<line x1="115.2" y1="581.2" x2="114.3" y2="582.4" stroke-width="0.80"/>
<line x1="103.5" y1="562.2" x2="101.7" y2="562.6" stroke-width="0.79"/>
<line x1="136.3" y1="543.1" x2="135.3" y2="543.1" stroke-width="0.97"/>
<line x1="169.6" y1="529.8" x2="169.3" y2="531.1" stroke-width="1.00"/>
<line x1="119.4" y1="566.1" x2="120.2" y2="567.9" stroke-width="1.02"/>
<line x1="109.5" y1="559.2" x2="111.1" y2="560.2" stroke-width="0.88"/>
<line x1="133.2" y1="536.4" x2="133.6" y2="537.2" stroke-width="0.80"/>
<line x1="115.3" y1="576.3" x2="115.5" y2="577.8" stroke-width="0.96"/>
<circle cx="140.5" cy="606.5" r="0.58" stroke="none"/>
<line x1="138.1" y1="605.4" x2="140.0" y2="605.8" stroke-width="0.96"/>
<line x1="118.5" y1="581.3" x2="118.9" y2="582.7" stroke-width="0.69"/>
<line x1="96.3" y1="605.5" x2="95.8" y2="606.6" stroke-width="1.03"/>
<line x1="110.6" y1="600.6" x2="109.4" y2="601.0" stroke-width="0.80"/>
<line x1="171.5" y1="544.3" x2="172.8" y2="544.9" stroke-width="1.04"/>
<circle cx="158.7" cy="537.3" r="0.71" stroke="none"/>
<line x1="98.3" y1="570.7" x2="97.1" y2="571.4" stroke-width="0.79"/>
<line x1="119.1" y1="546.0" x2="117.7" y2="547.7" stroke-width="1.02"/>
<line x1="148.6" y1="606.0" x2="148.3" y2="606.9" stroke-width="0.71"/>
<line x1="129.0" y1="554.8" x2="131.0" y2="555.4" stroke-width="0.71"/>
<line x1="108.6" y1="575.4" x2="106.6" y2="575.8" stroke-width="0.97"/>
<line x1="140.1" y1="573.3" x2="141.7" y2="574.7" stroke-width="1.04"/>
<circle cx="111.4" cy="576.5" r="0.69" stroke="none"/>
<line x1="123.8" y1="583.1" x2="124.9" y2="583.7" stroke-width="0.74"/>
<circle cx="135.6" cy="591.0" r="0.82" stroke="none"/>
<line x1="131.8" y1="534.2" x2="131.2" y2="534.8" stroke-width="0.92"/>
<circle cx="156.5" cy="539.7" r="0.79" stroke="none"/>
<line x1="137.4" y1="567.0" x2="136.4" y2="568.8" stroke-width="0.95"/>
<circle cx="167.0" cy="588.8" r="0.75" stroke="none"/>
<line x1="125.1" y1="557.4" x2="125.9" y2="559.0" stroke-width="1.10"/>
<circle cx="167.6" cy="597.1" r="0.57" stroke="none"/>
<circle cx="112.8" cy="573.9" r="0.71" stroke="none"/>
<line x1="112.9" y1="558.5" x2="114.1" y2="559.2" stroke-width="0.79"/>
<line x1="116.2" y1="551.0" x2="116.4" y2="551.9" stroke-width="1.03"/>
<circle cx="100.3" cy="601.5" r="0.77" stroke="none"/>
<circle cx="104.4" cy="595.3" r="0.60" stroke="none"/>
<line x1="139.0" y1="565.7" x2="138.8" y2="567.7" stroke-width="0.93"/>
<line x1="145.0" y1="593.4" x2="143.4" y2="594.8" stroke-width="1.09"/>
<line x1="137.0" y1="557.4" x2="135.7" y2="558.7" stroke-width="0.94"/>
<line x1="97.9" y1="574.3" x2="98.1" y2="575.2" stroke-width="0.87"/>
<line x1="97.7" y1="552.7" x2="97.0" y2="554.6" stroke-width="0.69"/>
<line x1="109.4" y1="576.7" x2="108.1" y2="576.8" stroke-width="0.87"/>
<line x1="140.6" y1="570.8" x2="138.7" y2="571.0" stroke-width="0.72"/>
<line x1="111.2" y1="557.2" x2="111.3" y2="558.2" stroke-width="0.74"/>
<line x1="128.8" y1="613.2" x2="127.4" y2="613.3" stroke-width="0.83"/>
<line x1="121.9" y1="566.0" x2="123.5" y2="566.7" stroke-width="0.72"/>
<line x1="155.3" y1="594.9" x2="153.6" y2="595.4" stroke-width="0.71"/>
<line x1="125.6" y1="592.6" x2="123.7" y2="593.2" stroke-width="0.77"/>
<line x1="133.6" y1="564.5" x2="132.7" y2="564.6" stroke-width="1.07"/>
<circle cx="145.3" cy="550.4" r="0.75" stroke="none"/>
<line x1="97.6" y1="586.2" x2="99.0" y2="586.8" stroke-width="1.02"/>
<line x1="148.8" y1="574.8" x2="149.4" y2="575.7" stroke-width="0.91"/>
</g>
<g fill="#5a5a3a" stroke="#5a5a3a" stroke-linecap="round">
<line x1="238.3" y1="482.3" x2="239.4" y2="483.1" stroke-width="0.60"/>
<line x1="223.1" y1="484.4" x2="222.2" y2="485.5" stroke-width="0.40"/>
<line x1="235.0" y1="503.7" x2="233.8" y2="504.8" stroke-width="0.53"/>
<line x1="241.0" y1="495.9" x2="240.0" y2="496.8" stroke-width="0.77"/>
<line x1="237.5" y1="498.6" x2="237.6" y2="500.4" stroke-width="0.51"/>
<line x1="238.2" y1="483.9" x2="239.3" y2="484.6" stroke-width="0.64"/>
<line x1="237.5" y1="509.7" x2="238.2" y2="510.7" stroke-width="0.52"/>
<line x1="245.9" y1="490.9" x2="244.5" y2="492.1" stroke-width="0.49"/>
<circle cx="236.4" cy="516.5" r="0.48" stroke="none"/>
<circle cx="216.3" cy="481.8" r="0.31" stroke="none"/>
<line x1="244.7" y1="476.9" x2="245.5" y2="477.4" stroke-width="0.77"/>
<circle cx="233.1" cy="466.6" r="0.58" stroke="none"/>
<circle cx="235.7" cy="464.7" r="0.46" stroke="none"/>
<line x1="224.4" y1="482.1" x2="225.3" y2="483.9" stroke-width="0.74"/>
<circle cx="242.2" cy="481.5" r="0.51" stroke="none"/>
<line x1="240.2" y1="469.5" x2="239.0" y2="470.5" stroke-width="0.51"/>
<line x1="236.5" y1="510.1" x2="237.3" y2="511.5" stroke-width="0.43"/>
<line x1="237.0" y1="490.4" x2="237.2" y2="491.9" stroke-width="0.48"/>
<circle cx="229.5" cy="507.3" r="0.34" stroke="none"/>
<line x1="222.3" y1="500.1" x2="222.6" y2="501.0" stroke-width="0.46"/>
<line x1="242.7" y1="486.2" x2="242.4" y2="487.7" stroke-width="0.66"/>
<circle cx="226.2" cy="515.1" r="0.33" stroke="none"/>
<line x1="249.4" y1="487.4" x2="249.0" y2="488.5" stroke-width="0.69"/>
<circle cx="227.1" cy="477.1" r="0.39" stroke="none"/>
<circle cx="228.0" cy="479.8" r="0.43" stroke="none"/>
<line x1="233.6" y1="491.3" x2="234.6" y2="491.6" stroke-width="0.49"/>
<line x1="224.8" y1="511.9" x2="224.9" y2="512.9" stroke-width="0.59"/>
<line x1="237.2" y1="483.6" x2="236.2" y2="484.1" stroke-width="0.72"/>
<circle cx="225.3" cy="478.0" r="0.34" stroke="none"/>
<line x1="230.2" y1="499.9" x2="228.6" y2="500.4" stroke-width="0.50"/>
<line x1="219.7" y1="503.6" x2="219.3" y2="505.4" stroke-width="0.57"/>
<line x1="247.7" y1="494.7" x2="248.5" y2="495.0" stroke-width="0.62"/>
<line x1="231.5" y1="474.9" x2="230.2" y2="475.5" stroke-width="0.63"/>
<circle cx="228.8" cy="498.0" r="0.52" stroke="none"/>
<circle cx="226.8" cy="514.3" r="0.59" stroke="none"/>
<circle cx="219.3" cy="479.3" r="0.53" stroke="none"/>
<line x1="243.7" y1="505.4" x2="243.9" y2="506.2" stroke-width="0.60"/>
<line x1="226.9" y1="482.5" x2="227.2" y2="483.6" stroke-width="0.71"/>
</g>
<g fill="#6b6b6b" stroke="#6b6b6b" stroke-linecap="round">
<circle cx="245.2" cy="526.4" r="0.33" stroke="none"/>
<circle cx="242.3" cy="529.4" r="0.52" stroke="none"/>
<circle cx="282.3" cy="507.3" r="0.39" stroke="none"/>
<line x1="237.8" y1="533.9" x2="238.4" y2="534.9" stroke-width="0.72"/>
<circle cx="268.9" cy="500.8" r="0.57" stroke="none"/>
<line x1="253.5" y1="545.2" x2="252.5" y2="546.8" stroke-width="0.42"/>
<circle cx="290.5" cy="492.4" r="0.52" stroke="none"/>
<line x1="264.6" y1="526.3" x2="264.6" y2="528.5" stroke-width="0.77"/>
<circle cx="284.0" cy="514.7" r="0.37" stroke="none"/>
<line x1="249.7" y1="524.1" x2="248.7" y2="524.9" stroke-width="0.64"/>
<line x1="271.1" y1="506.5" x2="271.4" y2="507.3" stroke-width="0.73"/>
<circle cx="262.7" cy="496.3" r="0.43" stroke="none"/>
<line x1="268.6" y1="518.4" x2="269.6" y2="519.2" stroke-width="0.55"/>
<circle cx="252.0" cy="498.2" r="0.57" stroke="none"/>
<line x1="249.8" y1="515.6" x2="249.0" y2="517.5" stroke-width="0.66"/>
<line x1="250.2" y1="502.1" x2="249.3" y2="503.1" stroke-width="0.69"/>
<line x1="289.5" y1="514.5" x2="289.6" y2="515.5" stroke-width="0.74"/>
<circle cx="269.9" cy="528.9" r="0.31" stroke="none"/>
<line x1="266.3" y1="476.6" x2="265.6" y2="477.5" stroke-width="0.70"/>
<line x1="276.5" y1="508.1" x2="274.5" y2="508.2" stroke-width="0.64"/>
<line x1="288.6" y1="498.7" x2="290.6" y2="499.5" stroke-width="0.46"/>
<circle cx="251.2" cy="543.1" r="0.37" stroke="none"/>
<line x1="282.8" y1="521.1" x2="283.4" y2="521.8" stroke-width="0.76"/>
<circle cx="270.3" cy="509.9" r="0.40" stroke="none"/>
<line x1="278.9" y1="483.1" x2="277.3" y2="484.1" stroke-width="0.41"/>
<line x1="252.9" y1="527.1" x2="253.5" y2="528.0" stroke-width="0.68"/>
<line x1="275.0" y1="517.8" x2="276.5" y2="519.1" stroke-width="0.75"/>
<line x1="256.3" y1="507.7" x2="257.7" y2="508.2" stroke-width="0.61"/>
<circle cx="252.5" cy="535.9" r="0.55" stroke="none"/>
<circle cx="256.4" cy="486.5" r="0.51" stroke="none"/>
</g>
<g fill="#6b6b6b" stroke="#6b6b6b" stroke-linecap="round">
<circle cx="242.5" cy="548.8" r="0.43" stroke="none"/>
<line x1="313.1" y1="576.2" x2="313.7" y2="577.6" stroke-width="0.71"/>
<line x1="233.8" y1="536.3" x2="233.5" y2="537.8" stroke-width="0.57"/>
<line x1="214.3" y1="537.3" x2="214.7" y2="538.8" stroke-width="0.71"/>
<line x1="266.1" y1="565.0" x2="268.0" y2="565.3" stroke-width="0.59"/>
<circle cx="217.4" cy="533.7" r="0.33" stroke="none"/>
<line x1="237.8" y1="535.1" x2="239.1" y2="536.0" stroke-width="0.76"/>
<line x1="290.1" y1="569.0" x2="290.1" y2="570.4" stroke-width="0.57"/>
<line x1="301.8" y1="571.2" x2="303.6" y2="571.3" stroke-width="0.63"/>
<circle cx="242.9" cy="532.1" r="0.54" stroke="none"/>
<circle cx="257.2" cy="546.0" r="0.33" stroke="none"/>
<line x1="281.3" y1="596.6" x2="283.3" y2="597.0" stroke-width="0.74"/>
<line x1="251.8" y1="536.8" x2="250.6" y2="538.1" stroke-width="0.70"/>
<circle cx="247.3" cy="562.1" r="0.39" stroke="none"/>
<line x1="246.2" y1="546.0" x2="246.5" y2="547.5" stroke-width="0.72"/>
<line x1="306.4" y1="606.9" x2="307.9" y2="607.1" stroke-width="0.52"/>
<line x1="256.1" y1="565.7" x2="254.3" y2="566.2" stroke-width="0.51"/>
<line x1="256.2" y1="528.5" x2="257.6" y2="529.2" stroke-width="0.41"/>
<circle cx="301.9" cy="599.5" r="0.39" stroke="none"/>
<circle cx="322.4" cy="592.6" r="0.31" stroke="none"/>
<circle cx="308.5" cy="586.9" r="0.32" stroke="none"/>
<line x1="218.7" y1="529.8" x2="219.8" y2="530.5" stroke-width="0.76"/>
<circle cx="259.6" cy="554.0" r="0.33" stroke="none"/>
<circle cx="279.7" cy="568.7" r="0.35" stroke="none"/>
<line x1="237.9" y1="538.1" x2="239.1" y2="539.0" stroke-width="0.70"/>
</g>
<g fill="#6b6b6b" stroke="#6b6b6b" stroke-linecap="round">
<circle cx="158.1" cy="533.7" r="0.32" stroke="none"/>
<circle cx="188.7" cy="528.2" r="0.49" stroke="none"/>
<line x1="163.8" y1="530.5" x2="165.4" y2="530.5" stroke-width="0.44"/>
<line x1="180.9" y1="546.0" x2="180.0" y2="546.5" stroke-width="0.72"/>
<line x1="172.4" y1="529.0" x2="172.1" y2="530.8" stroke-width="0.41"/>
<circle cx="147.9" cy="522.7" r="0.41" stroke="none"/>
<line x1="190.2" y1="532.6" x2="190.9" y2="533.3" stroke-width="0.41"/>
<circle cx="193.7" cy="543.7" r="0.57" stroke="none"/>
<line x1="167.2" y1="526.3" x2="168.8" y2="526.5" stroke-width="0.54"/>
<circle cx="184.7" cy="546.2" r="0.44" stroke="none"/>
<line x1="163.7" y1="523.9" x2="165.3" y2="524.4" stroke-width="0.41"/>
<circle cx="188.6" cy="523.6" r="0.31" stroke="none"/>
<line x1="186.5" y1="530.7" x2="185.1" y2="530.8" stroke-width="0.54"/>
<circle cx="183.1" cy="555.5" r="0.42" stroke="none"/>
<circle cx="189.8" cy="528.9" r="0.50" stroke="none"/>
<line x1="154.2" y1="513.3" x2="154.4" y2="514.4" stroke-width="0.42"/>
<line x1="151.6" y1="511.6" x2="151.1" y2="512.3" stroke-width="0.69"/>
<circle cx="184.8" cy="538.3" r="0.46" stroke="none"/>
<line x1="158.2" y1="509.1" x2="158.9" y2="509.8" stroke-width="0.41"/>
<line x1="178.5" y1="546.2" x2="179.8" y2="547.6" stroke-width="0.67"/>
<circle cx="162.6" cy="536.4" r="0.59" stroke="none"/>
<line x1="183.6" y1="517.0" x2="184.5" y2="517.8" stroke-width="0.62"/>
<circle cx="190.7" cy="539.1" r="0.31" stroke="none"/>
<line x1="193.8" y1="526.2" x2="192.9" y2="526.2" stroke-width="0.43"/>
<circle cx="169.3" cy="536.0" r="0.51" stroke="none"/>
</g>
<path d="M128.0 474.5 L128.0 498.0" fill="none" stroke="#4f4f4f" stroke-width="0.55" stroke-linejoin="round" stroke-linecap="round"/>
<path d="M135.0 474.5 L135.0 498.5" fill="none" stroke="#4f4f4f" stroke-width="0.55" stroke-linejoin="round" stroke-linecap="round"/>
<path d="M139.0 474.5 L139.0 499.0" fill="none" stroke="#4f4f4f" stroke-width="0.55" stroke-linejoin="round" stroke-linecap="round"/>
<path d="M143.0 478.5 L143.0 499.0" fill="none" stroke="#4f4f4f" stroke-width="0.55" stroke-linejoin="round" stroke-linecap="round"/>
<path d="M148.5 478.5 L148.5 488.5" fill="none" stroke="#4f4f4f" stroke-width="0.55" stroke-linejoin="round" stroke-linecap="round"/>
<path d="M121.0 486.5 L128.0 486.5" fill="none" stroke="#4f4f4f" stroke-width="0.55" stroke-linejoin="round" stroke-linecap="round"/>
<path d="M90.5 511.0 L90.5 524.1" fill="none" stroke="#4f4f4f" stroke-width="0.55" stroke-linejoin="round" stroke-linecap="round"/>
<path d="M95.6 502.5 L95.6 516.5" fill="none" stroke="#4f4f4f" stroke-width="0.55" stroke-linejoin="round" stroke-linecap="round"/>
<path d="M102.0 502.5 L102.0 524.5" fill="none" stroke="#4f4f4f" stroke-width="0.55" stroke-linejoin="round" stroke-linecap="round"/>
<path d="M84.5 512.5 L90.5 512.5" fill="none" stroke="#4f4f4f" stroke-width="0.55" stroke-linejoin="round" stroke-linecap="round"/>
<path d="M71.4 462.9 L78.2 469.0 L84.7 471.3" fill="none" stroke="#4f4f4f" stroke-width="0.55" stroke-linejoin="round" stroke-linecap="round"/>
<path d="M120.7 423.5 L120.7 440.0" fill="none" stroke="#4f4f4f" stroke-width="0.55" stroke-linejoin="round" stroke-linecap="round"/>
<path d="M131.7 423.5 L131.7 439.5" fill="none" stroke="#4f4f4f" stroke-width="0.55" stroke-linejoin="round" stroke-linecap="round"/>
<path d="M146.0 423.5 L146.0 444.5" fill="none" stroke="#4f4f4f" stroke-width="0.55" stroke-linejoin="round" stroke-linecap="round"/>
<path d="M91.0 559.5 L104.0 559.5" fill="none" stroke="#4f4f4f" stroke-width="0.55" stroke-linejoin="round" stroke-linecap="round"/>
<path d="M112.4 545.8 L105.0 568.5 L99.5 579.3" fill="none" stroke="#4f4f4f" stroke-width="0.55" stroke-linejoin="round" stroke-linecap="round"/>
<path d="M101.8 586.5 L101.8 622.5" fill="none" stroke="#4f4f4f" stroke-width="0.55" stroke-linejoin="round" stroke-linecap="round"/>
<path d="M118.5 568.5 L135.0 568.5" fill="none" stroke="#4f4f4f" stroke-width="0.55" stroke-linejoin="round" stroke-linecap="round"/>
<path d="M160.0 540.5 L166.0 528.5 L172.0 524.5" fill="none" stroke="#4f4f4f" stroke-width="0.55" stroke-linejoin="round" stroke-linecap="round"/>
<path d="M209.0 527.5 L215.0 530.5 L222.0 526.5" fill="none" stroke="#4f4f4f" stroke-width="0.55" stroke-linejoin="round" stroke-linecap="round"/>
<path d="M90.5 511.0 L93.0 515.5 L96.4 519.8 L99.0 523.5 L102.2 527.0 L106.0 530.5" fill="none" stroke="#777" stroke-width="1.00" stroke-linejoin="round" stroke-linecap="round"/>
<path d="M232.0 525.5 L235.0 534.5 L244.0 540.5 L250.0 547.5 L259.0 551.5 L268.5 554.0" fill="none" stroke="#4a4a4a" stroke-width="1.00" stroke-linejoin="round" stroke-linecap="round"/>
<g fill="#111" stroke="#111" stroke-linecap="round">
<line x1="189.7" y1="444.5" x2="191.1" y2="445.8" stroke-width="0.70"/>
<line x1="178.6" y1="446.9" x2="178.5" y2="448.3" stroke-width="1.14"/>
<line x1="214.3" y1="433.0" x2="215.2" y2="435.0" stroke-width="0.75"/>
<circle cx="181.5" cy="425.4" r="0.83" stroke="none"/>
<circle cx="188.0" cy="424.9" r="0.99" stroke="none"/>
<circle cx="211.1" cy="443.2" r="0.59" stroke="none"/>
<line x1="204.8" y1="424.4" x2="206.1" y2="424.6" stroke-width="1.13"/>
<circle cx="187.0" cy="432.7" r="0.87" stroke="none"/>
<circle cx="185.8" cy="423.7" r="0.86" stroke="none"/>
<line x1="199.1" y1="445.0" x2="197.4" y2="445.5" stroke-width="0.67"/>
<circle cx="216.6" cy="424.6" r="0.75" stroke="none"/>
<line x1="192.0" y1="448.8" x2="194.1" y2="449.5" stroke-width="1.06"/>
<circle cx="177.4" cy="424.5" r="0.67" stroke="none"/>
<circle cx="210.4" cy="436.0" r="0.77" stroke="none"/>
<circle cx="184.5" cy="431.8" r="0.85" stroke="none"/>
<circle cx="206.5" cy="426.9" r="0.95" stroke="none"/>
<line x1="188.9" y1="428.1" x2="190.7" y2="428.9" stroke-width="0.73"/>
<line x1="181.3" y1="424.4" x2="182.5" y2="425.2" stroke-width="1.28"/>
<line x1="203.3" y1="438.0" x2="203.1" y2="439.8" stroke-width="1.31"/>
<line x1="192.8" y1="445.9" x2="194.5" y2="446.6" stroke-width="0.98"/>
<circle cx="203.1" cy="440.3" r="0.56" stroke="none"/>
<line x1="177.3" y1="433.9" x2="178.1" y2="435.1" stroke-width="0.70"/>
<circle cx="204.0" cy="438.7" r="0.61" stroke="none"/>
<circle cx="212.3" cy="427.1" r="0.58" stroke="none"/>
<line x1="188.4" y1="433.0" x2="189.3" y2="433.6" stroke-width="1.28"/>
<circle cx="187.6" cy="445.1" r="0.69" stroke="none"/>
<circle cx="200.1" cy="436.2" r="0.77" stroke="none"/>
<circle cx="184.5" cy="423.9" r="0.47" stroke="none"/>
<line x1="185.4" y1="435.9" x2="186.1" y2="437.7" stroke-width="0.59"/>
<line x1="185.5" y1="453.9" x2="184.7" y2="454.6" stroke-width="1.07"/>
<circle cx="196.3" cy="429.6" r="0.51" stroke="none"/>
<circle cx="180.4" cy="431.8" r="0.80" stroke="none"/>
<line x1="202.3" y1="437.8" x2="202.9" y2="439.4" stroke-width="1.31"/>
<circle cx="196.9" cy="425.6" r="0.72" stroke="none"/>
<circle cx="182.9" cy="445.4" r="0.48" stroke="none"/>
<circle cx="202.8" cy="429.8" r="1.09" stroke="none"/>
<line x1="190.4" y1="438.6" x2="192.3" y2="438.7" stroke-width="0.96"/>
<circle cx="191.8" cy="436.2" r="0.76" stroke="none"/>
<line x1="204.7" y1="430.4" x2="203.9" y2="430.8" stroke-width="0.73"/>
<circle cx="186.5" cy="432.5" r="0.72" stroke="none"/>
<circle cx="192.3" cy="433.0" r="0.98" stroke="none"/>
<circle cx="213.0" cy="434.1" r="0.81" stroke="none"/>
<circle cx="189.1" cy="425.9" r="0.67" stroke="none"/>
<line x1="190.9" y1="429.3" x2="190.3" y2="430.4" stroke-width="0.82"/>
<circle cx="180.4" cy="425.8" r="0.62" stroke="none"/>
<circle cx="179.6" cy="447.4" r="0.52" stroke="none"/>
<line x1="184.0" y1="448.5" x2="185.8" y2="449.0" stroke-width="0.95"/>
<circle cx="196.4" cy="436.4" r="0.68" stroke="none"/>
</g>
<g fill="#111" stroke="#111" stroke-linecap="round">
<circle cx="181.4" cy="451.2" r="0.69" stroke="none"/>
<circle cx="199.8" cy="476.5" r="0.53" stroke="none"/>
<circle cx="215.1" cy="466.6" r="1.21" stroke="none"/>
<line x1="194.3" y1="440.5" x2="196.1" y2="440.6" stroke-width="1.37"/>
<line x1="215.1" y1="482.3" x2="216.0" y2="482.6" stroke-width="1.58"/>
<line x1="185.0" y1="441.5" x2="185.5" y2="442.4" stroke-width="0.64"/>
<circle cx="191.6" cy="486.9" r="0.58" stroke="none"/>
<circle cx="210.5" cy="468.9" r="0.91" stroke="none"/>
<line x1="203.8" y1="452.0" x2="204.5" y2="454.0" stroke-width="0.93"/>
<circle cx="196.8" cy="444.0" r="0.83" stroke="none"/>
<line x1="197.6" y1="475.6" x2="197.2" y2="476.4" stroke-width="0.68"/>
<line x1="191.3" y1="459.7" x2="193.4" y2="459.8" stroke-width="0.79"/>
<circle cx="208.3" cy="488.1" r="0.84" stroke="none"/>
<circle cx="216.0" cy="471.4" r="0.87" stroke="none"/>
<line x1="187.9" y1="459.3" x2="186.6" y2="460.0" stroke-width="1.34"/>
<line x1="204.6" y1="481.6" x2="205.2" y2="482.2" stroke-width="1.26"/>
<line x1="204.1" y1="488.9" x2="202.0" y2="489.2" stroke-width="1.40"/>
<line x1="198.1" y1="444.7" x2="198.5" y2="445.5" stroke-width="0.92"/>
<circle cx="209.4" cy="489.5" r="0.62" stroke="none"/>
<line x1="203.7" y1="464.6" x2="203.0" y2="465.1" stroke-width="1.53"/>
<line x1="209.7" y1="474.2" x2="210.9" y2="474.7" stroke-width="1.38"/>
<line x1="220.0" y1="489.6" x2="220.3" y2="491.6" stroke-width="0.82"/>
<line x1="189.2" y1="468.0" x2="187.7" y2="468.5" stroke-width="0.72"/>
<line x1="220.8" y1="483.7" x2="220.2" y2="485.8" stroke-width="1.37"/>
<circle cx="200.1" cy="443.8" r="0.60" stroke="none"/>
<line x1="192.0" y1="476.2" x2="190.3" y2="476.3" stroke-width="1.11"/>
<circle cx="194.1" cy="441.6" r="0.86" stroke="none"/>
<circle cx="185.8" cy="444.9" r="1.03" stroke="none"/>
<circle cx="194.6" cy="464.1" r="0.96" stroke="none"/>
<line x1="183.6" y1="454.2" x2="184.9" y2="454.6" stroke-width="0.80"/>
<circle cx="187.6" cy="482.9" r="0.71" stroke="none"/>
<circle cx="213.7" cy="454.0" r="0.57" stroke="none"/>
<circle cx="198.9" cy="467.3" r="0.55" stroke="none"/>
<circle cx="211.4" cy="462.8" r="0.65" stroke="none"/>
<line x1="191.0" y1="490.3" x2="191.2" y2="491.3" stroke-width="1.30"/>
<circle cx="212.6" cy="461.5" r="0.52" stroke="none"/>
<line x1="213.2" y1="470.9" x2="211.9" y2="471.0" stroke-width="1.18"/>
<line x1="201.1" y1="465.0" x2="199.6" y2="465.5" stroke-width="1.08"/>
<circle cx="195.3" cy="483.5" r="1.14" stroke="none"/>
<line x1="217.9" y1="458.0" x2="217.3" y2="459.8" stroke-width="0.69"/>
<circle cx="210.3" cy="472.0" r="0.93" stroke="none"/>
<line x1="203.3" y1="441.3" x2="204.9" y2="441.6" stroke-width="1.15"/>
<circle cx="215.0" cy="454.6" r="0.99" stroke="none"/>
<line x1="208.0" y1="484.1" x2="207.5" y2="485.3" stroke-width="1.31"/>
<circle cx="196.3" cy="474.2" r="0.59" stroke="none"/>
<circle cx="215.5" cy="475.9" r="0.77" stroke="none"/>
<circle cx="181.5" cy="448.5" r="1.25" stroke="none"/>
<circle cx="185.4" cy="447.0" r="0.81" stroke="none"/>
<circle cx="206.0" cy="462.5" r="0.90" stroke="none"/>
<line x1="183.2" y1="482.3" x2="184.9" y2="482.9" stroke-width="1.35"/>
<circle cx="215.5" cy="457.8" r="0.56" stroke="none"/>
<line x1="207.5" y1="458.4" x2="208.5" y2="458.9" stroke-width="1.01"/>
<circle cx="211.3" cy="446.6" r="0.61" stroke="none"/>
<line x1="187.2" y1="452.5" x2="187.1" y2="453.4" stroke-width="1.35"/>
<line x1="200.8" y1="475.4" x2="202.0" y2="475.5" stroke-width="1.05"/>
</g>
<g fill="#111" stroke="#111" stroke-linecap="round">
<line x1="242.1" y1="444.3" x2="241.1" y2="446.1" stroke-width="1.05"/>
<circle cx="259.4" cy="424.7" r="0.73" stroke="none"/>
<circle cx="239.9" cy="436.1" r="0.87" stroke="none"/>
<line x1="228.4" y1="430.1" x2="227.8" y2="431.8" stroke-width="0.84"/>
<circle cx="234.7" cy="453.7" r="0.86" stroke="none"/>
<circle cx="227.5" cy="425.9" r="0.85" stroke="none"/>
<line x1="219.3" y1="430.7" x2="220.8" y2="430.7" stroke-width="0.68"/>
<line x1="228.5" y1="433.8" x2="230.5" y2="434.1" stroke-width="0.64"/>
<line x1="251.1" y1="441.1" x2="252.3" y2="441.6" stroke-width="0.60"/>
<line x1="215.9" y1="428.6" x2="215.3" y2="429.9" stroke-width="0.65"/>
<circle cx="237.1" cy="432.3" r="0.67" stroke="none"/>
<line x1="237.5" y1="433.2" x2="236.8" y2="433.5" stroke-width="1.03"/>
<circle cx="240.7" cy="436.0" r="0.56" stroke="none"/>
<circle cx="248.8" cy="423.7" r="0.65" stroke="none"/>
<line x1="243.7" y1="448.6" x2="243.7" y2="449.8" stroke-width="0.82"/>
<line x1="233.3" y1="451.8" x2="234.8" y2="452.8" stroke-width="0.73"/>
<circle cx="244.7" cy="429.1" r="0.71" stroke="none"/>
<circle cx="235.1" cy="452.1" r="0.86" stroke="none"/>
<circle cx="239.1" cy="453.9" r="0.71" stroke="none"/>
<line x1="226.8" y1="442.2" x2="228.6" y2="443.4" stroke-width="0.89"/>
<circle cx="231.7" cy="451.7" r="0.77" stroke="none"/>
<line x1="244.6" y1="430.9" x2="245.3" y2="432.2" stroke-width="0.60"/>
<line x1="235.9" y1="425.4" x2="236.8" y2="425.8" stroke-width="0.57"/>
<circle cx="253.8" cy="440.5" r="0.63" stroke="none"/>
<line x1="217.0" y1="431.3" x2="218.1" y2="433.0" stroke-width="0.75"/>
<line x1="213.4" y1="436.3" x2="212.7" y2="437.1" stroke-width="0.77"/>
<line x1="215.2" y1="423.5" x2="217.2" y2="424.3" stroke-width="1.16"/>
<line x1="229.9" y1="452.1" x2="228.7" y2="453.1" stroke-width="0.55"/>
<line x1="253.3" y1="433.5" x2="252.9" y2="434.5" stroke-width="1.09"/>
<circle cx="223.2" cy="455.4" r="0.62" stroke="none"/>
<circle cx="227.5" cy="448.6" r="0.85" stroke="none"/>
<circle cx="225.0" cy="445.9" r="0.88" stroke="none"/>
<circle cx="235.6" cy="434.1" r="0.45" stroke="none"/>
<line x1="221.1" y1="426.1" x2="221.6" y2="427.5" stroke-width="0.54"/>
<line x1="221.9" y1="435.2" x2="223.3" y2="435.8" stroke-width="1.01"/>
<circle cx="232.5" cy="442.3" r="0.80" stroke="none"/>
<circle cx="238.2" cy="438.8" r="0.56" stroke="none"/>
<circle cx="240.7" cy="429.0" r="0.63" stroke="none"/>
<circle cx="225.0" cy="427.7" r="0.55" stroke="none"/>
<circle cx="228.5" cy="452.9" r="0.86" stroke="none"/>
<circle cx="254.0" cy="425.1" r="0.63" stroke="none"/>
<circle cx="225.5" cy="443.0" r="0.84" stroke="none"/>
<line x1="214.6" y1="430.4" x2="213.1" y2="431.3" stroke-width="0.88"/>
<circle cx="244.7" cy="452.9" r="0.56" stroke="none"/>
<circle cx="230.9" cy="429.2" r="0.46" stroke="none"/>
</g>
<g fill="#111" stroke="#111" stroke-linecap="round">
<circle cx="204.6" cy="506.9" r="0.73" stroke="none"/>
<circle cx="217.6" cy="500.7" r="0.78" stroke="none"/>
<line x1="196.3" y1="493.1" x2="197.4" y2="494.4" stroke-width="0.75"/>
<line x1="213.7" y1="511.6" x2="214.8" y2="512.7" stroke-width="0.51"/>
<circle cx="216.0" cy="512.9" r="0.77" stroke="none"/>
<line x1="208.6" y1="498.7" x2="208.4" y2="500.3" stroke-width="0.64"/>
<line x1="206.2" y1="501.5" x2="204.9" y2="502.4" stroke-width="0.70"/>
<line x1="212.7" y1="513.2" x2="214.0" y2="514.8" stroke-width="0.62"/>
<line x1="214.3" y1="501.9" x2="213.4" y2="502.2" stroke-width="0.91"/>
<line x1="200.5" y1="503.4" x2="201.4" y2="504.2" stroke-width="0.53"/>
<circle cx="187.5" cy="498.9" r="0.40" stroke="none"/>
<line x1="200.0" y1="496.9" x2="199.8" y2="498.9" stroke-width="1.01"/>
<circle cx="207.5" cy="514.9" r="0.38" stroke="none"/>
<circle cx="197.4" cy="499.5" r="0.70" stroke="none"/>
</g>
<g fill="#111" stroke="#111" stroke-linecap="round">
<circle cx="164.5" cy="441.6" r="0.60" stroke="none"/>
<circle cx="158.3" cy="448.8" r="0.53" stroke="none"/>
<circle cx="158.0" cy="428.8" r="0.59" stroke="none"/>
<line x1="169.3" y1="428.7" x2="168.4" y2="429.7" stroke-width="0.89"/>
<line x1="152.1" y1="439.1" x2="152.6" y2="440.0" stroke-width="0.42"/>
<circle cx="173.1" cy="434.8" r="0.63" stroke="none"/>
<line x1="163.2" y1="429.7" x2="162.6" y2="431.8" stroke-width="0.59"/>
<circle cx="163.4" cy="441.8" r="0.66" stroke="none"/>
<circle cx="167.4" cy="434.9" r="0.34" stroke="none"/>
<line x1="171.7" y1="431.3" x2="171.4" y2="432.4" stroke-width="0.74"/>
<circle cx="151.9" cy="438.8" r="0.34" stroke="none"/>
<circle cx="172.7" cy="437.1" r="0.30" stroke="none"/>
</g>
<g fill="#111" stroke="#111" stroke-linecap="round">
<line x1="196.6" y1="485.8" x2="194.9" y2="486.0" stroke-width="0.81"/>
<circle cx="193.3" cy="478.4" r="1.22" stroke="none"/>
<circle cx="192.3" cy="486.0" r="0.69" stroke="none"/>
<line x1="198.2" y1="479.9" x2="197.9" y2="480.9" stroke-width="1.66"/>
<circle cx="201.7" cy="475.5" r="0.96" stroke="none"/>
<circle cx="200.8" cy="474.9" r="1.21" stroke="none"/>
<line x1="195.2" y1="484.1" x2="196.2" y2="484.7" stroke-width="0.99"/>
<circle cx="200.3" cy="480.0" r="1.29" stroke="none"/>
<circle cx="194.1" cy="479.6" r="0.65" stroke="none"/>
<circle cx="198.1" cy="481.7" r="0.66" stroke="none"/>
<line x1="193.1" y1="485.3" x2="191.0" y2="485.4" stroke-width="1.20"/>
<circle cx="195.3" cy="486.5" r="0.80" stroke="none"/>
</g>
<g fill="#111" stroke="#111" stroke-linecap="round">
<circle cx="293.9" cy="667.8" r="0.79" stroke="none"/>
<circle cx="187.1" cy="654.6" r="0.62" stroke="none"/>
<circle cx="231.4" cy="643.8" r="0.81" stroke="none"/>
<line x1="201.8" y1="659.9" x2="203.2" y2="660.5" stroke-width="1.10"/>
<circle cx="264.7" cy="640.2" r="0.49" stroke="none"/>
<circle cx="198.7" cy="665.5" r="0.48" stroke="none"/>
<circle cx="212.6" cy="629.5" r="0.50" stroke="none"/>
<circle cx="289.4" cy="673.5" r="0.87" stroke="none"/>
<line x1="185.4" y1="639.0" x2="184.5" y2="639.0" stroke-width="0.94"/>
<line x1="185.2" y1="617.7" x2="186.2" y2="618.6" stroke-width="0.63"/>
<line x1="290.9" y1="641.6" x2="292.3" y2="642.5" stroke-width="0.93"/>
<line x1="259.2" y1="609.5" x2="258.5" y2="610.5" stroke-width="0.94"/>
<circle cx="268.8" cy="641.3" r="0.44" stroke="none"/>
<line x1="191.5" y1="623.1" x2="191.1" y2="625.1" stroke-width="0.52"/>
<circle cx="194.8" cy="638.3" r="0.44" stroke="none"/>
<circle cx="195.0" cy="629.8" r="0.54" stroke="none"/>
<line x1="297.1" y1="613.2" x2="295.6" y2="614.6" stroke-width="0.81"/>
<circle cx="168.9" cy="651.3" r="0.55" stroke="none"/>
<line x1="235.8" y1="630.4" x2="235.9" y2="631.7" stroke-width="0.94"/>
<line x1="213.5" y1="613.5" x2="213.0" y2="614.7" stroke-width="0.75"/>
<circle cx="173.4" cy="640.5" r="0.70" stroke="none"/>
<circle cx="264.1" cy="628.4" r="0.86" stroke="none"/>
<circle cx="161.2" cy="645.9" r="0.66" stroke="none"/>
<circle cx="258.8" cy="650.7" r="0.74" stroke="none"/>
<line x1="217.1" y1="637.9" x2="217.0" y2="639.3" stroke-width="0.87"/>
<line x1="214.1" y1="643.0" x2="213.9" y2="644.1" stroke-width="0.94"/>
<circle cx="296.4" cy="650.0" r="0.75" stroke="none"/>
<circle cx="206.8" cy="634.3" r="0.60" stroke="none"/>
<circle cx="244.1" cy="655.8" r="0.75" stroke="none"/>
<line x1="277.3" y1="660.3" x2="277.1" y2="661.3" stroke-width="1.14"/>
<line x1="279.2" y1="669.6" x2="277.8" y2="670.2" stroke-width="0.95"/>
<circle cx="254.4" cy="616.8" r="0.45" stroke="none"/>
<line x1="278.8" y1="630.0" x2="277.8" y2="630.3" stroke-width="0.57"/>
<line x1="262.4" y1="625.5" x2="260.9" y2="625.7" stroke-width="1.13"/>
<line x1="151.3" y1="631.1" x2="152.8" y2="631.5" stroke-width="0.80"/>
<line x1="259.0" y1="654.8" x2="259.2" y2="656.5" stroke-width="0.73"/>
<circle cx="296.7" cy="627.2" r="0.47" stroke="none"/>
<circle cx="238.5" cy="632.5" r="0.83" stroke="none"/>
<line x1="261.4" y1="610.5" x2="260.4" y2="611.0" stroke-width="0.76"/>
<circle cx="166.4" cy="634.8" r="0.55" stroke="none"/>
<circle cx="205.6" cy="612.1" r="0.73" stroke="none"/>
<line x1="254.0" y1="643.3" x2="253.0" y2="645.1" stroke-width="0.57"/>
<circle cx="166.2" cy="623.2" r="0.55" stroke="none"/>
<circle cx="204.8" cy="649.3" r="0.43" stroke="none"/>
<circle cx="258.0" cy="616.5" r="0.48" stroke="none"/>
<line x1="220.3" y1="636.7" x2="219.7" y2="638.1" stroke-width="1.14"/>
<circle cx="243.4" cy="623.6" r="0.78" stroke="none"/>
<circle cx="153.2" cy="627.8" r="0.40" stroke="none"/>
<circle cx="262.5" cy="631.8" r="0.89" stroke="none"/>
<circle cx="249.3" cy="611.2" r="0.55" stroke="none"/>
<circle cx="221.4" cy="619.5" r="0.40" stroke="none"/>
<circle cx="190.1" cy="610.9" r="0.65" stroke="none"/>
<line x1="236.7" y1="604.0" x2="236.3" y2="605.1" stroke-width="1.12"/>
<line x1="201.5" y1="611.7" x2="201.0" y2="613.4" stroke-width="1.03"/>
<line x1="297.2" y1="605.0" x2="298.8" y2="605.1" stroke-width="0.98"/>
<line x1="211.2" y1="635.2" x2="212.5" y2="635.7" stroke-width="0.64"/>
<circle cx="258.9" cy="661.0" r="0.84" stroke="none"/>
<circle cx="260.6" cy="635.0" r="0.82" stroke="none"/>
<line x1="270.7" y1="618.0" x2="272.2" y2="619.0" stroke-width="1.16"/>
<line x1="296.7" y1="654.3" x2="297.5" y2="656.0" stroke-width="0.63"/>
<circle cx="289.7" cy="661.7" r="0.79" stroke="none"/>
<circle cx="242.4" cy="636.2" r="0.78" stroke="none"/>
<line x1="247.3" y1="628.2" x2="247.8" y2="629.9" stroke-width="0.86"/>
<circle cx="261.3" cy="639.8" r="0.64" stroke="none"/>
<circle cx="233.0" cy="641.3" r="0.46" stroke="none"/>
<line x1="264.4" y1="606.8" x2="263.9" y2="607.7" stroke-width="0.77"/>
<circle cx="257.5" cy="628.6" r="0.81" stroke="none"/>
<circle cx="262.7" cy="618.9" r="0.85" stroke="none"/>
<line x1="213.7" y1="619.3" x2="213.7" y2="621.1" stroke-width="0.92"/>
<circle cx="228.8" cy="620.8" r="0.75" stroke="none"/>
<circle cx="243.3" cy="634.2" r="0.61" stroke="none"/>
<circle cx="205.8" cy="632.4" r="0.89" stroke="none"/>
<line x1="222.8" y1="653.2" x2="223.7" y2="654.4" stroke-width="0.86"/>
<circle cx="290.2" cy="617.2" r="0.49" stroke="none"/>
<circle cx="220.3" cy="631.2" r="0.69" stroke="none"/>
</g>
<g fill="#111" stroke="#111" stroke-linecap="round">
<circle cx="299.1" cy="660.3" r="0.73" stroke="none"/>
<line x1="300.7" y1="606.0" x2="299.8" y2="607.3" stroke-width="0.76"/>
<circle cx="258.8" cy="607.0" r="0.68" stroke="none"/>
<circle cx="234.0" cy="596.7" r="0.51" stroke="none"/>
<circle cx="324.2" cy="628.2" r="0.64" stroke="none"/>
<circle cx="229.1" cy="624.1" r="0.45" stroke="none"/>
<line x1="226.1" y1="638.9" x2="225.8" y2="639.7" stroke-width="0.99"/>
<circle cx="267.2" cy="581.8" r="0.74" stroke="none"/>
<circle cx="311.3" cy="643.9" r="0.58" stroke="none"/>
<circle cx="311.1" cy="618.8" r="0.45" stroke="none"/>
<line x1="230.8" y1="615.1" x2="230.4" y2="616.0" stroke-width="0.78"/>
<circle cx="303.0" cy="602.7" r="0.36" stroke="none"/>
<circle cx="232.7" cy="581.5" r="0.58" stroke="none"/>
<circle cx="288.7" cy="618.0" r="0.61" stroke="none"/>
<circle cx="260.3" cy="587.8" r="0.66" stroke="none"/>
<circle cx="287.5" cy="668.8" r="0.35" stroke="none"/>
<line x1="315.5" y1="609.7" x2="314.6" y2="609.7" stroke-width="0.64"/>
<circle cx="323.6" cy="644.5" r="0.75" stroke="none"/>
<line x1="266.6" y1="626.7" x2="265.1" y2="627.5" stroke-width="0.99"/>
<circle cx="257.1" cy="622.7" r="0.36" stroke="none"/>
<circle cx="278.3" cy="601.8" r="0.69" stroke="none"/>
<circle cx="340.8" cy="663.5" r="0.74" stroke="none"/>
</g>
<g fill="#111" stroke="#111" stroke-linecap="round">
<line x1="151.3" y1="599.1" x2="150.6" y2="600.2" stroke-width="0.88"/>
<circle cx="137.4" cy="607.3" r="0.56" stroke="none"/>
<circle cx="150.1" cy="601.8" r="0.41" stroke="none"/>
<circle cx="146.7" cy="606.2" r="0.78" stroke="none"/>
<line x1="133.8" y1="607.9" x2="132.9" y2="608.7" stroke-width="0.98"/>
<line x1="130.7" y1="599.8" x2="131.7" y2="600.8" stroke-width="0.70"/>
<circle cx="161.1" cy="599.0" r="0.77" stroke="none"/>
<circle cx="156.3" cy="601.8" r="0.75" stroke="none"/>
<line x1="129.1" y1="599.4" x2="128.7" y2="600.9" stroke-width="0.84"/>
<circle cx="128.8" cy="601.6" r="0.69" stroke="none"/>
<line x1="134.3" y1="598.8" x2="134.9" y2="599.4" stroke-width="0.47"/>
<circle cx="146.2" cy="613.3" r="0.38" stroke="none"/>
<line x1="151.5" y1="608.6" x2="151.0" y2="609.9" stroke-width="0.61"/>
<circle cx="130.9" cy="598.4" r="0.67" stroke="none"/>
<line x1="130.1" y1="605.7" x2="129.8" y2="606.5" stroke-width="0.91"/>
<line x1="130.4" y1="603.6" x2="131.9" y2="603.9" stroke-width="0.67"/>
<circle cx="138.4" cy="590.2" r="0.74" stroke="none"/>
<circle cx="157.5" cy="605.7" r="0.37" stroke="none"/>
<line x1="145.4" y1="596.3" x2="144.3" y2="597.2" stroke-width="0.67"/>
<circle cx="141.3" cy="599.5" r="0.66" stroke="none"/>
<line x1="133.1" y1="603.2" x2="131.3" y2="604.1" stroke-width="1.02"/>
<line x1="143.2" y1="614.2" x2="143.4" y2="615.1" stroke-width="0.60"/>
</g>
<g fill="#111" stroke="#111" stroke-linecap="round">
<line x1="144.4" y1="618.8" x2="145.3" y2="619.7" stroke-width="0.87"/>
<line x1="136.7" y1="611.9" x2="134.9" y2="612.2" stroke-width="0.71"/>
<circle cx="148.1" cy="622.2" r="0.41" stroke="none"/>
<line x1="150.8" y1="628.0" x2="149.1" y2="628.7" stroke-width="0.92"/>
<circle cx="157.0" cy="620.1" r="0.75" stroke="none"/>
<line x1="137.2" y1="618.2" x2="138.3" y2="618.4" stroke-width="0.48"/>
<line x1="141.6" y1="621.2" x2="142.9" y2="622.1" stroke-width="0.84"/>
<circle cx="159.7" cy="625.7" r="0.48" stroke="none"/>
<line x1="158.1" y1="614.9" x2="158.6" y2="615.8" stroke-width="0.54"/>
<line x1="142.8" y1="625.7" x2="142.6" y2="627.8" stroke-width="0.47"/>
<circle cx="149.8" cy="617.6" r="0.48" stroke="none"/>
<line x1="159.4" y1="619.1" x2="160.3" y2="620.3" stroke-width="0.52"/>
<line x1="166.7" y1="614.7" x2="166.2" y2="615.7" stroke-width="0.77"/>
<line x1="154.2" y1="626.5" x2="152.3" y2="627.4" stroke-width="0.67"/>
<circle cx="141.2" cy="620.7" r="0.38" stroke="none"/>
<line x1="140.7" y1="621.9" x2="138.6" y2="622.0" stroke-width="0.95"/>
<circle cx="143.3" cy="624.1" r="0.41" stroke="none"/>
<line x1="146.6" y1="621.0" x2="147.4" y2="623.0" stroke-width="0.85"/>
<line x1="163.7" y1="613.3" x2="163.9" y2="615.4" stroke-width="0.61"/>
<circle cx="156.2" cy="623.2" r="0.71" stroke="none"/>
<line x1="136.2" y1="617.0" x2="135.2" y2="617.3" stroke-width="0.63"/>
<line x1="154.7" y1="618.6" x2="155.4" y2="619.6" stroke-width="0.46"/>
<line x1="148.6" y1="620.7" x2="150.1" y2="621.0" stroke-width="0.74"/>
<line x1="145.6" y1="617.5" x2="144.5" y2="617.9" stroke-width="0.59"/>
<line x1="162.0" y1="617.5" x2="163.0" y2="618.6" stroke-width="0.77"/>
<line x1="140.8" y1="615.4" x2="140.7" y2="616.5" stroke-width="0.61"/>
<circle cx="163.9" cy="613.2" r="0.57" stroke="none"/>
<circle cx="138.5" cy="616.7" r="0.57" stroke="none"/>
<circle cx="133.6" cy="614.5" r="0.64" stroke="none"/>
<circle cx="130.5" cy="612.7" r="0.43" stroke="none"/>
</g>
<path d="M216.5 423.5 L217.0 437.8 L214.5 444.3 L210.4 447.5 L205.5 447.5 L203.0 450.9 L197.3 449.2 L191.5 450.0 L189.0 454.1 L187.5 457.5 L183.4 455.8 L179.3 453.3" fill="none" stroke="#111" stroke-width="1.50" stroke-linejoin="round" stroke-linecap="round"/>
<path d="M248.0 444.5 L240.0 445.5 L230.0 449.2 L225.0 454.1 L218.5 459.0 L212.0 465.5 L208.7 470.5 L202.0 473.8 L197.3 475.5" fill="none" stroke="#111" stroke-width="1.50" stroke-linejoin="round" stroke-linecap="round"/>
<path d="M179.3 453.3 L183.4 457.5 L187.5 460.5 L192.4 464.0 L195.6 468.9 L197.3 475.5 L196.5 482.5 L197.0 487.5 L199.0 494.5 L203.0 502.5 L207.0 509.5 L209.0 513.5" fill="none" stroke="#111" stroke-width="1.50" stroke-linejoin="round" stroke-linecap="round"/>
<path d="M205.5 448.5 L203.8 457.5 L200.5 462.3 L196.5 465.5" fill="none" stroke="#111" stroke-width="1.20" stroke-linejoin="round" stroke-linecap="round"/>
<path d="M175.0 423.5 L175.0 434.5 L172.0 437.0 L173.5 440.2 L177.6 441.0 L178.5 446.0 L176.8 449.2 L179.3 453.3" fill="none" stroke="#111" stroke-width="1.00" stroke-linejoin="round" stroke-linecap="round"/>
<path d="M234.0 615.5 L240.0 620.5 L246.0 624.5 L250.0 630.5 L260.0 633.5 L270.0 634.5 L280.0 637.5 L290.0 641.5 L300.0 642.5 L310.0 640.5 L320.0 638.5" fill="none" stroke="#111" stroke-width="1.50" stroke-linejoin="round" stroke-linecap="round"/>
<path d="M322.8 596.9 L323.0 600.5 L326.0 608.5 L334.0 610.5 L342.0 610.5 L347.0 613.5 L349.0 621.5 L347.0 627.5 L343.0 631.5 L345.0 635.5 L352.0 639.5 L356.0 646.5 L355.0 653.5 L358.0 660.5 L359.0 665.5 L354.0 669.5 L348.0 668.5 L340.0 671.5 L334.0 674.5 L331.0 678.5 L333.0 683.5 L338.0 687.5 L335.0 688.0 L330.0 685.5 L324.0 688.5 L318.0 685.5 L310.0 679.5 L302.0 676.5 L296.0 676.5 L284.0 675.5 L278.0 670.5 L272.0 664.5 L264.0 660.5 L256.0 662.5 L248.0 661.5 L240.0 656.5 L230.0 657.5 L224.0 660.5 L218.0 665.5 L214.0 662.5 L206.0 663.5 L198.0 666.5 L192.0 667.5 L188.0 662.5 L180.0 657.5 L172.0 656.0 L165.5 655.5 L161.0 651.2 L155.3 646.1 L150.2 641.0 L148.7 636.7 L146.5 632.3 L143.6 628.7 L141.5 624.3 L138.5 621.5 L135.0 617.0 L130.5 614.1 L126.2 615.5" fill="none" stroke="#111" stroke-width="1.10" stroke-linejoin="round" stroke-linecap="round"/>
<path d="M124.0 588.7 L129.0 587.2 L134.2 589.5 L139.3 590.1 L137.0 594.5 L136.4 598.1 L143.6 597.5 L145.0 595.2 L150.2 596.0 L153.8 597.5 L156.0 601.8 L158.2 600.3 L159.6 596.7 L161.8 597.5 L162.5 601.8 L164.0 605.5 L167.0 606.9 L167.6 611.2 L164.0 612.7 L158.2 613.5 L151.0 614.1 L145.0 614.9 L140.7 613.5 L136.4 610.5 L132.0 607.5 L128.4 606.1 L125.5 604.0 L124.0 598.9 L122.5 593.8 Z" fill="none" stroke="#111" stroke-width="1.10" stroke-linejoin="round" stroke-linecap="round"/>
<path d="M128.4 606.1 L127.0 611.2 L126.2 615.5" fill="none" stroke="#111" stroke-width="1.10" stroke-linejoin="round" stroke-linecap="round"/>
<path d="M167.6 611.2 L167.6 614.9 L162.5 616.3 L162.5 620.7 L161.0 625.8 L155.3 626.5 L148.7 629.5 L148.7 636.7" fill="none" stroke="#111" stroke-width="1.10" stroke-linejoin="round" stroke-linecap="round"/>
<path d="M167.6 614.9 L170.0 615.5 L176.0 616.5 L182.0 612.5 L188.0 608.5 L194.0 610.5 L198.0 609.5 L210.0 607.5 L216.0 606.5 L222.0 611.5 L230.0 615.5 L238.0 615.5" fill="none" stroke="#111" stroke-width="1.00" stroke-linejoin="round" stroke-linecap="round"/>
<path d="M109.5 622.9 L109.2 619.0 L112.5 616.8 L116.7 618.0 L116.0 622.1 Z" fill="none" stroke="#111" stroke-width="0.90" stroke-linejoin="round" stroke-linecap="round"/>
<rect x="46.9" y="409.3" width="390.3" height="292.5" fill="none" stroke="#333" stroke-width="1.1"/>
<g stroke="#333" stroke-width="1.1">
<line x1="73.7" y1="701.8" x2="73.7" y2="705.7"/>
<line x1="43.0" y1="414.9" x2="46.9" y2="414.9"/>
<line x1="125.6" y1="701.8" x2="125.6" y2="705.7"/>
<line x1="43.0" y1="453.2" x2="46.9" y2="453.2"/>
<line x1="177.5" y1="701.8" x2="177.5" y2="705.7"/>
<line x1="43.0" y1="491.6" x2="46.9" y2="491.6"/>
<line x1="229.5" y1="701.8" x2="229.5" y2="705.7"/>
<line x1="43.0" y1="529.9" x2="46.9" y2="529.9"/>
<line x1="281.4" y1="701.8" x2="281.4" y2="705.7"/>
<line x1="43.0" y1="568.2" x2="46.9" y2="568.2"/>
<line x1="333.3" y1="701.8" x2="333.3" y2="705.7"/>
<line x1="43.0" y1="606.6" x2="46.9" y2="606.6"/>
<line x1="385.2" y1="701.8" x2="385.2" y2="705.7"/>
<line x1="43.0" y1="645.0" x2="46.9" y2="645.0"/>
<line x1="437.1" y1="701.8" x2="437.1" y2="705.7"/>
<line x1="43.0" y1="683.3" x2="46.9" y2="683.3"/>
</g>
<g font-size="11.3" fill="#4d4d4d" letter-spacing="0.2">
<text x="73.7" y="717.3" text-anchor="middle">122.4°W</text>
<text x="40.4" y="418.9" text-anchor="end">47.8°N</text>
<text x="125.6" y="717.3" text-anchor="middle">122.2°W</text>
<text x="40.4" y="457.2" text-anchor="end">47.7°N</text>
<text x="177.5" y="717.3" text-anchor="middle">122.0°W</text>
<text x="40.4" y="495.6" text-anchor="end">47.6°N</text>
<text x="229.5" y="717.3" text-anchor="middle">121.8°W</text>
<text x="40.4" y="533.9" text-anchor="end">47.5°N</text>
<text x="281.4" y="717.3" text-anchor="middle">121.6°W</text>
<text x="40.4" y="572.2" text-anchor="end">47.4°N</text>
<text x="333.3" y="717.3" text-anchor="middle">121.4°W</text>
<text x="40.4" y="610.6" text-anchor="end">47.3°N</text>
<text x="385.2" y="717.3" text-anchor="middle">121.2°W</text>
<text x="40.4" y="649.0" text-anchor="end">47.2°N</text>
<text x="437.1" y="717.3" text-anchor="middle">121.0°W</text>
<text x="40.4" y="687.3" text-anchor="end">47.1°N</text>
</g>
<text x="47" y="398.1" font-size="17.0" fill="#111" textLength="237.2" lengthAdjust="spacing">Vaccine Coverage - School Age</text>
<text x="459" y="493.3" font-size="14.4" fill="#111">% Vaccinated</text>
<text x="459" y="508.3" font-size="14.4" fill="#111">Children</text>
<rect x="459" y="517.5" width="22.6" height="113.2" fill="url(#lg)"/>
<text x="489.3" y="521.2" font-size="11.8" fill="#111">100</text>
<text x="489.3" y="549.5" font-size="11.8" fill="#111">80</text>
<path d="M459 546.0h4.5M481.6 546.0h-4.5" stroke="#fff" stroke-opacity=".6" stroke-width=".6"/>
<text x="489.3" y="577.8" font-size="11.8" fill="#111">60</text>
<path d="M459 574.3h4.5M481.6 574.3h-4.5" stroke="#fff" stroke-opacity=".6" stroke-width=".6"/>
<text x="489.3" y="606.1" font-size="11.8" fill="#111">40</text>
<path d="M459 602.6h4.5M481.6 602.6h-4.5" stroke="#fff" stroke-opacity=".6" stroke-width=".6"/>
<text x="489.3" y="634.4" font-size="11.8" fill="#111">20</text>
</svg></body></html>
